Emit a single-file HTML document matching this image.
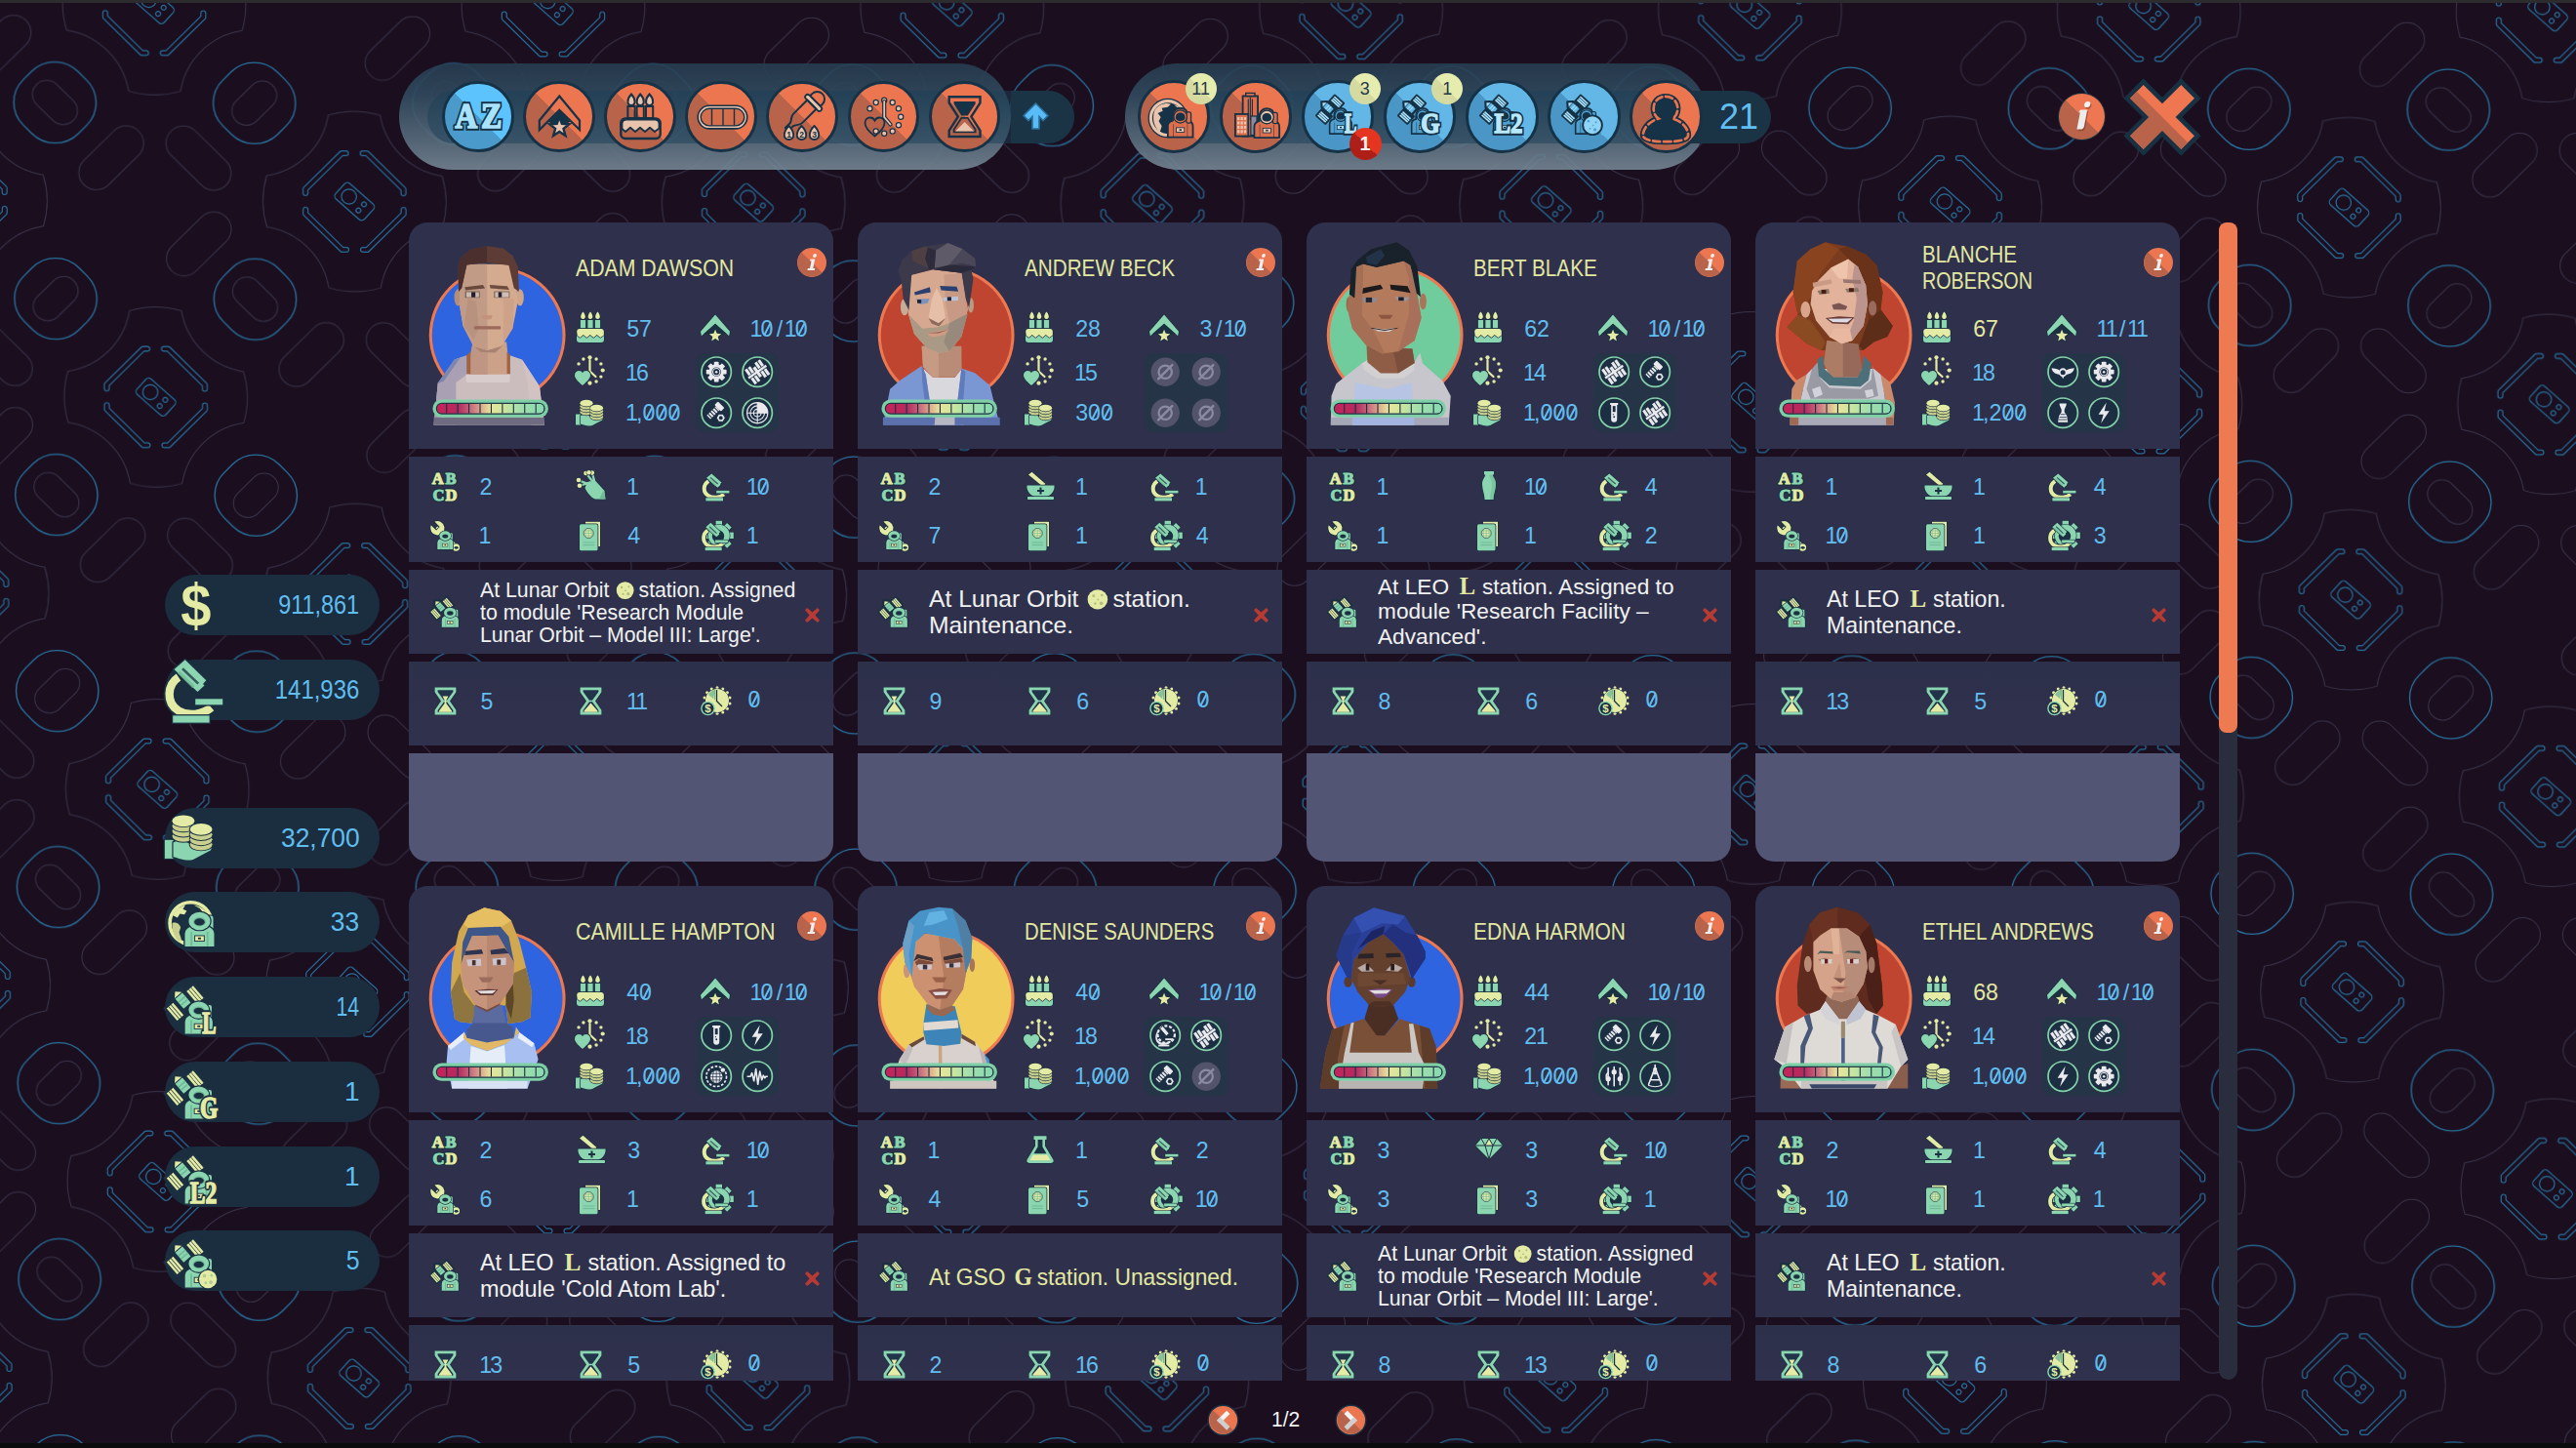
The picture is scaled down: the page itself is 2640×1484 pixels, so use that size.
<!DOCTYPE html><html><head><meta charset="utf-8"><title>Crew</title><style>
*{margin:0;padding:0;box-sizing:border-box}
html,body{width:2640px;height:1484px;overflow:hidden;background:#1a0e1f}
body{position:relative;font-family:"Liberation Sans", sans-serif;}
.abs{position:absolute}
.t{position:absolute;white-space:nowrap;line-height:1;transform-origin:0 50%}
.num{color:#60bdf0;font-size:23.2px}
.name{color:#e3e8a0;font-size:23.2px;}
.z{position:relative}.z::after{content:'';position:absolute;left:50%;top:50%;width:1.5px;height:.6em;background:currentColor;transform:translate(-50%,-46%) rotate(27deg)}.n{margin:0 -1.9px}.n:first-child{margin-left:-1.1px}.sl{margin:0 3.4px}
.sec{position:absolute;left:0;width:435px;background:#2f314c}
.card{position:absolute;width:435px;height:656px}
.st{position:absolute;color:#f1f1f1;white-space:nowrap;transform-origin:0 50%}
.pill{position:absolute;left:169px;width:219.5px;height:62px;border-radius:31px;background:#1a2e3f}
.pill .v{position:absolute;right:20px;top:50%;color:#60bdf0;font-size:28px;line-height:1;white-space:nowrap;transform-origin:100% 50%}
.cb{position:absolute;width:73.5px;height:73.5px;border-radius:50%;border:3.5px solid #163246}
.cb.o{background:linear-gradient(to top right,#b8634a 50%,#ec7650 50%)}
.cb.b{background:linear-gradient(to top right,#4a9bcb 50%,#5dc3fd 50%)}
.cb.b2{background:linear-gradient(to top right,#4a96c6 50%,#62b7e6 50%)}
.badge{position:absolute;width:32px;height:32px;border-radius:50%;background:#e2e6a0;color:#26384a;font-size:18px;line-height:32px;text-align:center}
</style></head><body><svg width="0" height="0" style="position:absolute"><defs><pattern id="bgp" patternUnits="userSpaceOnUse" width="402.0" height="402.0" x="0" y="0" patternTransform="matrix(1.017 0.00308 0.004 1 159.7 406.9)"><g transform="translate(201.0,201.0)"><path d="M-26.18,-88.41 A92.2,92.2 0 0 1 26.18,-88.41 A75.3,75.3 0 0 0 88.41,-26.18 A92.2,92.2 0 0 1 88.41,26.18 A75.3,75.3 0 0 0 26.18,88.41 A92.2,92.2 0 0 1 -26.18,88.41 A75.3,75.3 0 0 0 -88.41,26.18 A92.2,92.2 0 0 1 -88.41,-26.18 A75.3,75.3 0 0 0 -26.18,-88.41 Z" fill="none" stroke="#39334a" stroke-width="1"/><g transform="translate(-31,-31) rotate(-45) scale(1,1)" fill="none" stroke-linecap="round" stroke-linejoin="round"><path d="M-29,3 L-26,0 L26,0 L29,3" stroke="#27709c" stroke-width="6.0"/><path d="M-29,3 L-26,0 L26,0 L29,3" stroke="#1a0e1f" stroke-width="3.7"/></g><g transform="translate(31,-31) rotate(45) scale(1,1)" fill="none" stroke-linecap="round" stroke-linejoin="round"><path d="M-29,3 L-26,0 L26,0 L29,3" stroke="#27709c" stroke-width="6.0"/><path d="M-29,3 L-26,0 L26,0 L29,3" stroke="#1a0e1f" stroke-width="3.7"/></g><g transform="translate(-31,31) rotate(45) scale(1,-1)" fill="none" stroke-linecap="round" stroke-linejoin="round"><path d="M-29,3 L-26,0 L26,0 L29,3" stroke="#27709c" stroke-width="6.0"/><path d="M-29,3 L-26,0 L26,0 L29,3" stroke="#1a0e1f" stroke-width="3.7"/></g><g transform="translate(31,31) rotate(-45) scale(1,-1)" fill="none" stroke-linecap="round" stroke-linejoin="round"><path d="M-29,3 L-26,0 L26,0 L29,3" stroke="#27709c" stroke-width="6.0"/><path d="M-29,3 L-26,0 L26,0 L29,3" stroke="#1a0e1f" stroke-width="3.7"/></g><g transform="rotate(42)" fill="none" stroke="#27709c" stroke-width="1.15"><rect x="-19.5" y="-10.6" width="39" height="21.2" rx="4"/><circle cx="-7.5" cy="0" r="7.6"/><circle cx="9" cy="-4.2" r="2.4"/><circle cx="9" cy="4.2" r="2.4"/></g></g><g transform="translate(0,0)"><path d="M-26.18,-88.41 A92.2,92.2 0 0 1 26.18,-88.41 A75.3,75.3 0 0 0 88.41,-26.18 A92.2,92.2 0 0 1 88.41,26.18 A75.3,75.3 0 0 0 26.18,88.41 A92.2,92.2 0 0 1 -26.18,88.41 A75.3,75.3 0 0 0 -88.41,26.18 A92.2,92.2 0 0 1 -88.41,-26.18 A75.3,75.3 0 0 0 -26.18,-88.41 Z" fill="none" stroke="#39334a" stroke-width="1"/><g transform="translate(-31,-31) rotate(-45) scale(1,1)" fill="none" stroke-linecap="round" stroke-linejoin="round"><path d="M-29,3 L-26,0 L26,0 L29,3" stroke="#27709c" stroke-width="6.0"/><path d="M-29,3 L-26,0 L26,0 L29,3" stroke="#1a0e1f" stroke-width="3.7"/></g><g transform="translate(31,-31) rotate(45) scale(1,1)" fill="none" stroke-linecap="round" stroke-linejoin="round"><path d="M-29,3 L-26,0 L26,0 L29,3" stroke="#27709c" stroke-width="6.0"/><path d="M-29,3 L-26,0 L26,0 L29,3" stroke="#1a0e1f" stroke-width="3.7"/></g><g transform="translate(-31,31) rotate(45) scale(1,-1)" fill="none" stroke-linecap="round" stroke-linejoin="round"><path d="M-29,3 L-26,0 L26,0 L29,3" stroke="#27709c" stroke-width="6.0"/><path d="M-29,3 L-26,0 L26,0 L29,3" stroke="#1a0e1f" stroke-width="3.7"/></g><g transform="translate(31,31) rotate(-45) scale(1,-1)" fill="none" stroke-linecap="round" stroke-linejoin="round"><path d="M-29,3 L-26,0 L26,0 L29,3" stroke="#27709c" stroke-width="6.0"/><path d="M-29,3 L-26,0 L26,0 L29,3" stroke="#1a0e1f" stroke-width="3.7"/></g><g transform="rotate(42)" fill="none" stroke="#27709c" stroke-width="1.15"><rect x="-19.5" y="-10.6" width="39" height="21.2" rx="4"/><circle cx="-7.5" cy="0" r="7.6"/><circle cx="9" cy="-4.2" r="2.4"/><circle cx="9" cy="4.2" r="2.4"/></g></g><g transform="translate(402.0,0)"><path d="M-26.18,-88.41 A92.2,92.2 0 0 1 26.18,-88.41 A75.3,75.3 0 0 0 88.41,-26.18 A92.2,92.2 0 0 1 88.41,26.18 A75.3,75.3 0 0 0 26.18,88.41 A92.2,92.2 0 0 1 -26.18,88.41 A75.3,75.3 0 0 0 -88.41,26.18 A92.2,92.2 0 0 1 -88.41,-26.18 A75.3,75.3 0 0 0 -26.18,-88.41 Z" fill="none" stroke="#39334a" stroke-width="1"/><g transform="translate(-31,-31) rotate(-45) scale(1,1)" fill="none" stroke-linecap="round" stroke-linejoin="round"><path d="M-29,3 L-26,0 L26,0 L29,3" stroke="#27709c" stroke-width="6.0"/><path d="M-29,3 L-26,0 L26,0 L29,3" stroke="#1a0e1f" stroke-width="3.7"/></g><g transform="translate(31,-31) rotate(45) scale(1,1)" fill="none" stroke-linecap="round" stroke-linejoin="round"><path d="M-29,3 L-26,0 L26,0 L29,3" stroke="#27709c" stroke-width="6.0"/><path d="M-29,3 L-26,0 L26,0 L29,3" stroke="#1a0e1f" stroke-width="3.7"/></g><g transform="translate(-31,31) rotate(45) scale(1,-1)" fill="none" stroke-linecap="round" stroke-linejoin="round"><path d="M-29,3 L-26,0 L26,0 L29,3" stroke="#27709c" stroke-width="6.0"/><path d="M-29,3 L-26,0 L26,0 L29,3" stroke="#1a0e1f" stroke-width="3.7"/></g><g transform="translate(31,31) rotate(-45) scale(1,-1)" fill="none" stroke-linecap="round" stroke-linejoin="round"><path d="M-29,3 L-26,0 L26,0 L29,3" stroke="#27709c" stroke-width="6.0"/><path d="M-29,3 L-26,0 L26,0 L29,3" stroke="#1a0e1f" stroke-width="3.7"/></g><g transform="rotate(42)" fill="none" stroke="#27709c" stroke-width="1.15"><rect x="-19.5" y="-10.6" width="39" height="21.2" rx="4"/><circle cx="-7.5" cy="0" r="7.6"/><circle cx="9" cy="-4.2" r="2.4"/><circle cx="9" cy="4.2" r="2.4"/></g></g><g transform="translate(0,402.0)"><path d="M-26.18,-88.41 A92.2,92.2 0 0 1 26.18,-88.41 A75.3,75.3 0 0 0 88.41,-26.18 A92.2,92.2 0 0 1 88.41,26.18 A75.3,75.3 0 0 0 26.18,88.41 A92.2,92.2 0 0 1 -26.18,88.41 A75.3,75.3 0 0 0 -88.41,26.18 A92.2,92.2 0 0 1 -88.41,-26.18 A75.3,75.3 0 0 0 -26.18,-88.41 Z" fill="none" stroke="#39334a" stroke-width="1"/><g transform="translate(-31,-31) rotate(-45) scale(1,1)" fill="none" stroke-linecap="round" stroke-linejoin="round"><path d="M-29,3 L-26,0 L26,0 L29,3" stroke="#27709c" stroke-width="6.0"/><path d="M-29,3 L-26,0 L26,0 L29,3" stroke="#1a0e1f" stroke-width="3.7"/></g><g transform="translate(31,-31) rotate(45) scale(1,1)" fill="none" stroke-linecap="round" stroke-linejoin="round"><path d="M-29,3 L-26,0 L26,0 L29,3" stroke="#27709c" stroke-width="6.0"/><path d="M-29,3 L-26,0 L26,0 L29,3" stroke="#1a0e1f" stroke-width="3.7"/></g><g transform="translate(-31,31) rotate(45) scale(1,-1)" fill="none" stroke-linecap="round" stroke-linejoin="round"><path d="M-29,3 L-26,0 L26,0 L29,3" stroke="#27709c" stroke-width="6.0"/><path d="M-29,3 L-26,0 L26,0 L29,3" stroke="#1a0e1f" stroke-width="3.7"/></g><g transform="translate(31,31) rotate(-45) scale(1,-1)" fill="none" stroke-linecap="round" stroke-linejoin="round"><path d="M-29,3 L-26,0 L26,0 L29,3" stroke="#27709c" stroke-width="6.0"/><path d="M-29,3 L-26,0 L26,0 L29,3" stroke="#1a0e1f" stroke-width="3.7"/></g><g transform="rotate(42)" fill="none" stroke="#27709c" stroke-width="1.15"><rect x="-19.5" y="-10.6" width="39" height="21.2" rx="4"/><circle cx="-7.5" cy="0" r="7.6"/><circle cx="9" cy="-4.2" r="2.4"/><circle cx="9" cy="4.2" r="2.4"/></g></g><g transform="translate(402.0,402.0)"><path d="M-26.18,-88.41 A92.2,92.2 0 0 1 26.18,-88.41 A75.3,75.3 0 0 0 88.41,-26.18 A92.2,92.2 0 0 1 88.41,26.18 A75.3,75.3 0 0 0 26.18,88.41 A92.2,92.2 0 0 1 -26.18,88.41 A75.3,75.3 0 0 0 -88.41,26.18 A92.2,92.2 0 0 1 -88.41,-26.18 A75.3,75.3 0 0 0 -26.18,-88.41 Z" fill="none" stroke="#39334a" stroke-width="1"/><g transform="translate(-31,-31) rotate(-45) scale(1,1)" fill="none" stroke-linecap="round" stroke-linejoin="round"><path d="M-29,3 L-26,0 L26,0 L29,3" stroke="#27709c" stroke-width="6.0"/><path d="M-29,3 L-26,0 L26,0 L29,3" stroke="#1a0e1f" stroke-width="3.7"/></g><g transform="translate(31,-31) rotate(45) scale(1,1)" fill="none" stroke-linecap="round" stroke-linejoin="round"><path d="M-29,3 L-26,0 L26,0 L29,3" stroke="#27709c" stroke-width="6.0"/><path d="M-29,3 L-26,0 L26,0 L29,3" stroke="#1a0e1f" stroke-width="3.7"/></g><g transform="translate(-31,31) rotate(45) scale(1,-1)" fill="none" stroke-linecap="round" stroke-linejoin="round"><path d="M-29,3 L-26,0 L26,0 L29,3" stroke="#27709c" stroke-width="6.0"/><path d="M-29,3 L-26,0 L26,0 L29,3" stroke="#1a0e1f" stroke-width="3.7"/></g><g transform="translate(31,31) rotate(-45) scale(1,-1)" fill="none" stroke-linecap="round" stroke-linejoin="round"><path d="M-29,3 L-26,0 L26,0 L29,3" stroke="#27709c" stroke-width="6.0"/><path d="M-29,3 L-26,0 L26,0 L29,3" stroke="#1a0e1f" stroke-width="3.7"/></g><g transform="rotate(42)" fill="none" stroke="#27709c" stroke-width="1.15"><rect x="-19.5" y="-10.6" width="39" height="21.2" rx="4"/><circle cx="-7.5" cy="0" r="7.6"/><circle cx="9" cy="-4.2" r="2.4"/><circle cx="9" cy="4.2" r="2.4"/></g></g><g transform="translate(100.5,100.5)"><rect x="-39" y="-39" width="78" height="78" rx="33" transform="rotate(45)" fill="none" stroke="#27709c" stroke-width="1.35"/><rect x="-26" y="-14.5" width="52" height="29" rx="14.5" transform="rotate(-45)" fill="none" stroke="#39334a" stroke-width="1"/></g><g transform="translate(301.5,100.5)"><rect x="-39" y="-39" width="78" height="78" rx="33" transform="rotate(45)" fill="none" stroke="#27709c" stroke-width="1.35"/><rect x="-26" y="-14.5" width="52" height="29" rx="14.5" transform="rotate(45)" fill="none" stroke="#39334a" stroke-width="1"/></g><g transform="translate(100.5,301.5)"><rect x="-39" y="-39" width="78" height="78" rx="33" transform="rotate(45)" fill="none" stroke="#27709c" stroke-width="1.35"/><rect x="-26" y="-14.5" width="52" height="29" rx="14.5" transform="rotate(45)" fill="none" stroke="#39334a" stroke-width="1"/></g><g transform="translate(301.5,301.5)"><rect x="-39" y="-39" width="78" height="78" rx="33" transform="rotate(45)" fill="none" stroke="#27709c" stroke-width="1.35"/><rect x="-26" y="-14.5" width="52" height="29" rx="14.5" transform="rotate(-45)" fill="none" stroke="#39334a" stroke-width="1"/></g><rect x="-39" y="-17.5" width="78" height="35" rx="17.5" transform="translate(157.0,-44) rotate(-45)" fill="none" stroke="#39334a" stroke-width="1"/><rect x="-39" y="-17.5" width="78" height="35" rx="17.5" transform="translate(245.0,-44) rotate(45)" fill="none" stroke="#39334a" stroke-width="1"/><rect x="-39" y="-17.5" width="78" height="35" rx="17.5" transform="translate(245.0,44) rotate(-45)" fill="none" stroke="#39334a" stroke-width="1"/><rect x="-39" y="-17.5" width="78" height="35" rx="17.5" transform="translate(-44,157.0) rotate(-45)" fill="none" stroke="#39334a" stroke-width="1"/><rect x="-39" y="-17.5" width="78" height="35" rx="17.5" transform="translate(44,157.0) rotate(45)" fill="none" stroke="#39334a" stroke-width="1"/><rect x="-39" y="-17.5" width="78" height="35" rx="17.5" transform="translate(44,245.0) rotate(-45)" fill="none" stroke="#39334a" stroke-width="1"/><rect x="-39" y="-17.5" width="78" height="35" rx="17.5" transform="translate(157.0,358.0) rotate(-45)" fill="none" stroke="#39334a" stroke-width="1"/><rect x="-39" y="-17.5" width="78" height="35" rx="17.5" transform="translate(245.0,358.0) rotate(45)" fill="none" stroke="#39334a" stroke-width="1"/><rect x="-39" y="-17.5" width="78" height="35" rx="17.5" transform="translate(245.0,446.0) rotate(-45)" fill="none" stroke="#39334a" stroke-width="1"/><rect x="-39" y="-17.5" width="78" height="35" rx="17.5" transform="translate(358.0,157.0) rotate(-45)" fill="none" stroke="#39334a" stroke-width="1"/><rect x="-39" y="-17.5" width="78" height="35" rx="17.5" transform="translate(446.0,157.0) rotate(45)" fill="none" stroke="#39334a" stroke-width="1"/><rect x="-39" y="-17.5" width="78" height="35" rx="17.5" transform="translate(446.0,245.0) rotate(-45)" fill="none" stroke="#39334a" stroke-width="1"/></pattern><linearGradient id="mbg" x1="0" x2="1" y1="0" y2="0"><stop offset="0" stop-color="#c5225a"/><stop offset="0.1" stop-color="#c0255b"/><stop offset="0.2" stop-color="#b12c60"/><stop offset="0.3" stop-color="#c4607a"/><stop offset="0.4" stop-color="#dba28b"/><stop offset="0.5" stop-color="#e8e49c"/><stop offset="0.6" stop-color="#d4e69d"/><stop offset="0.7" stop-color="#b8e3a6"/><stop offset="0.8" stop-color="#a0deab"/><stop offset="1" stop-color="#88d9b1"/></linearGradient><clipPath id="mbc"><rect x="129" y="1258" width="794" height="72" rx="36"/></clipPath><symbol id="i-cake" viewBox="0 0 30 34" overflow="visible"><path d="M7.5,1.5 C10.7,5 10.5,9 7.5,9 C4.5,9 4.3,5 7.5,1.5 Z" fill="#e4eba4" stroke="#1b3142" stroke-width="1.6" stroke-linejoin="round" paint-order="stroke"/><rect x="4.9" y="10" width="5.2" height="9" fill="#8bd6b0" stroke="#1b3142" stroke-width="1.6" stroke-linejoin="round" paint-order="stroke"/><path d="M15,1.5 C18.2,5 18,9 15,9 C12,9 11.8,5 15,1.5 Z" fill="#e4eba4" stroke="#1b3142" stroke-width="1.6" stroke-linejoin="round" paint-order="stroke"/><rect x="12.4" y="10" width="5.2" height="9" fill="#8bd6b0" stroke="#1b3142" stroke-width="1.6" stroke-linejoin="round" paint-order="stroke"/><path d="M22.5,1.5 C25.7,5 25.5,9 22.5,9 C19.5,9 19.3,5 22.5,1.5 Z" fill="#e4eba4" stroke="#1b3142" stroke-width="1.6" stroke-linejoin="round" paint-order="stroke"/><rect x="19.9" y="10" width="5.2" height="9" fill="#8bd6b0" stroke="#1b3142" stroke-width="1.6" stroke-linejoin="round" paint-order="stroke"/><rect x="1" y="19" width="28" height="14" rx="3" fill="#8bd6b0" stroke="#1b3142" stroke-width="1.6" stroke-linejoin="round" paint-order="stroke"/><path d="M1.2,22 a3,3 0 0 1 3,-3 h21.6 a3,3 0 0 1 3,3 v3.5 l-3.5,2.5 l-3.5,-3 l-3.5,3 l-3.5,-3 l-3.5,3 l-3.5,-3 l-3.5,3 l-2.6,-2.2 Z" fill="#e4eba4" stroke="#1b3142" stroke-width="1.2" stroke-linejoin="round" paint-order="stroke"/></symbol><symbol id="i-rank" viewBox="0 0 30.5 30" overflow="visible"><path d="M15.3,1.4 L30.5,18.9 L29.6,23.3 L15.3,10.8 L0.9,23.3 L0,18.9 Z" fill="#8bd6b0" stroke="#1b3142" stroke-width="1.6" stroke-linejoin="round" paint-order="stroke"/><path d="M15.3,10.8 L27,21 L21.5,22 L15.3,17 L9,22 L3.5,21 Z" fill="#1b3142"/><polygon points="15.30,16.70 17.00,20.95 21.58,21.26 18.06,24.20 19.18,28.64 15.30,26.20 11.42,28.64 12.54,24.20 9.02,21.26 13.60,20.95" fill="#e4eba4" stroke="#1b3142" stroke-width="1.8" stroke-linejoin="round" paint-order="stroke"/></symbol><symbol id="i-clockheart" viewBox="0 0 31 31" overflow="visible"><circle cx="15.50" cy="1.30" r="2.1" fill="#e4eba4"/><circle cx="22.10" cy="3.07" r="1.7" fill="#e4eba4"/><circle cx="26.93" cy="7.90" r="1.7" fill="#e4eba4"/><circle cx="28.70" cy="14.50" r="2.1" fill="#e4eba4"/><circle cx="26.93" cy="21.10" r="1.7" fill="#e4eba4"/><circle cx="22.10" cy="25.93" r="1.7" fill="#e4eba4"/><circle cx="15.50" cy="27.70" r="2.1" fill="#e4eba4"/><circle cx="8.90" cy="25.93" r="1.7" fill="#e4eba4"/><circle cx="4.07" cy="7.90" r="1.7" fill="#e4eba4"/><circle cx="8.90" cy="3.07" r="1.7" fill="#e4eba4"/><path d="M15.5,4 L15.5,15.5 L21.5,21" fill="none" stroke="#e4eba4" stroke-width="2.2" stroke-linecap="round" stroke-linejoin="round"/><path d="M8,30 C2,25 0,22 0,19.5 C0,16.5 2.2,15 4.4,15 C6,15 7.3,15.9 8,17.3 C8.7,15.9 10,15 11.6,15 C13.8,15 16,16.5 16,19.5 C16,22 14,25 8,30 Z" fill="#8bd6b0" stroke="#1b3142" stroke-width="1.4" stroke-linejoin="round" paint-order="stroke"/></symbol><symbol id="i-coins" viewBox="0 0 31 28" overflow="visible"><path d="M1,15.5 h5 v11 h-5 Z" fill="#8bd6b0" stroke="#1b3142" stroke-width="1.4" stroke-linejoin="round" paint-order="stroke"/><path d="M6,17 C10,15 13,16 16,18 L22,18 C24,18 24,21 22,21 L17,21 L26,19 C28.5,18.5 29.5,21 27.5,22 L18,27 C14,28.5 9,26 6,25.5 Z" fill="#8bd6b0" stroke="#1b3142" stroke-width="1.4" stroke-linejoin="round" paint-order="stroke"/><ellipse cx="12" cy="13.2" rx="6.6" ry="3.4" fill="#c9d08e" stroke="#1b3142" stroke-width="1.1" stroke-linejoin="round" paint-order="stroke"/><ellipse cx="12" cy="10.2" rx="6.6" ry="3.4" fill="#c9d08e" stroke="#1b3142" stroke-width="1.1" stroke-linejoin="round" paint-order="stroke"/><ellipse cx="12" cy="7.2" rx="6.6" ry="3.4" fill="#c9d08e" stroke="#1b3142" stroke-width="1.1" stroke-linejoin="round" paint-order="stroke"/><ellipse cx="12" cy="4.2" rx="6.6" ry="3.4" fill="#e4eba4" stroke="#1b3142" stroke-width="1.1" stroke-linejoin="round" paint-order="stroke"/><ellipse cx="22.5" cy="18.2" rx="6.6" ry="3.4" fill="#c9d08e" stroke="#1b3142" stroke-width="1.1" stroke-linejoin="round" paint-order="stroke"/><ellipse cx="22.5" cy="15.2" rx="6.6" ry="3.4" fill="#c9d08e" stroke="#1b3142" stroke-width="1.1" stroke-linejoin="round" paint-order="stroke"/><ellipse cx="22.5" cy="12.2" rx="6.6" ry="3.4" fill="#c9d08e" stroke="#1b3142" stroke-width="1.1" stroke-linejoin="round" paint-order="stroke"/><ellipse cx="22.5" cy="9.2" rx="6.6" ry="3.4" fill="#e4eba4" stroke="#1b3142" stroke-width="1.1" stroke-linejoin="round" paint-order="stroke"/></symbol><symbol id="i-abcd" viewBox="0 0 28 31" overflow="visible"><g font-family="Liberation Serif" font-weight="bold" font-size="16.5"><text x="0.8" y="13.3" fill="#1b3142" stroke="#1b3142" stroke-width="3.6" stroke-linejoin="round">A</text><text x="14.6" y="13.3" fill="#1b3142" stroke="#1b3142" stroke-width="3.6" stroke-linejoin="round">B</text><text x="1.6" y="29.6" fill="#1b3142" stroke="#1b3142" stroke-width="3.6" stroke-linejoin="round">C</text><text x="14.4" y="29.6" fill="#1b3142" stroke="#1b3142" stroke-width="3.6" stroke-linejoin="round">D</text><text x="0.8" y="13.3" fill="#e4eba4" stroke="#e4eba4" stroke-width="1.1" stroke-linejoin="round">A</text><text x="14.6" y="13.3" fill="#8bd6b0" stroke="#8bd6b0" stroke-width="1.1" stroke-linejoin="round">B</text><text x="1.6" y="29.6" fill="#8bd6b0" stroke="#8bd6b0" stroke-width="1.1" stroke-linejoin="round">C</text><text x="14.4" y="29.6" fill="#e4eba4" stroke="#e4eba4" stroke-width="1.1" stroke-linejoin="round">D</text></g></symbol><symbol id="i-micro" viewBox="0 0 58.5 69" preserveAspectRatio="none" overflow="visible"><path d="M13,21 C1.5,28.5 -0.5,47 13,55.5 C23,61.5 38,59.5 46.5,52" stroke="#1b3142" stroke-width="12" fill="none" stroke-linecap="butt"/><path d="M13,21 C1.5,28.5 -0.5,47 13,55.5 C23,61.5 38,59.5 46.5,52" stroke="#e4eba4" stroke-width="8.4" fill="none" stroke-linecap="butt"/><rect x="30.2" y="43.3" width="28" height="6" fill="#8bd6b0" stroke="#1b3142" stroke-width="2.6" paint-order="stroke"/><rect x="7.2" y="60.4" width="37.4" height="7.2" fill="#8bd6b0" stroke="#1b3142" stroke-width="2.6" paint-order="stroke"/><path d="M8.5,13.1 L19.7,3.3 L41.3,24.3 L38,28 L39.5,29.5 L32.5,36 L30.8,34.5 Z" fill="#8bd6b0" stroke="#1b3142" stroke-width="3" stroke-linejoin="round" paint-order="stroke"/><path d="M17,12.2 L33.2,27.6" stroke="#1b3142" stroke-width="2.6" opacity=".75"/><path d="M13,15.8 L28.5,31" stroke="#6fb996" stroke-width="3.4" opacity=".7"/></symbol><symbol id="i-gearmicro" viewBox="0 0 30 31" overflow="visible"><rect x="-3.2" y="-15" width="6.4" height="7" transform="translate(17.8,14.8) rotate(0)" fill="#8bd6b0" stroke="#1b3142" stroke-width="1.3" stroke-linejoin="round" paint-order="stroke"/><rect x="-3.2" y="-15" width="6.4" height="7" transform="translate(17.8,14.8) rotate(45)" fill="#8bd6b0" stroke="#1b3142" stroke-width="1.3" stroke-linejoin="round" paint-order="stroke"/><rect x="-3.2" y="-15" width="6.4" height="7" transform="translate(17.8,14.8) rotate(90)" fill="#8bd6b0" stroke="#1b3142" stroke-width="1.3" stroke-linejoin="round" paint-order="stroke"/><rect x="-3.2" y="-15" width="6.4" height="7" transform="translate(17.8,14.8) rotate(135)" fill="#8bd6b0" stroke="#1b3142" stroke-width="1.3" stroke-linejoin="round" paint-order="stroke"/><rect x="-3.2" y="-15" width="6.4" height="7" transform="translate(17.8,14.8) rotate(180)" fill="#8bd6b0" stroke="#1b3142" stroke-width="1.3" stroke-linejoin="round" paint-order="stroke"/><rect x="-3.2" y="-15" width="6.4" height="7" transform="translate(17.8,14.8) rotate(225)" fill="#8bd6b0" stroke="#1b3142" stroke-width="1.3" stroke-linejoin="round" paint-order="stroke"/><rect x="-3.2" y="-15" width="6.4" height="7" transform="translate(17.8,14.8) rotate(270)" fill="#8bd6b0" stroke="#1b3142" stroke-width="1.3" stroke-linejoin="round" paint-order="stroke"/><rect x="-3.2" y="-15" width="6.4" height="7" transform="translate(17.8,14.8) rotate(315)" fill="#8bd6b0" stroke="#1b3142" stroke-width="1.3" stroke-linejoin="round" paint-order="stroke"/><circle cx="17.8" cy="14.8" r="11" fill="#8bd6b0" stroke="#1b3142" stroke-width="1.3" stroke-linejoin="round" paint-order="stroke"/><circle cx="17" cy="15.5" r="6.2" fill="#1b3142"/><g transform="translate(0.4,0.4) scale(0.455,0.44)"><path d="M13,21 C1.5,28.5 -0.5,47 13,55.5 C23,61.5 38,59.5 46.5,52" stroke="#1b3142" stroke-width="12" fill="none" stroke-linecap="butt"/><path d="M13,21 C1.5,28.5 -0.5,47 13,55.5 C23,61.5 38,59.5 46.5,52" stroke="#e4eba4" stroke-width="8.4" fill="none" stroke-linecap="butt"/><rect x="30.2" y="43.3" width="28" height="6" fill="#8bd6b0" stroke="#1b3142" stroke-width="2.6" paint-order="stroke"/><rect x="7.2" y="60.4" width="37.4" height="7.2" fill="#8bd6b0" stroke="#1b3142" stroke-width="2.6" paint-order="stroke"/><path d="M8.5,13.1 L19.7,3.3 L41.3,24.3 L38,28 L39.5,29.5 L32.5,36 L30.8,34.5 Z" fill="#8bd6b0" stroke="#1b3142" stroke-width="3" stroke-linejoin="round" paint-order="stroke"/><path d="M17,12.2 L33.2,27.6" stroke="#1b3142" stroke-width="2.6" opacity=".75"/><path d="M13,15.8 L28.5,31" stroke="#6fb996" stroke-width="3.4" opacity=".7"/></g></symbol><symbol id="i-wrenchastro" viewBox="0 0 31 31" overflow="visible"><path d="M8,8 L26.3,27" stroke="#1b3142" stroke-width="6.6" stroke-linecap="round" fill="none"/><path d="M8,8 L26.3,27" stroke="#e4eba4" stroke-width="4.8" stroke-linecap="round" fill="none"/><circle cx="26.3" cy="27" r="3.8" fill="#e4eba4" stroke="#1b3142" stroke-width="1.4" stroke-linejoin="round" paint-order="stroke"/><ellipse cx="26.6" cy="27.3" rx="2" ry="1.4" fill="#1b3142"/><path d="M4.39,0.62 A7.2,7.2 0 1 1 0.72,4.29 L6.03,9.6 L9.7,5.93 Z" fill="#e4eba4" stroke="#1b3142" stroke-width="1.5" stroke-linejoin="round" paint-order="stroke"/><g transform="translate(6.8,9.8) scale(1.0)"><rect x="12.4" y="2.4" width="3.6" height="8" rx="1.2" fill="#8bd6b0" stroke="#1b3142" stroke-width="1.2" stroke-linejoin="round" paint-order="stroke"/><path d="M0.5,19.2 L0.5,12.6 C0.5,9.8 2.4,8.6 4.6,8.2 L12.4,8.2 C14.6,8.6 16.5,9.8 16.5,12.6 L16.5,19.2 Z" fill="#8bd6b0" stroke="#1b3142" stroke-width="1.4" stroke-linejoin="round" paint-order="stroke"/><ellipse cx="8.5" cy="5.3" rx="5.9" ry="4.9" fill="#8bd6b0" stroke="#1b3142" stroke-width="1.3" stroke-linejoin="round" paint-order="stroke"/><ellipse cx="8.5" cy="5.7" rx="3.5" ry="2.5" fill="#6fb996"/><ellipse cx="8.5" cy="5.8" rx="2.9" ry="1.9" fill="#1b3142"/><rect x="5.9" y="13.3" width="5.2" height="3" fill="#e4eba4" stroke="#1b3142" stroke-width=".5"/><rect x="7.7" y="14.3" width="1.6" height="1" fill="#1b3142"/><path d="M4.1,11.2 L4.1,19 M12.9,11.2 L12.9,19" stroke="#6fb996" stroke-width=".9" fill="none"/></g></symbol><symbol id="i-passport" viewBox="0 0 24 31" overflow="visible"><path d="M7,0.8 L22,0.8 L22,26 L7,26 Z" fill="#e4eba4" stroke="#1b3142" stroke-width="1.6" stroke-linejoin="round" paint-order="stroke"/><rect x="1" y="3.2" width="18.5" height="27" rx="1.5" fill="#8bd6b0" stroke="#1b3142" stroke-width="1.6" stroke-linejoin="round" paint-order="stroke"/><circle cx="10.2" cy="12.5" r="5" fill="#e4eba4" stroke="#1b3142" stroke-width=".7"/><path d="M5.2,12.5 H15.2 M10.2,7.5 V17.5 M6,10 H14.4 M6,15 H14.4 M8,8 C6.8,11 6.8,14 8,17 M12.4,8 C13.6,11 13.6,14 12.4,17" stroke="#6fb996" stroke-width=".6" fill="none"/><path d="M4.5,22 H16 M4.5,24.6 H16" stroke="#6fb996" stroke-width="1"/></symbol><symbol id="i-hand" viewBox="0 0 32 31" overflow="visible"><path d="M12,12 L20,10.5 L29.5,21 L30.5,29.5 L20,29.5 C16,28.5 11,22 9.5,18 Z" fill="#8bd6b0" stroke="#1b3142" stroke-width="1.6" stroke-linejoin="round" paint-order="stroke"/><path d="M30.5,29.5 L28.5,21 L24,29.5 Z" fill="#6fb996"/><path d="M13,14 L3.5,10.5 M14.5,12.5 L5,15.5 M17,11 L11,3.5 M19,10.5 L17,3" stroke="#8bd6b0" stroke-width="2.3" stroke-linecap="round" fill="none"/><circle cx="3" cy="10" r="2.3" fill="#e4eba4" stroke="#1b3142" stroke-width="1.1" stroke-linejoin="round" paint-order="stroke"/><circle cx="4" cy="15.8" r="2.3" fill="#e4eba4" stroke="#1b3142" stroke-width="1.1" stroke-linejoin="round" paint-order="stroke"/><circle cx="10.5" cy="3" r="2.3" fill="#e4eba4" stroke="#1b3142" stroke-width="1.1" stroke-linejoin="round" paint-order="stroke"/><circle cx="16.8" cy="2.6" r="2.3" fill="#e4eba4" stroke="#1b3142" stroke-width="1.1" stroke-linejoin="round" paint-order="stroke"/><circle cx="13.5" cy="2.2" r="2.3" fill="#e4eba4" stroke="#1b3142" stroke-width="1.1" stroke-linejoin="round" paint-order="stroke"/></symbol><symbol id="i-mortar" viewBox="0 0 31 30" overflow="visible"><path d="M3,3.5 L6.5,0.8 L20.5,13 L17.5,15.5 Z" fill="#e4eba4" stroke="#1b3142" stroke-width="1.6" stroke-linejoin="round" paint-order="stroke"/><path d="M1.5,14.5 L29.5,14.5 L29.5,17 C28.5,23 24,25.5 21,25.5 L10,25.5 C7,25.5 2.5,23 1.5,17 Z" fill="#8bd6b0" stroke="#1b3142" stroke-width="1.6" stroke-linejoin="round" paint-order="stroke"/><rect x="2" y="26" width="27" height="3" rx=".8" fill="#8bd6b0" stroke="#1b3142" stroke-width="1.2" stroke-linejoin="round" paint-order="stroke"/><path d="M15.5,16.5 V23.5 M12,20 H19" stroke="#1b3142" stroke-width="2"/></symbol><symbol id="i-vase" viewBox="0 0 16 31" overflow="visible"><path d="M3,1 H13 V4.5 H11.8 C11.8,7 15,9 15,14 C15,20 12.5,24 12.5,30 H3.5 C3.5,24 1,20 1,14 C1,9 4.2,7 4.2,4.5 H3 Z" fill="#8bd6b0" stroke="#1b3142" stroke-width="1.6" stroke-linejoin="round" paint-order="stroke"/><path d="M8,5 C8.5,8 11,10 11,14 C11,20 9,24 9,30 H12.5 C12.5,24 15,20 15,14 C15,9 11.8,7 11.8,4.5 Z" fill="#6fb996" opacity=".6"/></symbol><symbol id="i-flask" viewBox="0 0 30 30" overflow="visible"><path d="M8.5,1.2 H21.5 V5 H20 V11.5 L28.4,25.6 C29.2,27.4 28.2,29 26,29 H4 C1.8,29 0.8,27.4 1.6,25.6 L10,11.5 V5 H8.5 Z" fill="#8bd6b0" stroke="#1b3142" stroke-width="1.6" stroke-linejoin="round" paint-order="stroke"/><path d="M12.6,5 H17.4 V12.3 L21.5,19.2 H8.5 L12.6,12.3 Z" fill="#1b3142"/><path d="M7.6,20.6 H22.4 L25,25 C25.4,25.8 25,26.2 24.2,26.2 H5.8 C5,26.2 4.6,25.8 5,25 Z" fill="#e4eba4"/></symbol><symbol id="i-diamond" viewBox="0 0 30 23" overflow="visible"><path d="M7,1 H23 L29,8 L15,22 L1,8 Z" fill="#8bd6b0" stroke="#1b3142" stroke-width="1.6" stroke-linejoin="round" paint-order="stroke"/><path d="M1,8 H29 M7,1 L11,8 L15,1 L19,8 L23,1 M11,8 L15,22 L19,8" stroke="#1b3142" stroke-width="1" fill="none"/><path d="M11,8 L15,1 L19,8 Z" fill="#e4eba4" stroke="#1b3142" stroke-width=".8"/></symbol><symbol id="i-stationastro" viewBox="0 0 31 31" overflow="visible"><g transform="translate(0,0) scale(1.0)"><g transform="translate(10.75,11.65) rotate(-40.6)"><path d="M-11.8,-5.8 H-4.6 V-7.6 L0,-11.6 L4.6,-7.6 V-5.8 H11.8 V5.8 H4.6 V3.4 H-4.6 V5.8 H-11.8 Z" fill="#1b3142" stroke="#1b3142" stroke-width="1.6" stroke-linejoin="round"/><rect x="-10.85" y="-5" width="1.5" height="10" fill="#e4eba4"/><rect x="-8.95" y="-5" width="1.5" height="10" fill="#e4eba4"/><rect x="-7.05" y="-5" width="1.5" height="10" fill="#e4eba4"/><rect x="5.55" y="-5" width="1.5" height="10" fill="#e4eba4"/><rect x="7.45" y="-5" width="1.5" height="10" fill="#e4eba4"/><rect x="9.35" y="-5" width="1.5" height="10" fill="#e4eba4"/><path d="M-2.9,-6.6 L0,-9.6 L2.9,-6.6 Z" fill="#e4eba4"/><rect x="-2.9" y="-6" width="5.8" height="8" fill="#8bd6b0"/><rect x="-2.9" y="-3.6" width="5.8" height="1" fill="#6fb996"/><rect x="-2.9" y="-1.2" width="5.8" height="1" fill="#6fb996"/></g></g><g transform="translate(10.2,10.2) scale(1.07)"><rect x="12.4" y="2.4" width="3.6" height="8" rx="1.2" fill="#8bd6b0" stroke="#1b3142" stroke-width="1.2" stroke-linejoin="round" paint-order="stroke"/><path d="M0.5,19.2 L0.5,12.6 C0.5,9.8 2.4,8.6 4.6,8.2 L12.4,8.2 C14.6,8.6 16.5,9.8 16.5,12.6 L16.5,19.2 Z" fill="#8bd6b0" stroke="#1b3142" stroke-width="1.4" stroke-linejoin="round" paint-order="stroke"/><ellipse cx="8.5" cy="5.3" rx="5.9" ry="4.9" fill="#8bd6b0" stroke="#1b3142" stroke-width="1.3" stroke-linejoin="round" paint-order="stroke"/><ellipse cx="8.5" cy="5.7" rx="3.5" ry="2.5" fill="#6fb996"/><ellipse cx="8.5" cy="5.8" rx="2.9" ry="1.9" fill="#1b3142"/><rect x="5.9" y="13.3" width="5.2" height="3" fill="#e4eba4" stroke="#1b3142" stroke-width=".5"/><rect x="7.7" y="14.3" width="1.6" height="1" fill="#1b3142"/><path d="M4.1,11.2 L4.1,19 M12.9,11.2 L12.9,19" stroke="#6fb996" stroke-width=".9" fill="none"/></g></symbol><symbol id="i-hga" viewBox="0 0 23 29" overflow="visible"><path d="M0.6,0.6 H22.4 V5.2 L16,14.5 L22.4,23.8 V28.4 H0.6 V23.8 L7,14.5 L0.6,5.2 Z" fill="#8bd6b0" stroke="#1b3142" stroke-width="1.3" stroke-linejoin="round" paint-order="stroke"/><path d="M3.6,3.2 H19.4 V4.9 L13,13.8 H10 L3.6,4.9 Z" fill="#22344a"/><path d="M10,15.2 H13 L19.4,24.1 V25.8 H3.6 V24.1 Z" fill="#22344a"/><path d="M8.6,9.4 H14.4 L12.4,13.6 V17 L18,24.4 V25.8 H5 V24.4 L10.6,17 V13.6 Z" fill="#e4eba4"/></symbol><symbol id="i-hgb" viewBox="0 0 23 29" overflow="visible"><path d="M0.6,0.6 H22.4 V5.2 L16,14.5 L22.4,23.8 V28.4 H0.6 V23.8 L7,14.5 L0.6,5.2 Z" fill="#8bd6b0" stroke="#1b3142" stroke-width="1.3" stroke-linejoin="round" paint-order="stroke"/><path d="M3.6,3.2 H19.4 V4.9 L13,13.8 H10 L3.6,4.9 Z" fill="#22344a"/><path d="M10,15.2 H13 L19.4,24.1 V25.8 H3.6 V24.1 Z" fill="#22344a"/><path d="M11.5,16.4 L18.4,24.4 V25.8 H4.6 V24.4 Z" fill="#e4eba4"/></symbol><symbol id="i-moneyclock" viewBox="0 0 31 31" overflow="visible"><circle cx="17.00" cy="1.70" r="1.5" fill="#e4eba4"/><circle cx="22.77" cy="3.02" r="1.5" fill="#e4eba4"/><circle cx="27.40" cy="6.71" r="1.5" fill="#e4eba4"/><circle cx="29.97" cy="12.04" r="1.5" fill="#e4eba4"/><circle cx="29.97" cy="17.96" r="1.5" fill="#e4eba4"/><circle cx="27.40" cy="23.29" r="1.5" fill="#e4eba4"/><circle cx="22.77" cy="26.98" r="1.5" fill="#e4eba4"/><circle cx="17.00" cy="28.30" r="1.5" fill="#e4eba4"/><circle cx="11.23" cy="26.98" r="1.5" fill="#e4eba4"/><circle cx="6.60" cy="23.29" r="1.5" fill="#e4eba4"/><circle cx="4.03" cy="17.96" r="1.5" fill="#e4eba4"/><circle cx="4.03" cy="12.04" r="1.5" fill="#e4eba4"/><circle cx="6.60" cy="6.71" r="1.5" fill="#e4eba4"/><circle cx="11.23" cy="3.02" r="1.5" fill="#e4eba4"/><circle cx="17" cy="15" r="12" fill="#e4eba4" stroke="#1b3142" stroke-width="1.0" stroke-linejoin="round" paint-order="stroke"/><path d="M15,3.5 A11.5,11.5 0 0 0 8,9 L13,13 Z" fill="#6fb996" opacity=".8"/><path d="M16.5,4 V15.5 L22,21" stroke="#1b3142" stroke-width="1.3" fill="none"/><path d="M14.5,4 V14" stroke="#6fb996" stroke-width="1.2" fill="none"/><circle cx="7.5" cy="23" r="6.6" fill="#1b3142" stroke="#8bd6b0" stroke-width="1.4"/><text x="7.5" y="27.3" font-family="Liberation Sans" font-weight="bold" font-size="11.5" text-anchor="middle" fill="#e4eba4">$</text></symbol><symbol id="i-redx" viewBox="0 0 15 15" overflow="visible"><path d="M2.2,0 L7.5,4.6 L12.8,0 L15,2.2 L10.4,7.5 L15,12.8 L12.8,15 L7.5,10.4 L2.2,15 L0,12.8 L4.6,7.5 L0,2.2 Z" fill="#b73a33"/></symbol><symbol id="i-info" viewBox="0 0 30 30" overflow="visible"><circle cx="15" cy="15" r="15" fill="#ec7650"/><path d="M4.4,4.4 A15,15 0 0 0 25.6,25.6 Z" fill="#b8634a"/><g transform="translate(15.5,15) skewX(-12)"><circle cx="1" cy="-7" r="1.9" fill="#efefef"/><path d="M-2.6,-3.4 H2 V6 H4 V8 H-3.4 V6 H-1.2 V-1.4 H-2.6 Z" fill="#efefef"/></g></symbol><symbol id="i-earthastro" viewBox="0 0 34 30" overflow="visible"><circle cx="18.1" cy="15.1" r="14.2" fill="#1b3142" stroke="#1b3142" stroke-width="3.6"/><circle cx="18.1" cy="15.1" r="13.6" fill="#1b3142" stroke="#e4eba4" stroke-width="2.3"/><path d="M6.5,10 C8,6.5 11,4.2 14.5,3.4 L13,6 L15.5,7 L14,9.5 L11,9 L9.5,11.5 Z" fill="#e4eba4"/><path d="M6,15 C8.5,14 11,15.5 11.5,18 L10.5,21 L12,25.5 L10.5,27 C7.5,24.5 5.8,20 6,15 Z" fill="#c9d08e"/><path d="M20,3.2 C24,3.8 27.5,6 29.5,9 L26,8 L24,5.5 Z" fill="#e4eba4"/><g transform="translate(13.7,7.4) scale(1.19)"><rect x="12.4" y="2.4" width="3.6" height="8" rx="1.2" fill="#8bd6b0" stroke="#1b3142" stroke-width="1.2" stroke-linejoin="round" paint-order="stroke"/><path d="M0.5,19.2 L0.5,12.6 C0.5,9.8 2.4,8.6 4.6,8.2 L12.4,8.2 C14.6,8.6 16.5,9.8 16.5,12.6 L16.5,19.2 Z" fill="#8bd6b0" stroke="#1b3142" stroke-width="1.4" stroke-linejoin="round" paint-order="stroke"/><ellipse cx="8.5" cy="5.3" rx="5.9" ry="4.9" fill="#8bd6b0" stroke="#1b3142" stroke-width="1.3" stroke-linejoin="round" paint-order="stroke"/><ellipse cx="8.5" cy="5.7" rx="3.5" ry="2.5" fill="#6fb996"/><ellipse cx="8.5" cy="5.8" rx="2.9" ry="1.9" fill="#1b3142"/><rect x="5.9" y="13.3" width="5.2" height="3" fill="#e4eba4" stroke="#1b3142" stroke-width=".5"/><rect x="7.7" y="14.3" width="1.6" height="1" fill="#1b3142"/><path d="M4.1,11.2 L4.1,19 M12.9,11.2 L12.9,19" stroke="#6fb996" stroke-width=".9" fill="none"/></g></symbol><symbol id="i-stL" viewBox="0 0 31 31" overflow="visible"><g transform="translate(0,0) scale(1.0)"><g transform="translate(10.75,11.65) rotate(-40.6)"><path d="M-11.8,-5.8 H-4.6 V-7.6 L0,-11.6 L4.6,-7.6 V-5.8 H11.8 V5.8 H4.6 V3.4 H-4.6 V5.8 H-11.8 Z" fill="#1b3142" stroke="#1b3142" stroke-width="1.6" stroke-linejoin="round"/><rect x="-10.85" y="-5" width="1.5" height="10" fill="#e4eba4"/><rect x="-8.95" y="-5" width="1.5" height="10" fill="#e4eba4"/><rect x="-7.05" y="-5" width="1.5" height="10" fill="#e4eba4"/><rect x="5.55" y="-5" width="1.5" height="10" fill="#e4eba4"/><rect x="7.45" y="-5" width="1.5" height="10" fill="#e4eba4"/><rect x="9.35" y="-5" width="1.5" height="10" fill="#e4eba4"/><path d="M-2.9,-6.6 L0,-9.6 L2.9,-6.6 Z" fill="#e4eba4"/><rect x="-2.9" y="-6" width="5.8" height="8" fill="#8bd6b0"/><rect x="-2.9" y="-3.6" width="5.8" height="1" fill="#6fb996"/><rect x="-2.9" y="-1.2" width="5.8" height="1" fill="#6fb996"/></g></g><g transform="translate(10.2,10.2) scale(1.07)"><rect x="12.4" y="2.4" width="3.6" height="8" rx="1.2" fill="#8bd6b0" stroke="#1b3142" stroke-width="1.2" stroke-linejoin="round" paint-order="stroke"/><path d="M0.5,19.2 L0.5,12.6 C0.5,9.8 2.4,8.6 4.6,8.2 L12.4,8.2 C14.6,8.6 16.5,9.8 16.5,12.6 L16.5,19.2 Z" fill="#8bd6b0" stroke="#1b3142" stroke-width="1.4" stroke-linejoin="round" paint-order="stroke"/><ellipse cx="8.5" cy="5.3" rx="5.9" ry="4.9" fill="#8bd6b0" stroke="#1b3142" stroke-width="1.3" stroke-linejoin="round" paint-order="stroke"/><ellipse cx="8.5" cy="5.7" rx="3.5" ry="2.5" fill="#6fb996"/><ellipse cx="8.5" cy="5.8" rx="2.9" ry="1.9" fill="#1b3142"/><rect x="5.9" y="13.3" width="5.2" height="3" fill="#e4eba4" stroke="#1b3142" stroke-width=".5"/><rect x="7.7" y="14.3" width="1.6" height="1" fill="#1b3142"/><path d="M4.1,11.2 L4.1,19 M12.9,11.2 L12.9,19" stroke="#6fb996" stroke-width=".9" fill="none"/></g><g fill="#1b3142" stroke="#1b3142" stroke-width="3.2" stroke-linejoin="round"><text x="21.4" y="30.6" textLength="8.7" lengthAdjust="spacingAndGlyphs" font-family="Liberation Serif" font-weight="bold" font-size="19">L</text></g><g fill="#e4eba4" stroke="#e4eba4" stroke-width="0.9"><text x="21.4" y="30.6" textLength="8.7" lengthAdjust="spacingAndGlyphs" font-family="Liberation Serif" font-weight="bold" font-size="19">L</text></g></symbol><symbol id="i-stG" viewBox="0 0 31 31" overflow="visible"><g transform="translate(0,0) scale(1.0)"><g transform="translate(10.75,11.65) rotate(-40.6)"><path d="M-11.8,-5.8 H-4.6 V-7.6 L0,-11.6 L4.6,-7.6 V-5.8 H11.8 V5.8 H4.6 V3.4 H-4.6 V5.8 H-11.8 Z" fill="#1b3142" stroke="#1b3142" stroke-width="1.6" stroke-linejoin="round"/><rect x="-10.85" y="-5" width="1.5" height="10" fill="#e4eba4"/><rect x="-8.95" y="-5" width="1.5" height="10" fill="#e4eba4"/><rect x="-7.05" y="-5" width="1.5" height="10" fill="#e4eba4"/><rect x="5.55" y="-5" width="1.5" height="10" fill="#e4eba4"/><rect x="7.45" y="-5" width="1.5" height="10" fill="#e4eba4"/><rect x="9.35" y="-5" width="1.5" height="10" fill="#e4eba4"/><path d="M-2.9,-6.6 L0,-9.6 L2.9,-6.6 Z" fill="#e4eba4"/><rect x="-2.9" y="-6" width="5.8" height="8" fill="#8bd6b0"/><rect x="-2.9" y="-3.6" width="5.8" height="1" fill="#6fb996"/><rect x="-2.9" y="-1.2" width="5.8" height="1" fill="#6fb996"/></g></g><g transform="translate(10.2,10.2) scale(1.07)"><rect x="12.4" y="2.4" width="3.6" height="8" rx="1.2" fill="#8bd6b0" stroke="#1b3142" stroke-width="1.2" stroke-linejoin="round" paint-order="stroke"/><path d="M0.5,19.2 L0.5,12.6 C0.5,9.8 2.4,8.6 4.6,8.2 L12.4,8.2 C14.6,8.6 16.5,9.8 16.5,12.6 L16.5,19.2 Z" fill="#8bd6b0" stroke="#1b3142" stroke-width="1.4" stroke-linejoin="round" paint-order="stroke"/><ellipse cx="8.5" cy="5.3" rx="5.9" ry="4.9" fill="#8bd6b0" stroke="#1b3142" stroke-width="1.3" stroke-linejoin="round" paint-order="stroke"/><ellipse cx="8.5" cy="5.7" rx="3.5" ry="2.5" fill="#6fb996"/><ellipse cx="8.5" cy="5.8" rx="2.9" ry="1.9" fill="#1b3142"/><rect x="5.9" y="13.3" width="5.2" height="3" fill="#e4eba4" stroke="#1b3142" stroke-width=".5"/><rect x="7.7" y="14.3" width="1.6" height="1" fill="#1b3142"/><path d="M4.1,11.2 L4.1,19 M12.9,11.2 L12.9,19" stroke="#6fb996" stroke-width=".9" fill="none"/></g><g fill="#1b3142" stroke="#1b3142" stroke-width="3.2" stroke-linejoin="round"><text x="20.0" y="30.6" textLength="11.2" lengthAdjust="spacingAndGlyphs" font-family="Liberation Serif" font-weight="bold" font-size="19">G</text></g><g fill="#e4eba4" stroke="#e4eba4" stroke-width="0.9"><text x="20.0" y="30.6" textLength="11.2" lengthAdjust="spacingAndGlyphs" font-family="Liberation Serif" font-weight="bold" font-size="19">G</text></g></symbol><symbol id="i-stL2" viewBox="0 0 31 31" overflow="visible"><g transform="translate(0,0) scale(1.0)"><g transform="translate(10.75,11.65) rotate(-40.6)"><path d="M-11.8,-5.8 H-4.6 V-7.6 L0,-11.6 L4.6,-7.6 V-5.8 H11.8 V5.8 H4.6 V3.4 H-4.6 V5.8 H-11.8 Z" fill="#1b3142" stroke="#1b3142" stroke-width="1.6" stroke-linejoin="round"/><rect x="-10.85" y="-5" width="1.5" height="10" fill="#e4eba4"/><rect x="-8.95" y="-5" width="1.5" height="10" fill="#e4eba4"/><rect x="-7.05" y="-5" width="1.5" height="10" fill="#e4eba4"/><rect x="5.55" y="-5" width="1.5" height="10" fill="#e4eba4"/><rect x="7.45" y="-5" width="1.5" height="10" fill="#e4eba4"/><rect x="9.35" y="-5" width="1.5" height="10" fill="#e4eba4"/><path d="M-2.9,-6.6 L0,-9.6 L2.9,-6.6 Z" fill="#e4eba4"/><rect x="-2.9" y="-6" width="5.8" height="8" fill="#8bd6b0"/><rect x="-2.9" y="-3.6" width="5.8" height="1" fill="#6fb996"/><rect x="-2.9" y="-1.2" width="5.8" height="1" fill="#6fb996"/></g></g><g transform="translate(10.2,10.2) scale(1.07)"><rect x="12.4" y="2.4" width="3.6" height="8" rx="1.2" fill="#8bd6b0" stroke="#1b3142" stroke-width="1.2" stroke-linejoin="round" paint-order="stroke"/><path d="M0.5,19.2 L0.5,12.6 C0.5,9.8 2.4,8.6 4.6,8.2 L12.4,8.2 C14.6,8.6 16.5,9.8 16.5,12.6 L16.5,19.2 Z" fill="#8bd6b0" stroke="#1b3142" stroke-width="1.4" stroke-linejoin="round" paint-order="stroke"/><ellipse cx="8.5" cy="5.3" rx="5.9" ry="4.9" fill="#8bd6b0" stroke="#1b3142" stroke-width="1.3" stroke-linejoin="round" paint-order="stroke"/><ellipse cx="8.5" cy="5.7" rx="3.5" ry="2.5" fill="#6fb996"/><ellipse cx="8.5" cy="5.8" rx="2.9" ry="1.9" fill="#1b3142"/><rect x="5.9" y="13.3" width="5.2" height="3" fill="#e4eba4" stroke="#1b3142" stroke-width=".5"/><rect x="7.7" y="14.3" width="1.6" height="1" fill="#1b3142"/><path d="M4.1,11.2 L4.1,19 M12.9,11.2 L12.9,19" stroke="#6fb996" stroke-width=".9" fill="none"/></g><g fill="#1b3142" stroke="#1b3142" stroke-width="3.2" stroke-linejoin="round"><text x="13.9" y="30.6" textLength="16.7" lengthAdjust="spacingAndGlyphs" font-family="Liberation Serif" font-weight="bold" font-size="19">L2</text></g><g fill="#e4eba4" stroke="#e4eba4" stroke-width="0.9"><text x="13.9" y="30.6" textLength="16.7" lengthAdjust="spacingAndGlyphs" font-family="Liberation Serif" font-weight="bold" font-size="19">L2</text></g></symbol><symbol id="i-stM" viewBox="0 0 31 31" overflow="visible"><g transform="translate(0,0) scale(1.0)"><g transform="translate(10.75,11.65) rotate(-40.6)"><path d="M-11.8,-5.8 H-4.6 V-7.6 L0,-11.6 L4.6,-7.6 V-5.8 H11.8 V5.8 H4.6 V3.4 H-4.6 V5.8 H-11.8 Z" fill="#1b3142" stroke="#1b3142" stroke-width="1.6" stroke-linejoin="round"/><rect x="-10.85" y="-5" width="1.5" height="10" fill="#e4eba4"/><rect x="-8.95" y="-5" width="1.5" height="10" fill="#e4eba4"/><rect x="-7.05" y="-5" width="1.5" height="10" fill="#e4eba4"/><rect x="5.55" y="-5" width="1.5" height="10" fill="#e4eba4"/><rect x="7.45" y="-5" width="1.5" height="10" fill="#e4eba4"/><rect x="9.35" y="-5" width="1.5" height="10" fill="#e4eba4"/><path d="M-2.9,-6.6 L0,-9.6 L2.9,-6.6 Z" fill="#e4eba4"/><rect x="-2.9" y="-6" width="5.8" height="8" fill="#8bd6b0"/><rect x="-2.9" y="-3.6" width="5.8" height="1" fill="#6fb996"/><rect x="-2.9" y="-1.2" width="5.8" height="1" fill="#6fb996"/></g></g><g transform="translate(10.2,10.2) scale(1.07)"><rect x="12.4" y="2.4" width="3.6" height="8" rx="1.2" fill="#8bd6b0" stroke="#1b3142" stroke-width="1.2" stroke-linejoin="round" paint-order="stroke"/><path d="M0.5,19.2 L0.5,12.6 C0.5,9.8 2.4,8.6 4.6,8.2 L12.4,8.2 C14.6,8.6 16.5,9.8 16.5,12.6 L16.5,19.2 Z" fill="#8bd6b0" stroke="#1b3142" stroke-width="1.4" stroke-linejoin="round" paint-order="stroke"/><ellipse cx="8.5" cy="5.3" rx="5.9" ry="4.9" fill="#8bd6b0" stroke="#1b3142" stroke-width="1.3" stroke-linejoin="round" paint-order="stroke"/><ellipse cx="8.5" cy="5.7" rx="3.5" ry="2.5" fill="#6fb996"/><ellipse cx="8.5" cy="5.8" rx="2.9" ry="1.9" fill="#1b3142"/><rect x="5.9" y="13.3" width="5.2" height="3" fill="#e4eba4" stroke="#1b3142" stroke-width=".5"/><rect x="7.7" y="14.3" width="1.6" height="1" fill="#1b3142"/><path d="M4.1,11.2 L4.1,19 M12.9,11.2 L12.9,19" stroke="#6fb996" stroke-width=".9" fill="none"/></g><circle cx="25" cy="25.5" r="5.6" fill="#e4eba4" stroke="#1b3142" stroke-width="1.3" stroke-linejoin="round" paint-order="stroke"/><circle cx="22.8" cy="23.5" r="0.8" fill="#c9d08e" stroke="#6fb996" stroke-width=".3"/><circle cx="26.8" cy="27.5" r="0.9" fill="#c9d08e" stroke="#6fb996" stroke-width=".3"/><circle cx="23.6" cy="27.8" r="0.6" fill="#c9d08e" stroke="#6fb996" stroke-width=".3"/><circle cx="27.2" cy="23.2" r="0.6" fill="#c9d08e" stroke="#6fb996" stroke-width=".3"/></symbol><symbol id="i-moon" viewBox="0 0 17 17" overflow="visible"><circle cx="8.5" cy="8.5" r="8.3" fill="#e4eba4"/><circle cx="5.2" cy="5.6" r="1.2" fill="#b7bd7e"/><circle cx="11.5" cy="11.8" r="1.5" fill="#b7bd7e"/><circle cx="6.5" cy="12" r="1" fill="#b7bd7e"/><circle cx="12" cy="5" r="1" fill="#b7bd7e"/><circle cx="8.8" cy="8.6" r="0.8" fill="#b7bd7e"/></symbol><symbol id="t-gear" viewBox="0 0 32 32" overflow="visible"><circle cx="16" cy="16" r="15" fill="#1b2e42" stroke="#86d0ab" stroke-width="1.7"/><g transform="translate(16,16) scale(.9) translate(-16,-16)"><rect x="-2.6" y="-11.4" width="5.2" height="5" rx=".8" transform="translate(16,16) rotate(0)" fill="#e9e9ee"/><rect x="-2.6" y="-11.4" width="5.2" height="5" rx=".8" transform="translate(16,16) rotate(45)" fill="#e9e9ee"/><rect x="-2.6" y="-11.4" width="5.2" height="5" rx=".8" transform="translate(16,16) rotate(90)" fill="#e9e9ee"/><rect x="-2.6" y="-11.4" width="5.2" height="5" rx=".8" transform="translate(16,16) rotate(135)" fill="#e9e9ee"/><rect x="-2.6" y="-11.4" width="5.2" height="5" rx=".8" transform="translate(16,16) rotate(180)" fill="#e9e9ee"/><rect x="-2.6" y="-11.4" width="5.2" height="5" rx=".8" transform="translate(16,16) rotate(225)" fill="#e9e9ee"/><rect x="-2.6" y="-11.4" width="5.2" height="5" rx=".8" transform="translate(16,16) rotate(270)" fill="#e9e9ee"/><rect x="-2.6" y="-11.4" width="5.2" height="5" rx=".8" transform="translate(16,16) rotate(315)" fill="#e9e9ee"/><circle cx="16" cy="16" r="8.6" fill="#e9e9ee"/><circle cx="16" cy="16" r="5.2" fill="#1b2e42"/><circle cx="16" cy="16" r="4" fill="none" stroke="#e9e9ee" stroke-width="1.2"/><circle cx="16" cy="16" r="1.4" fill="#e9e9ee"/></g></symbol><symbol id="t-sat" viewBox="0 0 32 32" overflow="visible"><circle cx="16" cy="16" r="15" fill="#1b2e42" stroke="#86d0ab" stroke-width="1.7"/><g transform="translate(16,16) rotate(-35)" fill="#e9e9ee"><rect x="-9.5" y="-9" width="3" height="7.2"/><rect x="-9.5" y="1.8" width="3" height="7.2"/><rect x="-5.5" y="-9" width="3" height="7.2"/><rect x="-5.5" y="1.8" width="3" height="7.2"/><rect x="2.5" y="-9" width="3" height="7.2"/><rect x="2.5" y="1.8" width="3" height="7.2"/><rect x="6.5" y="-9" width="3" height="7.2"/><rect x="6.5" y="1.8" width="3" height="7.2"/><rect x="-11" y="-1.2" width="22" height="2.4"/><rect x="-1.6" y="-6" width="3.2" height="12"/></g></symbol><symbol id="t-bolt" viewBox="0 0 32 32" overflow="visible"><circle cx="16" cy="16" r="15" fill="#1b2e42" stroke="#86d0ab" stroke-width="1.7"/><g transform="translate(14.5,14) rotate(-45)" fill="#e9e9ee"><rect x="-9" y="-2.6" width="13" height="5.2"/><rect x="4" y="-4.6" width="5" height="9.2" rx="1"/><rect x="-7.5" y="-2.6" width="1" height="5.2" fill="#1b2e42"/><rect x="-4.5" y="-2.6" width="1" height="5.2" fill="#1b2e42"/><rect x="-1.5" y="-2.6" width="1" height="5.2" fill="#1b2e42"/><rect x="1.5" y="-2.6" width="1" height="5.2" fill="#1b2e42"/></g><polygon points="25.10,21.00 22.80,24.98 18.20,24.98 15.90,21.00 18.20,17.02 22.80,17.02" fill="#e9e9ee" stroke="#1b2e42" stroke-width="1"/><circle cx="20.5" cy="21" r="1.9" fill="#1b2e42"/></symbol><symbol id="t-radar" viewBox="0 0 32 32" overflow="visible"><circle cx="16" cy="16" r="15" fill="#1b2e42" stroke="#86d0ab" stroke-width="1.7"/><g fill="none" stroke="#e9e9ee" stroke-width="1.1"><circle cx="16" cy="16" r="10.5"/><circle cx="16" cy="16" r="7.2"/><circle cx="16" cy="16" r="3.8"/><path d="M16,5.5 V26.5 M5.5,16 H26.5"/></g><path d="M16,16 L16,5.5 A10.5,10.5 0 0 1 26.5,16 Z" fill="#e9e9ee"/></symbol><symbol id="t-tube" viewBox="0 0 32 32" overflow="visible"><circle cx="16" cy="16" r="15" fill="#1b2e42" stroke="#86d0ab" stroke-width="1.7"/><path d="M12,6 H20 V8 H19 V22.5 A3,3 0 0 1 13,22.5 V8 H12 Z" fill="#e9e9ee"/><path d="M14.6,9 H17.4 V15 H14.6 Z" fill="#1b2e42"/><circle cx="16" cy="20" r=".9" fill="#1b2e42"/><circle cx="15.2" cy="17.5" r=".6" fill="#1b2e42"/></symbol><symbol id="t-bolt2" viewBox="0 0 32 32" overflow="visible"><circle cx="16" cy="16" r="15" fill="#1b2e42" stroke="#86d0ab" stroke-width="1.7"/><path d="M18.5,5.5 L10.5,17.5 H15.5 L13,26.5 L21.5,14 H16.5 Z" fill="#e9e9ee"/></symbol><symbol id="t-globe" viewBox="0 0 32 32" overflow="visible"><circle cx="16" cy="16" r="15" fill="#1b2e42" stroke="#86d0ab" stroke-width="1.7"/><circle cx="16" cy="16" r="10.2" fill="none" stroke="#e9e9ee" stroke-width="1.6" stroke-dasharray="2.6 1.6"/><circle cx="16" cy="16.4" r="6.2" fill="#e9e9ee"/><path d="M9.8,16.4 H22.2 M16,10.2 V22.6 M11,13.2 H21 M11,19.6 H21 M13.4,10.8 C12,14 12,19 13.4,22 M18.6,10.8 C20,14 20,19 18.6,22" stroke="#1b2e42" stroke-width=".7" fill="none"/><circle cx="22.5" cy="9.5" r="2.2" fill="#e9e9ee"/></symbol><symbol id="t-wave" viewBox="0 0 32 32" overflow="visible"><circle cx="16" cy="16" r="15" fill="#1b2e42" stroke="#86d0ab" stroke-width="1.7"/><path d="M5.5,16 H9 L10.5,12.5 L12.5,20.5 L14.5,8.5 L16.5,24 L18.5,11 L20.5,19.5 L22,15 L23.5,17.5 L24.5,16 H26.5" fill="none" stroke="#e9e9ee" stroke-width="1.6" stroke-linejoin="round"/></symbol><symbol id="t-micro" viewBox="0 0 32 32" overflow="visible"><circle cx="16" cy="16" r="15" fill="#1b2e42" stroke="#86d0ab" stroke-width="1.7"/><circle cx="17" cy="15" r="8.6" fill="none" stroke="#e9e9ee" stroke-width="2.2" stroke-dasharray="3 1.8"/><path d="M10.5,9 L13.5,6.5 L20,14 L17,16.5 Z" fill="#e9e9ee" stroke="#1b2e42" stroke-width=".8"/><path d="M10,12 C6.5,15 7,21 11.5,23 C14.5,24.2 18,23.4 20,21.5 L21.8,22.2 C19,26 12.5,26.8 9,24.2 C5,21 5.4,14 9,11 Z" fill="#e9e9ee"/><rect x="16" y="19" width="8" height="1.8" fill="#e9e9ee"/><rect x="9" y="25.3" width="11" height="1.8" fill="#e9e9ee"/></symbol><symbol id="t-wings" viewBox="0 0 32 32" overflow="visible"><circle cx="16" cy="16" r="15" fill="#1b2e42" stroke="#86d0ab" stroke-width="1.7"/><circle cx="16" cy="16.5" r="3.4" fill="none" stroke="#e9e9ee" stroke-width="1.8"/><path d="M12.4,14 C9,12.5 6.5,12.8 4.5,12.2 C5,15.5 7.5,18.2 12.6,18.8 Z M19.6,14 C23,12.5 25.5,12.8 27.5,12.2 C27,15.5 24.5,18.2 19.4,18.8 Z" fill="#e9e9ee"/><path d="M14.5,20 L16,23 L17.5,20 Z" fill="#e9e9ee"/></symbol><symbol id="t-tower" viewBox="0 0 32 32" overflow="visible"><circle cx="16" cy="16" r="15" fill="#1b2e42" stroke="#86d0ab" stroke-width="1.7"/><path d="M12.5,6.5 H19.5 V8 L17.5,12.5 V15 L20,19 L21,25.5 H11 L12,19 L14.5,15 V12.5 L12.5,8 Z" fill="#e9e9ee"/><path d="M12.4,20.3 H19.6 M11.8,22.8 H20.2 M13.6,17.5 H18.4" stroke="#1b2e42" stroke-width=".8"/></symbol><symbol id="t-sliders" viewBox="0 0 32 32" overflow="visible"><circle cx="16" cy="16" r="15" fill="#1b2e42" stroke="#86d0ab" stroke-width="1.7"/><g stroke="#e9e9ee" stroke-width="1.6" stroke-linecap="round" fill="#e9e9ee"><path d="M10,7.5 V24.5 M16,6.5 V25.5 M22,7.5 V24.5"/><path d="M10,12 C7.5,14 7.5,18 10,20 M22,12 C24.5,14 24.5,18 22,20" fill="none"/><circle cx="10" cy="18.5" r="1.8"/><circle cx="16" cy="11.5" r="1.8"/><circle cx="22" cy="18.5" r="1.8"/></g></symbol><symbol id="t-compass" viewBox="0 0 32 32" overflow="visible"><circle cx="16" cy="16" r="15" fill="#1b2e42" stroke="#86d0ab" stroke-width="1.7"/><path d="M16,7 L9.5,24 M16,7 L22.5,24 M11.5,19.5 H20.5 M16,4.5 V8" fill="none" stroke="#e9e9ee" stroke-width="1.6" stroke-linecap="round"/><circle cx="16" cy="8.6" r="2" fill="#e9e9ee"/><path d="M14,14 L16,9.5 L18,14 Z" fill="#e9e9ee"/><path d="M9,25 C13,26.5 19,26.5 23,25" stroke="#e9e9ee" stroke-width="1" fill="none"/></symbol><symbol id="t-none" viewBox="0 0 32 32" overflow="visible"><circle cx="16" cy="16" r="14.5" fill="#53546c"/><circle cx="16" cy="16" r="6.6" fill="none" stroke="#8a8ba2" stroke-width="2.2"/><path d="M9,23 L23,9" stroke="#8a8ba2" stroke-width="2.4" stroke-linecap="round"/></symbol></defs></svg><svg class="abs" style="left:0;top:0" width="2640" height="1484"><rect width="2640" height="1484" fill="url(#bgp)"/></svg><div class="abs" style="left:0;top:0;width:2640px;height:3px;background:#2c2c2e"></div><div class="abs" style="left:0;top:1479px;width:2640px;height:5px;background:#0b0b0d"></div><div class="abs" style="left:409px;top:65px;width:627px;height:109px;border-radius:54.5px;background:linear-gradient(to bottom,rgba(39,61,80,.9),rgba(49,74,94,.9) 30%,rgba(88,109,125,.9) 72%,rgba(117,133,147,.9))"></div><div class="abs" style="left:438px;top:92.5px;width:663px;height:54px;border-radius:27px;background:rgba(28,64,88,.5)"></div><div class="abs" style="left:1036px;top:92.5px;width:65px;height:54px;border-radius:0 27px 27px 0;background:#1a3345"></div><div class="cb b" style="left:453.05px;top:82.55px"></div><div class="cb o" style="left:536.15px;top:82.55px"></div><div class="cb o" style="left:619.25px;top:82.55px"></div><div class="cb o" style="left:702.35px;top:82.55px"></div><div class="cb o" style="left:785.45px;top:82.55px"></div><div class="cb o" style="left:868.55px;top:82.55px"></div><div class="cb o" style="left:951.65px;top:82.55px"></div><div class="abs" style="left:1152.5px;top:65px;width:597px;height:109px;border-radius:54.5px;background:linear-gradient(to bottom,rgba(39,61,80,.9),rgba(49,74,94,.9) 30%,rgba(88,109,125,.9) 72%,rgba(117,133,147,.9))"></div><div class="abs" style="left:1182px;top:92.5px;width:560px;height:54px;border-radius:27px;background:rgba(28,64,88,.5)"></div><div class="abs" style="left:1700px;top:92.5px;width:115px;height:54px;border-radius:0 27px 27px 0;background:#1a3345"></div><div class="cb o" style="left:1165.75px;top:82.15px;width:74.5px;height:74.5px"></div><div class="cb o" style="left:1249.82px;top:82.15px;width:74.5px;height:74.5px"></div><div class="cb b2" style="left:1333.89px;top:82.15px;width:74.5px;height:74.5px"></div><div class="cb b2" style="left:1417.96px;top:82.15px;width:74.5px;height:74.5px"></div><div class="cb b2" style="left:1502.03px;top:82.15px;width:74.5px;height:74.5px"></div><div class="cb b2" style="left:1586.10px;top:82.15px;width:74.5px;height:74.5px"></div><div class="cb o" style="left:1670.17px;top:82.15px;width:74.5px;height:74.5px"></div><svg class="abs" style="left:453.80px;top:83.20px;overflow:visible" width="72" height="72" viewBox="0 0 72 72"><g font-family="Liberation Serif" font-weight="bold" font-size="35.5" stroke-linejoin="miter"><g fill="#163246" stroke="#163246" stroke-width="5.4"><text x="12.6" y="48.2" textLength="22.6" lengthAdjust="spacingAndGlyphs">A</text><text x="39" y="48.2" textLength="21.4" lengthAdjust="spacingAndGlyphs">Z</text></g><g fill="#a9e2fb" stroke="#a9e2fb" stroke-width="1.7"><text x="12.6" y="48.2" textLength="22.6" lengthAdjust="spacingAndGlyphs">A</text><text x="39" y="48.2" textLength="21.4" lengthAdjust="spacingAndGlyphs">Z</text></g></g></svg><svg class="abs" style="left:536.90px;top:83.20px;overflow:visible" width="72" height="72" viewBox="0 0 72 72"><path d="M36.3,15.5 L57,40.5 L57,50 L36.3,29.8 L15.8,50 L15.8,40.5 Z" fill="none" stroke="#163246" stroke-width="2.2" stroke-linejoin="miter"/><path d="M36.3,30 L47.5,41.5 L42,45 L30.6,45 L25.1,41.5 Z" fill="#163246"/><polygon points="36.30,37.00 38.89,43.94 46.29,44.26 40.48,48.86 42.47,55.99 36.30,51.90 30.13,55.99 32.12,48.86 26.31,44.26 33.71,43.94" fill="#e9c3ab" stroke="#163246" stroke-width="2.4" stroke-linejoin="miter"/></svg><svg class="abs" style="left:620.00px;top:83.20px;overflow:visible" width="72" height="72" viewBox="0 0 72 72"><path d="M27,13.5 C32,19 31.5,25 27,25 C22.5,25 22,19 27,13.5 Z" fill="#e9c3ab" stroke="#163246" stroke-width="2"/><rect x="23.4" y="26" width="7.2" height="12" fill="none" stroke="#163246" stroke-width="2"/><path d="M36.2,13.5 C41.2,19 40.7,25 36.2,25 C31.700000000000003,25 31.200000000000003,19 36.2,13.5 Z" fill="#e9c3ab" stroke="#163246" stroke-width="2"/><rect x="32.6" y="26" width="7.2" height="12" fill="none" stroke="#163246" stroke-width="2"/><path d="M45.6,13.5 C50.6,19 50.1,25 45.6,25 C41.1,25 40.6,19 45.6,13.5 Z" fill="#e9c3ab" stroke="#163246" stroke-width="2"/><rect x="42.0" y="26" width="7.2" height="12" fill="none" stroke="#163246" stroke-width="2"/><rect x="16.3" y="38.5" width="40.4" height="20.5" rx="4.5" fill="none" stroke="#163246" stroke-width="2.4"/><path d="M17.5,43 a4,4 0 0 1 4,-3.3 h30 a4,4 0 0 1 4,3.3 v5.5 l-4.5,3.5 l-5,-4.2 l-5,4.2 l-5,-4.2 l-5,4.2 l-5,-4.2 l-5,4.2 l-3.5,-3 Z" fill="#e9c3ab" stroke="#163246" stroke-width="1.8" stroke-linejoin="round"/></svg><svg class="abs" style="left:703.10px;top:83.20px;overflow:visible" width="72" height="72" viewBox="0 0 72 72"><rect x="12.2" y="25.3" width="50.6" height="23.6" rx="11.8" fill="#e9c3ab" stroke="#163246" stroke-width="1.6"/><rect x="15.2" y="28.3" width="44.6" height="17.6" rx="8.8" fill="#d56e4c" stroke="#163246" stroke-width="1.4"/><path d="M26.5,28.5 V45.7" stroke="#163246" stroke-width="1.4"/><path d="M38,28.5 V45.7" stroke="#163246" stroke-width="1.4"/><path d="M49.5,28.5 V45.7" stroke="#163246" stroke-width="1.4"/></svg><svg class="abs" style="left:786.20px;top:83.20px;overflow:visible" width="72" height="72" viewBox="0 0 72 72"><g transform="translate(36,34) rotate(45)"><path d="M-7.5,-22 a7.5,7.5 0 0 1 15,0 v3 h-15 Z" fill="none" stroke="#163246" stroke-width="2"/><rect x="-11" y="-19" width="22" height="5" rx="2.5" fill="#e9c3ab" stroke="#163246" stroke-width="1.8"/><path d="M-6.5,-14 H6.5 V6 C6.5,10 3,12 2.2,15 V22 H-2.2 V15 C-3,12 -6.5,10 -6.5,6 Z" fill="none" stroke="#163246" stroke-width="2" stroke-linejoin="round"/></g><path d="M22.5,46 C28.5,52 29.0,60 22.5,60 C16.0,60 16.5,52 22.5,46 Z" fill="#e9c3ab" stroke="#163246" stroke-width="1.8"/><text x="22.5" y="58" font-family="Liberation Sans" font-weight="bold" font-size="8.5" text-anchor="middle" fill="#163246">1</text><path d="M35.5,46 C41.5,52 42.0,60 35.5,60 C29.0,60 29.5,52 35.5,46 Z" fill="#e9c3ab" stroke="#163246" stroke-width="1.8"/><text x="35.5" y="58" font-family="Liberation Sans" font-weight="bold" font-size="8.5" text-anchor="middle" fill="#163246">2</text><path d="M48.5,46 C54.5,52 55.0,60 48.5,60 C42.0,60 42.5,52 48.5,46 Z" fill="#e9c3ab" stroke="#163246" stroke-width="1.8"/><text x="48.5" y="58" font-family="Liberation Sans" font-weight="bold" font-size="8.5" text-anchor="middle" fill="#163246">3</text></svg><svg class="abs" style="left:869.30px;top:83.20px;overflow:visible" width="72" height="72" viewBox="0 0 72 72"><circle cx="37.20" cy="19.70" r="2.6" fill="#e9c3ab" stroke="#163246" stroke-width="1.2"/><circle cx="45.70" cy="21.98" r="2.6" fill="#e9c3ab" stroke="#163246" stroke-width="1.2"/><circle cx="51.92" cy="28.20" r="2.6" fill="#e9c3ab" stroke="#163246" stroke-width="1.2"/><circle cx="54.20" cy="36.70" r="2.6" fill="#e9c3ab" stroke="#163246" stroke-width="1.2"/><circle cx="51.92" cy="45.20" r="2.6" fill="#e9c3ab" stroke="#163246" stroke-width="1.2"/><circle cx="45.70" cy="51.42" r="2.6" fill="#e9c3ab" stroke="#163246" stroke-width="1.2"/><circle cx="37.20" cy="53.70" r="2.6" fill="#e9c3ab" stroke="#163246" stroke-width="1.2"/><circle cx="28.70" cy="51.42" r="2.6" fill="#e9c3ab" stroke="#163246" stroke-width="1.2"/><circle cx="22.48" cy="28.20" r="2.6" fill="#e9c3ab" stroke="#163246" stroke-width="1.2"/><circle cx="28.70" cy="21.98" r="2.6" fill="#e9c3ab" stroke="#163246" stroke-width="1.2"/><path d="M37.2,21 V37 L43.5,44.5" fill="none" stroke="#163246" stroke-width="4.2" stroke-linecap="round" stroke-linejoin="round"/><path d="M37.2,21 V37 L43.5,44.5" fill="none" stroke="#e9c3ab" stroke-width="1.8" stroke-linecap="round" stroke-linejoin="round"/><path d="M27.5,56.5 C19,50 17.5,46 17.5,43 C17.5,39.5 20,37.5 22.7,37.5 C24.7,37.5 26.5,38.6 27.5,40.5 C28.5,38.6 30.3,37.5 32.3,37.5 C35,37.5 37.5,39.5 37.5,43 C37.5,46 36,50 27.5,56.5 Z" fill="none" stroke="#163246" stroke-width="1.8"/></svg><svg class="abs" style="left:952.40px;top:83.20px;overflow:visible" width="72" height="72" viewBox="0 0 72 72"><path d="M20.7,16.3 H52.5 V22.4 L43.4,36.6 L52.5,50.8 V57 H20.7 V50.8 L29.8,36.6 L20.7,22.4 Z" fill="none" stroke="#163246" stroke-width="2.4" stroke-linejoin="miter"/><path d="M25.6,21 H47.6 V23.4 L39.8,35.4 H33.4 L25.6,23.4 Z" fill="#163246"/><path d="M33.4,37.8 H39.8 L47.6,49.8 V52.3 H25.6 V49.8 Z" fill="none" stroke="#163246" stroke-width="1.8" stroke-linejoin="miter"/><path d="M36.6,42 L46,51.4 H27.2 Z" fill="#e9c3ab"/></svg><svg class="abs" style="left:1048.40px;top:104.60px;overflow:visible" width="27" height="28" viewBox="0 0 27 28"><path d="M13.5,1 L26,13.5 L21,18.5 L17,14.5 V27 H10 V14.5 L6,18.5 L1,13.5 Z" fill="#5abcf6" stroke="#2a6f9c" stroke-width="1.6" stroke-linejoin="miter"/></svg><svg class="abs" style="left:1166.00px;top:82.40px;overflow:visible" width="74" height="74" viewBox="0 0 72 72"><circle cx="30" cy="38" r="17.5" fill="#163246" stroke="#163246" stroke-width="4.5"/><circle cx="30" cy="38" r="17" fill="none" stroke="#e9c3ab" stroke-width="3"/><path d="M17,30 C21,24 28,22.5 33,24 L30,27 L24,28 L25,31 L20,33 L23,37 L21,41 L24,46 L22,52 C16,47 14,38 17,30 Z" fill="#e9c3ab"/><path d="M36,24.5 C41,26 45,30 46,34 L42,32 L40,28 Z" fill="#e9c3ab"/><g transform="translate(29,27) scale(1.0)"><path d="M1,30 L1,19 C1,15.5 3.5,14 6,13.5 L6,10 C6,3.5 9.5,1 13.5,1 C17.5,1 21,3.5 21,10 L21,13.5 C23.5,14 26,15.5 26,19 L26,30 Z" fill="#de6f4c" stroke="#163246" stroke-width="1.8" stroke-linejoin="round"/><rect x="19.5" y="5" width="4.6" height="11" rx="1.6" fill="#de6f4c" stroke="#163246" stroke-width="1.2"/><ellipse cx="13.5" cy="9.5" rx="6.6" ry="6.4" fill="#de6f4c" stroke="#163246" stroke-width="1.2"/><path d="M8.8,10.5 C8.8,7 10.8,5.6 13.5,5.6 C16.2,5.6 18.2,7 18.2,10.5 C18.2,12.8 16.2,13.8 13.5,13.8 C10.8,13.8 8.8,12.8 8.8,10.5 Z" fill="#163246"/><rect x="9.5" y="20.5" width="8" height="4.6" fill="#e9c3ab" stroke="#163246" stroke-width=".8"/><rect x="12.4" y="22" width="2.4" height="1.5" fill="#163246"/><path d="M6.5,17 V30 M20.5,17 V30" stroke="#163246" stroke-width=".9" opacity=".55" fill="none"/></g></svg><svg class="abs" style="left:1250.07px;top:82.40px;overflow:visible" width="74" height="74" viewBox="0 0 72 72"><rect x="23" y="16" width="15" height="40" fill="#de6f4c" stroke="#163246" stroke-width="1.8"/><path d="M26,13 H35 V16 H26 Z" fill="#de6f4c" stroke="#163246" stroke-width="1.4"/><path d="M28.5,19 V40 M30.5,17 V40 M32.5,19 V40" stroke="#163246" stroke-width="1.1"/><rect x="15.5" y="34" width="13" height="22" fill="#de6f4c" stroke="#163246" stroke-width="1.8"/><rect x="17.6" y="37.0" width="2.3" height="3" fill="#e9c3ab"/><rect x="20.900000000000002" y="37.0" width="2.3" height="3" fill="#e9c3ab"/><rect x="24.200000000000003" y="37.0" width="2.3" height="3" fill="#e9c3ab"/><rect x="17.6" y="41.3" width="2.3" height="3" fill="#e9c3ab"/><rect x="20.900000000000002" y="41.3" width="2.3" height="3" fill="#e9c3ab"/><rect x="24.200000000000003" y="41.3" width="2.3" height="3" fill="#e9c3ab"/><rect x="17.6" y="45.6" width="2.3" height="3" fill="#e9c3ab"/><rect x="20.900000000000002" y="45.6" width="2.3" height="3" fill="#e9c3ab"/><rect x="24.200000000000003" y="45.6" width="2.3" height="3" fill="#e9c3ab"/><rect x="17.6" y="49.9" width="2.3" height="3" fill="#e9c3ab"/><rect x="20.900000000000002" y="49.9" width="2.3" height="3" fill="#e9c3ab"/><rect x="24.200000000000003" y="49.9" width="2.3" height="3" fill="#e9c3ab"/><rect x="31" y="36" width="6" height="19" fill="#8e8a9a" stroke="#163246" stroke-width="1.2"/><g transform="translate(33.5,27.5) scale(1.0)"><path d="M1,30 L1,19 C1,15.5 3.5,14 6,13.5 L6,10 C6,3.5 9.5,1 13.5,1 C17.5,1 21,3.5 21,10 L21,13.5 C23.5,14 26,15.5 26,19 L26,30 Z" fill="#de6f4c" stroke="#163246" stroke-width="1.8" stroke-linejoin="round"/><rect x="19.5" y="5" width="4.6" height="11" rx="1.6" fill="#de6f4c" stroke="#163246" stroke-width="1.2"/><ellipse cx="13.5" cy="9.5" rx="6.6" ry="6.4" fill="#de6f4c" stroke="#163246" stroke-width="1.2"/><path d="M8.8,10.5 C8.8,7 10.8,5.6 13.5,5.6 C16.2,5.6 18.2,7 18.2,10.5 C18.2,12.8 16.2,13.8 13.5,13.8 C10.8,13.8 8.8,12.8 8.8,10.5 Z" fill="#163246"/><rect x="9.5" y="20.5" width="8" height="4.6" fill="#e9c3ab" stroke="#163246" stroke-width=".8"/><rect x="12.4" y="22" width="2.4" height="1.5" fill="#163246"/><path d="M6.5,17 V30 M20.5,17 V30" stroke="#163246" stroke-width=".9" opacity=".55" fill="none"/></g><ellipse cx="47" cy="37" rx="6.8" ry="6.6" fill="#e9c3ab" stroke="#163246" stroke-width="1.2"/><path d="M42.3,38 C42.3,34.5 44.3,33.1 47,33.1 C49.7,33.1 51.7,34.5 51.7,38 C51.7,40.3 49.7,41.3 47,41.3 C44.3,41.3 42.3,40.3 42.3,38 Z" fill="#163246"/></svg><svg class="abs" style="left:1334.14px;top:82.40px;overflow:visible" width="74" height="74" viewBox="0 0 72 72"><g transform="translate(28.25,29.35) rotate(-48)"><path d="M-13.6,-6 H-4 V-7.4 L0,-11.4 L4,-7.4 V-6 H13.6 V6 H4 V3.4 H-4 V6 H-13.6 Z" fill="#163246" stroke="#163246" stroke-width="2.2" stroke-linejoin="round"/><rect x="-13.00" y="-5.3" width="1.6" height="10.6" fill="#a9e2fb"/><rect x="-10.90" y="-5.3" width="1.6" height="10.6" fill="#a9e2fb"/><rect x="-8.80" y="-5.3" width="1.6" height="10.6" fill="#a9e2fb"/><rect x="7.20" y="-5.3" width="1.6" height="10.6" fill="#a9e2fb"/><rect x="9.30" y="-5.3" width="1.6" height="10.6" fill="#a9e2fb"/><rect x="11.40" y="-5.3" width="1.6" height="10.6" fill="#a9e2fb"/><path d="M-2.9,-7 L0,-10 L2.9,-7 Z" fill="#a9e2fb"/><rect x="-2.9" y="-6.4" width="5.8" height="8.6" fill="#62b7e6"/><rect x="-2.9" y="-4" width="5.8" height="1" fill="#a9e2fb"/><rect x="-2.9" y="-1.4" width="5.8" height="1" fill="#a9e2fb"/></g><g transform="translate(27,27.2) scale(0.88)"><path d="M1,30 L1,19 C1,15.5 3.5,14 6,13.5 L6,10 C6,3.5 9.5,1 13.5,1 C17.5,1 21,3.5 21,10 L21,13.5 C23.5,14 26,15.5 26,19 L26,30 Z" fill="#4f9fd0" stroke="#163246" stroke-width="1.8" stroke-linejoin="round"/><rect x="19.5" y="5" width="4.6" height="11" rx="1.6" fill="#4f9fd0" stroke="#163246" stroke-width="1.2"/><ellipse cx="13.5" cy="9.5" rx="6.6" ry="6.4" fill="#4f9fd0" stroke="#163246" stroke-width="1.2"/><path d="M8.8,10.5 C8.8,7 10.8,5.6 13.5,5.6 C16.2,5.6 18.2,7 18.2,10.5 C18.2,12.8 16.2,13.8 13.5,13.8 C10.8,13.8 8.8,12.8 8.8,10.5 Z" fill="#163246"/><rect x="9.5" y="20.5" width="8" height="4.6" fill="#a9e2fb" stroke="#163246" stroke-width=".8"/><rect x="12.4" y="22" width="2.4" height="1.5" fill="#163246"/><path d="M6.5,17 V30 M20.5,17 V30" stroke="#163246" stroke-width=".9" opacity=".55" fill="none"/></g><g fill="#163246" stroke="#163246" stroke-width="5.2" stroke-linejoin="miter"><text x="42.9" y="53" textLength="12.100000000000001" lengthAdjust="spacingAndGlyphs" font-family="Liberation Serif" font-weight="bold" font-size="28.5">L</text></g><g fill="#b9e8fc" stroke="#b9e8fc" stroke-width="1.5" stroke-linejoin="miter"><text x="42.9" y="53" textLength="12.100000000000001" lengthAdjust="spacingAndGlyphs" font-family="Liberation Serif" font-weight="bold" font-size="28.5">L</text></g></svg><svg class="abs" style="left:1418.21px;top:82.40px;overflow:visible" width="74" height="74" viewBox="0 0 72 72"><g transform="translate(28.25,29.35) rotate(-48)"><path d="M-13.6,-6 H-4 V-7.4 L0,-11.4 L4,-7.4 V-6 H13.6 V6 H4 V3.4 H-4 V6 H-13.6 Z" fill="#163246" stroke="#163246" stroke-width="2.2" stroke-linejoin="round"/><rect x="-13.00" y="-5.3" width="1.6" height="10.6" fill="#a9e2fb"/><rect x="-10.90" y="-5.3" width="1.6" height="10.6" fill="#a9e2fb"/><rect x="-8.80" y="-5.3" width="1.6" height="10.6" fill="#a9e2fb"/><rect x="7.20" y="-5.3" width="1.6" height="10.6" fill="#a9e2fb"/><rect x="9.30" y="-5.3" width="1.6" height="10.6" fill="#a9e2fb"/><rect x="11.40" y="-5.3" width="1.6" height="10.6" fill="#a9e2fb"/><path d="M-2.9,-7 L0,-10 L2.9,-7 Z" fill="#a9e2fb"/><rect x="-2.9" y="-6.4" width="5.8" height="8.6" fill="#62b7e6"/><rect x="-2.9" y="-4" width="5.8" height="1" fill="#a9e2fb"/><rect x="-2.9" y="-1.4" width="5.8" height="1" fill="#a9e2fb"/></g><g transform="translate(27,27.2) scale(0.88)"><path d="M1,30 L1,19 C1,15.5 3.5,14 6,13.5 L6,10 C6,3.5 9.5,1 13.5,1 C17.5,1 21,3.5 21,10 L21,13.5 C23.5,14 26,15.5 26,19 L26,30 Z" fill="#4f9fd0" stroke="#163246" stroke-width="1.8" stroke-linejoin="round"/><rect x="19.5" y="5" width="4.6" height="11" rx="1.6" fill="#4f9fd0" stroke="#163246" stroke-width="1.2"/><ellipse cx="13.5" cy="9.5" rx="6.6" ry="6.4" fill="#4f9fd0" stroke="#163246" stroke-width="1.2"/><path d="M8.8,10.5 C8.8,7 10.8,5.6 13.5,5.6 C16.2,5.6 18.2,7 18.2,10.5 C18.2,12.8 16.2,13.8 13.5,13.8 C10.8,13.8 8.8,12.8 8.8,10.5 Z" fill="#163246"/><rect x="9.5" y="20.5" width="8" height="4.6" fill="#a9e2fb" stroke="#163246" stroke-width=".8"/><rect x="12.4" y="22" width="2.4" height="1.5" fill="#163246"/><path d="M6.5,17 V30 M20.5,17 V30" stroke="#163246" stroke-width=".9" opacity=".55" fill="none"/></g><g fill="#163246" stroke="#163246" stroke-width="5.2" stroke-linejoin="miter"><text x="37.1" y="53" textLength="18.8" lengthAdjust="spacingAndGlyphs" font-family="Liberation Serif" font-weight="bold" font-size="28.5">G</text></g><g fill="#b9e8fc" stroke="#b9e8fc" stroke-width="1.5" stroke-linejoin="miter"><text x="37.1" y="53" textLength="18.8" lengthAdjust="spacingAndGlyphs" font-family="Liberation Serif" font-weight="bold" font-size="28.5">G</text></g></svg><svg class="abs" style="left:1502.28px;top:82.40px;overflow:visible" width="74" height="74" viewBox="0 0 72 72"><g transform="translate(28.25,29.35) rotate(-48)"><path d="M-13.6,-6 H-4 V-7.4 L0,-11.4 L4,-7.4 V-6 H13.6 V6 H4 V3.4 H-4 V6 H-13.6 Z" fill="#163246" stroke="#163246" stroke-width="2.2" stroke-linejoin="round"/><rect x="-13.00" y="-5.3" width="1.6" height="10.6" fill="#a9e2fb"/><rect x="-10.90" y="-5.3" width="1.6" height="10.6" fill="#a9e2fb"/><rect x="-8.80" y="-5.3" width="1.6" height="10.6" fill="#a9e2fb"/><rect x="7.20" y="-5.3" width="1.6" height="10.6" fill="#a9e2fb"/><rect x="9.30" y="-5.3" width="1.6" height="10.6" fill="#a9e2fb"/><rect x="11.40" y="-5.3" width="1.6" height="10.6" fill="#a9e2fb"/><path d="M-2.9,-7 L0,-10 L2.9,-7 Z" fill="#a9e2fb"/><rect x="-2.9" y="-6.4" width="5.8" height="8.6" fill="#62b7e6"/><rect x="-2.9" y="-4" width="5.8" height="1" fill="#a9e2fb"/><rect x="-2.9" y="-1.4" width="5.8" height="1" fill="#a9e2fb"/></g><g transform="translate(27,27.2) scale(0.88)"><path d="M1,30 L1,19 C1,15.5 3.5,14 6,13.5 L6,10 C6,3.5 9.5,1 13.5,1 C17.5,1 21,3.5 21,10 L21,13.5 C23.5,14 26,15.5 26,19 L26,30 Z" fill="#4f9fd0" stroke="#163246" stroke-width="1.8" stroke-linejoin="round"/><rect x="19.5" y="5" width="4.6" height="11" rx="1.6" fill="#4f9fd0" stroke="#163246" stroke-width="1.2"/><ellipse cx="13.5" cy="9.5" rx="6.6" ry="6.4" fill="#4f9fd0" stroke="#163246" stroke-width="1.2"/><path d="M8.8,10.5 C8.8,7 10.8,5.6 13.5,5.6 C16.2,5.6 18.2,7 18.2,10.5 C18.2,12.8 16.2,13.8 13.5,13.8 C10.8,13.8 8.8,12.8 8.8,10.5 Z" fill="#163246"/><rect x="9.5" y="20.5" width="8" height="4.6" fill="#a9e2fb" stroke="#163246" stroke-width=".8"/><rect x="12.4" y="22" width="2.4" height="1.5" fill="#163246"/><path d="M6.5,17 V30 M20.5,17 V30" stroke="#163246" stroke-width=".9" opacity=".55" fill="none"/></g><g fill="#163246" stroke="#163246" stroke-width="5.2" stroke-linejoin="miter"><text x="28.6" y="53" textLength="28.2" lengthAdjust="spacingAndGlyphs" font-family="Liberation Serif" font-weight="bold" font-size="28.5">L2</text></g><g fill="#b9e8fc" stroke="#b9e8fc" stroke-width="1.5" stroke-linejoin="miter"><text x="28.6" y="53" textLength="28.2" lengthAdjust="spacingAndGlyphs" font-family="Liberation Serif" font-weight="bold" font-size="28.5">L2</text></g></svg><svg class="abs" style="left:1586.35px;top:82.40px;overflow:visible" width="74" height="74" viewBox="0 0 72 72"><g transform="translate(28.25,29.35) rotate(-48)"><path d="M-13.6,-6 H-4 V-7.4 L0,-11.4 L4,-7.4 V-6 H13.6 V6 H4 V3.4 H-4 V6 H-13.6 Z" fill="#163246" stroke="#163246" stroke-width="2.2" stroke-linejoin="round"/><rect x="-13.00" y="-5.3" width="1.6" height="10.6" fill="#a9e2fb"/><rect x="-10.90" y="-5.3" width="1.6" height="10.6" fill="#a9e2fb"/><rect x="-8.80" y="-5.3" width="1.6" height="10.6" fill="#a9e2fb"/><rect x="7.20" y="-5.3" width="1.6" height="10.6" fill="#a9e2fb"/><rect x="9.30" y="-5.3" width="1.6" height="10.6" fill="#a9e2fb"/><rect x="11.40" y="-5.3" width="1.6" height="10.6" fill="#a9e2fb"/><path d="M-2.9,-7 L0,-10 L2.9,-7 Z" fill="#a9e2fb"/><rect x="-2.9" y="-6.4" width="5.8" height="8.6" fill="#62b7e6"/><rect x="-2.9" y="-4" width="5.8" height="1" fill="#a9e2fb"/><rect x="-2.9" y="-1.4" width="5.8" height="1" fill="#a9e2fb"/></g><g transform="translate(27,27.2) scale(0.88)"><path d="M1,30 L1,19 C1,15.5 3.5,14 6,13.5 L6,10 C6,3.5 9.5,1 13.5,1 C17.5,1 21,3.5 21,10 L21,13.5 C23.5,14 26,15.5 26,19 L26,30 Z" fill="#4f9fd0" stroke="#163246" stroke-width="1.8" stroke-linejoin="round"/><rect x="19.5" y="5" width="4.6" height="11" rx="1.6" fill="#4f9fd0" stroke="#163246" stroke-width="1.2"/><ellipse cx="13.5" cy="9.5" rx="6.6" ry="6.4" fill="#4f9fd0" stroke="#163246" stroke-width="1.2"/><path d="M8.8,10.5 C8.8,7 10.8,5.6 13.5,5.6 C16.2,5.6 18.2,7 18.2,10.5 C18.2,12.8 16.2,13.8 13.5,13.8 C10.8,13.8 8.8,12.8 8.8,10.5 Z" fill="#163246"/><rect x="9.5" y="20.5" width="8" height="4.6" fill="#a9e2fb" stroke="#163246" stroke-width=".8"/><rect x="12.4" y="22" width="2.4" height="1.5" fill="#163246"/><path d="M6.5,17 V30 M20.5,17 V30" stroke="#163246" stroke-width=".9" opacity=".55" fill="none"/></g><circle cx="44.8" cy="45" r="9.6" fill="#8fd3f5" stroke="#163246" stroke-width="1.8"/><circle cx="40.8" cy="41" r="1.2" fill="#4f9fd0"/><circle cx="47.3" cy="49.5" r="1.5" fill="#4f9fd0"/><circle cx="42.3" cy="48.5" r="0.9" fill="#4f9fd0"/><circle cx="48.3" cy="42" r="1" fill="#4f9fd0"/><circle cx="45.3" cy="45.3" r="0.8" fill="#4f9fd0"/></svg><svg class="abs" style="left:1670.42px;top:82.40px;overflow:visible" width="74" height="74" viewBox="0 0 72 72"><path d="M36,16.5 C43.5,16.5 48,22 48,28.5 C48,33 46,36.5 43,38.5 C52,41 58.5,48 58.5,55 C58.5,59.5 50,61.5 36,61.5 C22,61.5 13.5,59.5 13.5,55 C13.5,48 20,41 29,38.5 C26,36.5 24,33 24,28.5 C24,22 28.5,16.5 36,16.5 Z" fill="#163246" stroke="#163246" stroke-width="6" stroke-linejoin="round"/><path d="M36,16.5 C43.5,16.5 48,22 48,28.5 C48,33 46,36.5 43,38.5 C52,41 58.5,48 58.5,55 C58.5,59.5 50,61.5 36,61.5 C22,61.5 13.5,59.5 13.5,55 C13.5,48 20,41 29,38.5 C26,36.5 24,33 24,28.5 C24,22 28.5,16.5 36,16.5 Z" fill="none" stroke="#e87450" stroke-width="2.6" stroke-dasharray="7 3.6" stroke-linecap="round"/></svg><div class="badge" style="left:1214.7px;top:75.2px;background:linear-gradient(to top right,#d5dba0 50%,#e6ecae 50%)">11</div><div class="badge" style="left:1382.7px;top:75.2px;background:linear-gradient(to top right,#d5dba0 50%,#e6ecae 50%)">3</div><div class="badge" style="left:1467.3px;top:75.2px;background:linear-gradient(to top right,#d5dba0 50%,#e6ecae 50%)">1</div><div class="abs" style="left:1382.6px;top:130.5px;width:33px;height:33px;border-radius:50%;background:linear-gradient(to top right,#ad1f17 50%,#e53521 50%);color:#f4f0f0;font-size:20px;font-weight:bold;line-height:33px;text-align:center">1</div><div class="t" style="left:1762px;top:120.3px;margin-top:-0.5em;font-size:36px;color:#60bdf0">21</div><div class="abs" style="left:2109px;top:94.8px;width:49px;height:49px;border-radius:50%;border:1.3px solid #16303f;background:linear-gradient(to top right,#b8634a 50%,#ee7650 50%)"></div><svg class="abs" style="left:2109.5px;top:95.3px" width="48" height="48" viewBox="0 0 48 48"><g transform="translate(24.5,24) skewX(-11)"><g transform="translate(1.4,1.6)" fill="#7a3a2a" opacity=".55"><circle cx="2.4" cy="-12" r="3.1"/><path d="M-3.6,-6.6 L3.4,-6.6 L3.4,10.4 C3.4,12.4 2.4,13.6 0.2,13.6 L-3.4,13.6 L-3.4,-3.6 L-4.8,-4.6 Z"/></g><circle cx="2.4" cy="-12" r="3.1" fill="#f2f2f2"/><path d="M-3.6,-6.6 L3.4,-6.6 L3.4,10.4 C3.4,12.4 2.4,13.6 0.2,13.6 L-3.4,13.6 L-3.4,-3.6 L-4.8,-4.6 Z" fill="#ececec"/></g></svg><svg class="abs" style="left:2176px;top:79.5px" width="80" height="80" viewBox="-40 -40 80 80"><defs><clipPath id="xcl"><path d="M-60,-60 L60,60 L-60,60 Z"/></clipPath></defs><g transform="rotate(45)"><path id="xsh" d="M-37,-9.65 H-9.65 V-37 H9.65 V-9.65 H37 V9.65 H9.65 V37 H-9.65 V9.65 H-37 Z" fill="#ee7650" stroke="#173042" stroke-width="9.4" stroke-linejoin="miter" paint-order="stroke"/></g><g clip-path="url(#xcl)"><g transform="rotate(45)"><path d="M-37,-9.65 H-9.65 V-37 H9.65 V-9.65 H37 V9.65 H9.65 V37 H-9.65 V9.65 H-37 Z" fill="#b8634a"/></g></g></svg><div class="pill" style="top:589.0px"><div class="v" style="margin-top:-0.5em;transform:scaleX(0.8372);">911,861</div></div><div class="pill" style="top:675.7px"><div class="v" style="margin-top:-0.5em;transform:scaleX(0.8536);">141,936</div></div><div class="pill" style="top:827.7px"><div class="v" style="margin-top:-0.5em;transform:scaleX(0.9411);">32,700</div></div><div class="pill" style="top:914.4px"><div class="v" style="margin-top:-0.5em;transform:scaleX(0.9404);">33</div></div><div class="pill" style="top:1001.1px"><div class="v" style="margin-top:-0.5em;transform:scaleX(0.7607);">14</div></div><div class="pill" style="top:1087.8px"><div class="v" style="margin-top:-0.5em;">1</div></div><div class="pill" style="top:1174.5px"><div class="v" style="margin-top:-0.5em;">1</div></div><div class="pill" style="top:1261.2px"><div class="v" style="margin-top:-0.5em;transform:scaleX(0.8859);">5</div></div><div class="abs" style="left:183px;top:588px;width:36px;height:64px;color:#e4eba4;font-weight:bold;font-size:61px;line-height:64px;text-align:center;text-shadow:0 0 0 #000"><span style="display:inline-block;transform:scaleX(.92)">$</span></div><svg class="abs" style="left:169.75px;top:672.50px;overflow:visible" width="58.5" height="69"><use href="#i-micro" width="58.5" height="69"/></svg><svg class="abs" style="left:167.00px;top:834.25px;overflow:visible" width="54" height="48.5"><use href="#i-coins" width="54" height="48.5"/></svg><svg class="abs" style="left:166.95px;top:922.00px;overflow:visible" width="53.5" height="48"><use href="#i-earthastro" width="53.5" height="48"/></svg><svg class="abs" style="left:171.50px;top:1009.10px;overflow:visible" width="51" height="51"><use href="#i-stL" width="51" height="51"/></svg><svg class="abs" style="left:171.50px;top:1095.80px;overflow:visible" width="51" height="51"><use href="#i-stG" width="51" height="51"/></svg><svg class="abs" style="left:171.50px;top:1182.50px;overflow:visible" width="51" height="51"><use href="#i-stL2" width="51" height="51"/></svg><svg class="abs" style="left:171.50px;top:1269.20px;overflow:visible" width="51" height="51"><use href="#i-stM" width="51" height="51"/></svg><div class="abs" style="left:0;top:0;width:2640px;height:1414.5px;overflow:hidden"><div class="card" style="left:419px;top:228px"><div class="sec" style="top:0;height:232px;border-radius:19px 19px 0 0"></div><div class="sec" style="top:240px;height:107.5px"></div><div class="sec" style="top:356px;height:85.5px"></div><div class="sec" style="top:449.5px;height:86px;background:linear-gradient(#2c3049,#30314d 60%)"></div><div class="sec" style="top:543.5px;height:111.5px;background:#535575;border-radius:0 0 19px 19px"></div><svg class="abs" style="left:11px;top:12px" width="160" height="200" viewBox="0 0 1158 1448"><clipPath id="pc0"><rect x="0" y="0" width="1158" height="1418"/></clipPath><g clip-path="url(#pc0)"><circle cx="576.5" cy="750" r="506" fill="#ee784f"/><circle cx="576.5" cy="750" r="484" fill="#2f64e0"/><polygon points="105,1418 135,1110 260,930 350,900 350,1040 670,1040 670,900 760,930 890,1130 925,1418" fill="#cbbcbe" /><polygon points="105,1418 135,1110 260,930 350,900 350,1040 270,1100 270,1418" fill="#a9a0b3" /><polygon points="130,1110 260,930 300,920 180,1090" fill="#7f86ad" /><polygon points="760,930 890,1130 925,1418 830,1418 800,1100" fill="#d2c3c2" /><rect x="345" y="1035" width="325" height="65" rx="10" fill="#d9cccd"/><polygon points="105,1360 925,1360 925,1418 105,1418" fill="#6f6b80" /><polygon points="395,800 645,800 670,1040 350,1040" fill="#cba189" /><polygon points="395,800 505,800 505,1040 350,1040" fill="#bf9583" /><polygon points="400,825 620,825 560,880 450,875" fill="#a88373" /><polygon points="350,900 378,870 378,1035 350,1035" fill="#a2643f" /><polygon points="648,870 672,900 672,1035 648,1035" fill="#a2643f" /><ellipse cx="285" cy="470" rx="28" ry="62" fill="#b48d7b"/><ellipse cx="745" cy="470" rx="28" ry="62" fill="#d0a68a"/><polygon points="330,222 670,222 722,400 725,520 690,700 610,830 505,862 400,830 322,680 295,520 300,400" fill="#d5ab90" /><polygon points="330,222 500,222 505,862 400,830 322,680 295,520 300,400" fill="#c29b87" /><polygon points="360,480 420,500 440,700 400,780 330,680" fill="#b8917f" /><polygon points="620,480 700,480 690,700 620,800" fill="#cda288" /><polygon points="285,235 300,180 380,112 500,88 620,105 690,160 730,240 737,425 700,400 662,232 500,210 350,228 312,400 290,425" fill="#5d3c36" /><polygon points="285,235 300,180 380,112 500,88 500,210 350,228 312,400 290,425" fill="#4b2f2f" /><polygon points="335,392 470,376 486,402 340,416" fill="#6a493d" /><polygon points="520,376 650,386 666,412 525,402" fill="#6e4c3f" /><rect x="338" y="424" width="108" height="48" rx="0" fill="#6d5548"/><rect x="346" y="430" width="94" height="38" rx="0" fill="#cbbcb2"/><rect x="384" y="430" width="30" height="38" rx="0" fill="#271e2c"/><rect x="552" y="424" width="116" height="48" rx="0" fill="#7a5e4d"/><rect x="560" y="430" width="102" height="38" rx="0" fill="#cdbfb5"/><rect x="584" y="430" width="26" height="38" rx="0" fill="#271e2c"/><polygon points="458,602 542,602 530,632 470,632" fill="#c4917a" /><rect x="404" y="682" width="198" height="24" rx="6" fill="#9a6a5d"/><rect x="97" y="1228" width="858" height="132" rx="66" fill="#7fcfa6"/><rect x="121" y="1250" width="810" height="88" rx="44" fill="#1b3142"/><g clip-path="url(#mbc)"><rect x="129" y="1258" width="794" height="72" fill="url(#mbg)"/><rect x="196.3" y="1258" width="8" height="72" fill="#1b3142"/><rect x="279.1" y="1258" width="8" height="72" fill="#1b3142"/><rect x="361.9" y="1258" width="8" height="72" fill="#1b3142"/><rect x="444.7" y="1258" width="8" height="72" fill="#1b3142"/><rect x="527.5" y="1258" width="8" height="72" fill="#1b3142"/><rect x="610.3" y="1258" width="8" height="72" fill="#1b3142"/><rect x="693.1" y="1258" width="8" height="72" fill="#1b3142"/><rect x="775.9" y="1258" width="8" height="72" fill="#1b3142"/><rect x="858.7" y="1258" width="8" height="72" fill="#1b3142"/></g></g></svg><div class="t name" style="left:171.00px;top:47.50px;margin-top:-0.5em;transform:scaleX(0.9157);">ADAM DAWSON</div><svg class="abs" style="left:398.00px;top:25.80px;overflow:visible" width="30" height="30"><use href="#i-info" width="30" height="30"/></svg><svg class="abs" style="left:170.60px;top:90.30px;overflow:visible" width="30" height="34"><use href="#i-cake" width="30" height="34"/></svg><div class="t num" style="left:223.20px;top:109.80px;margin-top:-0.5em;">57</div><svg class="abs" style="left:299.30px;top:92.60px;overflow:visible" width="30" height="30"><use href="#i-rank" width="30" height="30"/></svg><div class="t num" style="left:350.60px;top:109.80px;margin-top:-0.5em;"><span class="n">1</span><span class="z">0</span><span class="sl">/</span><span class="n">1</span><span class="z">0</span></div><svg class="abs" style="left:170.10px;top:137.00px;overflow:visible" width="31" height="31"><use href="#i-clockheart" width="31" height="31"/></svg><div class="t num" style="left:223.20px;top:154.80px;margin-top:-0.5em;"><span class="n">1</span>6</div><svg class="abs" style="left:170.10px;top:181.30px;overflow:visible" width="31" height="28"><use href="#i-coins" width="31" height="28"/></svg><div class="t num" style="left:223.20px;top:195.60px;margin-top:-0.5em;"><span class="n">1</span>,<span class="z">0</span><span class="z">0</span><span class="z">0</span></div><div class="abs" style="left:293.7px;top:133.5px;width:85px;height:81.7px;border-radius:9px;background:#253446"></div><svg class="abs" style="left:298.70px;top:137.00px;overflow:visible" width="32.4" height="32.4"><use href="#t-gear" width="32.4" height="32.4"/></svg><svg class="abs" style="left:340.70px;top:137.00px;overflow:visible" width="32.4" height="32.4"><use href="#t-sat" width="32.4" height="32.4"/></svg><svg class="abs" style="left:298.70px;top:178.70px;overflow:visible" width="32.4" height="32.4"><use href="#t-bolt" width="32.4" height="32.4"/></svg><svg class="abs" style="left:340.70px;top:178.70px;overflow:visible" width="32.4" height="32.4"><use href="#t-radar" width="32.4" height="32.4"/></svg><svg class="abs" style="left:23.00px;top:254.80px;overflow:visible" width="28" height="31"><use href="#i-abcd" width="28" height="31"/></svg><div class="t num" style="left:72.60px;top:271.20px;margin-top:-0.5em;">2</div><svg class="abs" style="left:171.00px;top:254.00px;overflow:visible" width="32" height="31"><use href="#i-hand" width="32" height="31"/></svg><div class="t num" style="left:224.20px;top:271.20px;margin-top:-0.5em;"><span class="n">1</span></div><svg class="abs" style="left:300.50px;top:255.80px;overflow:visible" width="27.6" height="30"><use href="#i-micro" width="27.6" height="30"/></svg><div class="t num" style="left:346.80px;top:271.20px;margin-top:-0.5em;"><span class="n">1</span><span class="z">0</span></div><svg class="abs" style="left:22.00px;top:305.80px;overflow:visible" width="31" height="31"><use href="#i-wrenchastro" width="31" height="31"/></svg><div class="t num" style="left:72.60px;top:321.80px;margin-top:-0.5em;"><span class="n">1</span></div><svg class="abs" style="left:174.20px;top:306.00px;overflow:visible" width="24" height="31"><use href="#i-passport" width="24" height="31"/></svg><div class="t num" style="left:224.20px;top:321.80px;margin-top:-0.5em;">4</div><svg class="abs" style="left:299.50px;top:305.80px;overflow:visible" width="30" height="31"><use href="#i-gearmicro" width="30" height="31"/></svg><div class="t num" style="left:346.80px;top:321.80px;margin-top:-0.5em;"><span class="n">1</span></div><svg class="abs" style="left:22.50px;top:383.50px;overflow:visible" width="31" height="31"><use href="#i-stationastro" width="31" height="31"/></svg><div class="st" style="transform:scaleX(1.0036);left:73px;top:365.55px;font-size:21.2px;line-height:1;color:#f1f1f1">At Lunar Orbit <svg style="width:.86em;height:.86em;vertical-align:-0.11em;margin:0 .2em 0 .08em" viewBox="0 0 17 17"><use href="#i-moon" width="17" height="17"/></svg>station. Assigned</div><div class="st" style="transform:scaleX(1.0036);left:73px;top:388.85px;font-size:21.2px;line-height:1;color:#f1f1f1">to module 'Research Module</div><div class="st" style="transform:scaleX(1.0036);left:73px;top:412.15px;font-size:21.2px;line-height:1;color:#f1f1f1">Lunar Orbit – Model III: Large'.</div><svg class="abs" style="left:406.10px;top:394.50px;overflow:visible" width="15" height="15"><use href="#i-redx" width="15" height="15"/></svg><svg class="abs" style="left:25.50px;top:475.50px;overflow:visible" width="23" height="29"><use href="#i-hga" width="23" height="29"/></svg><div class="t num" style="left:73.40px;top:492.00px;margin-top:-0.5em;">5</div><svg class="abs" style="left:174.50px;top:475.50px;overflow:visible" width="23" height="29"><use href="#i-hgb" width="23" height="29"/></svg><div class="t num" style="left:224.20px;top:492.00px;margin-top:-0.5em;"><span class="n">1</span><span class="n">1</span></div><svg class="abs" style="left:298.70px;top:474.50px;overflow:visible" width="31" height="31"><use href="#i-moneyclock" width="31" height="31"/></svg><div class="t num" style="left:347.60px;top:489.50px;margin-top:-0.5em;"><span class="z">0</span></div></div><div class="card" style="left:879px;top:228px"><div class="sec" style="top:0;height:232px;border-radius:19px 19px 0 0"></div><div class="sec" style="top:240px;height:107.5px"></div><div class="sec" style="top:356px;height:85.5px"></div><div class="sec" style="top:449.5px;height:86px;background:linear-gradient(#2c3049,#30314d 60%)"></div><div class="sec" style="top:543.5px;height:111.5px;background:#535575;border-radius:0 0 19px 19px"></div><svg class="abs" style="left:11px;top:12px" width="160" height="200" viewBox="0 0 1158 1448"><clipPath id="pc1"><rect x="0" y="0" width="1158" height="1418"/></clipPath><g clip-path="url(#pc1)"><circle cx="576.5" cy="750" r="506" fill="#ee784f"/><circle cx="576.5" cy="750" r="484" fill="#bf4530"/><polygon points="410,1000 480,1065 640,1065 695,995 705,1418 470,1418" fill="#d9d9dd" /><polygon points="108,1418 160,1150 240,1080 395,978 425,1040 482,1418" fill="#7b97d3" /><polygon points="640,1418 690,995 790,1030 900,1120 975,1418" fill="#7b97d3" /><polygon points="395,978 425,1040 482,1418 440,1418 400,1100" fill="#607bbb" /><polygon points="690,995 720,1020 690,1418 640,1418" fill="#607bbb" /><polygon points="108,1360 975,1360 975,1418 108,1418" fill="#5b70ad" /><polygon points="495,1360 640,1360 640,1418 490,1418" fill="#b8b8c4" /><polygon points="395,830 690,830 692,1000 640,1062 480,1062 405,985" fill="#b98c78" /><polygon points="395,830 520,830 520,1062 480,1062 405,985" fill="#c79a83" /><ellipse cx="268" cy="540" rx="30" ry="62" fill="#c6ad98"/><ellipse cx="760" cy="528" rx="22" ry="55" fill="#b89a85"/><polygon points="320,300 480,262 690,288 722,480 737,560 690,760 600,870 520,882 430,842 340,740 295,590 300,450" fill="#d6a88f" /><polygon points="560,300 690,288 722,480 737,560 690,700 600,660 570,500" fill="#c89a85" /><polygon points="300,600 400,700 520,690 600,660 735,590 690,760 600,870 520,882 430,842 340,740" fill="#a99985" /><polygon points="600,660 735,590 690,760 600,870 560,800" fill="#97897c" /><polygon points="505,398 548,480 572,622 520,660 445,622 470,480" fill="#e5bfa7" /><polygon points="445,622 520,660 572,622 525,685 470,665" fill="#8d6a5b" /><polygon points="220,270 250,190 320,125 420,90 590,65 700,110 790,180 797,240 762,265 778,330 747,545 722,480 692,288 480,262 320,302 300,565 258,480 245,350" fill="#3b394a" /><polygon points="320,125 420,90 500,120 440,250 330,200" fill="#4e4042" /><polygon points="500,120 590,65 700,110 600,230 490,250" fill="#5e5a68" /><polygon points="600,230 700,110 790,180 797,240 700,215" fill="#4a4858" /><polygon points="440,100 500,120 490,250 450,265 420,180" fill="#2e2c3c" /><polygon points="480,262 692,288 760,265 797,240 600,228" fill="#2b2a3a" /><polygon points="340,430 455,393 462,430 346,452" fill="#2a4070" /><polygon points="530,384 655,390 667,426 540,416" fill="#2a4070" /><polygon points="352,482 452,478 440,512 380,522" fill="#7f93ba" /><rect x="362" y="486" width="30" height="26" rx="0" fill="#1e2233"/><polygon points="552,470 665,462 665,492 560,496" fill="#b9c3d8" /><rect x="585" y="466" width="30" height="28" rx="0" fill="#1e2233"/><polygon points="432,735 520,716 602,705 565,748 470,765" fill="#cf9b83" /><polygon points="432,735 520,725 602,705 520,735" fill="#8a5f55" /><rect x="97" y="1228" width="858" height="132" rx="66" fill="#7fcfa6"/><rect x="121" y="1250" width="810" height="88" rx="44" fill="#1b3142"/><g clip-path="url(#mbc)"><rect x="129" y="1258" width="794" height="72" fill="url(#mbg)"/><rect x="196.3" y="1258" width="8" height="72" fill="#1b3142"/><rect x="279.1" y="1258" width="8" height="72" fill="#1b3142"/><rect x="361.9" y="1258" width="8" height="72" fill="#1b3142"/><rect x="444.7" y="1258" width="8" height="72" fill="#1b3142"/><rect x="527.5" y="1258" width="8" height="72" fill="#1b3142"/><rect x="610.3" y="1258" width="8" height="72" fill="#1b3142"/><rect x="693.1" y="1258" width="8" height="72" fill="#1b3142"/><rect x="775.9" y="1258" width="8" height="72" fill="#1b3142"/><rect x="858.7" y="1258" width="8" height="72" fill="#1b3142"/></g></g></svg><div class="t name" style="left:171.00px;top:47.50px;margin-top:-0.5em;transform:scaleX(0.8920);">ANDREW BECK</div><svg class="abs" style="left:398.00px;top:25.80px;overflow:visible" width="30" height="30"><use href="#i-info" width="30" height="30"/></svg><svg class="abs" style="left:170.60px;top:90.30px;overflow:visible" width="30" height="34"><use href="#i-cake" width="30" height="34"/></svg><div class="t num" style="left:223.20px;top:109.80px;margin-top:-0.5em;">28</div><svg class="abs" style="left:299.30px;top:92.60px;overflow:visible" width="30" height="30"><use href="#i-rank" width="30" height="30"/></svg><div class="t num" style="left:350.60px;top:109.80px;margin-top:-0.5em;">3<span class="sl">/</span><span class="n">1</span><span class="z">0</span></div><svg class="abs" style="left:170.10px;top:137.00px;overflow:visible" width="31" height="31"><use href="#i-clockheart" width="31" height="31"/></svg><div class="t num" style="left:223.20px;top:154.80px;margin-top:-0.5em;"><span class="n">1</span>5</div><svg class="abs" style="left:170.10px;top:181.30px;overflow:visible" width="31" height="28"><use href="#i-coins" width="31" height="28"/></svg><div class="t num" style="left:223.20px;top:195.60px;margin-top:-0.5em;">3<span class="z">0</span><span class="z">0</span></div><div class="abs" style="left:293.7px;top:133.5px;width:85px;height:81.7px;border-radius:9px;background:#253446"></div><svg class="abs" style="left:298.70px;top:137.00px;overflow:visible" width="32.4" height="32.4"><use href="#t-none" width="32.4" height="32.4"/></svg><svg class="abs" style="left:340.70px;top:137.00px;overflow:visible" width="32.4" height="32.4"><use href="#t-none" width="32.4" height="32.4"/></svg><svg class="abs" style="left:298.70px;top:178.70px;overflow:visible" width="32.4" height="32.4"><use href="#t-none" width="32.4" height="32.4"/></svg><svg class="abs" style="left:340.70px;top:178.70px;overflow:visible" width="32.4" height="32.4"><use href="#t-none" width="32.4" height="32.4"/></svg><svg class="abs" style="left:23.00px;top:254.80px;overflow:visible" width="28" height="31"><use href="#i-abcd" width="28" height="31"/></svg><div class="t num" style="left:72.60px;top:271.20px;margin-top:-0.5em;">2</div><svg class="abs" style="left:171.50px;top:254.50px;overflow:visible" width="31" height="30"><use href="#i-mortar" width="31" height="30"/></svg><div class="t num" style="left:224.20px;top:271.20px;margin-top:-0.5em;"><span class="n">1</span></div><svg class="abs" style="left:300.50px;top:255.80px;overflow:visible" width="27.6" height="30"><use href="#i-micro" width="27.6" height="30"/></svg><div class="t num" style="left:346.80px;top:271.20px;margin-top:-0.5em;"><span class="n">1</span></div><svg class="abs" style="left:22.00px;top:305.80px;overflow:visible" width="31" height="31"><use href="#i-wrenchastro" width="31" height="31"/></svg><div class="t num" style="left:72.60px;top:321.80px;margin-top:-0.5em;">7</div><svg class="abs" style="left:174.20px;top:306.00px;overflow:visible" width="24" height="31"><use href="#i-passport" width="24" height="31"/></svg><div class="t num" style="left:224.20px;top:321.80px;margin-top:-0.5em;"><span class="n">1</span></div><svg class="abs" style="left:299.50px;top:305.80px;overflow:visible" width="30" height="31"><use href="#i-gearmicro" width="30" height="31"/></svg><div class="t num" style="left:346.80px;top:321.80px;margin-top:-0.5em;">4</div><svg class="abs" style="left:22.50px;top:383.50px;overflow:visible" width="31" height="31"><use href="#i-stationastro" width="31" height="31"/></svg><div class="st" style="transform:scaleX(1.0272);left:73px;top:374.13px;font-size:24px;line-height:1;color:#f1f1f1">At Lunar Orbit <svg style="width:.86em;height:.86em;vertical-align:-0.11em;margin:0 .2em 0 .08em" viewBox="0 0 17 17"><use href="#i-moon" width="17" height="17"/></svg>station.</div><div class="st" style="transform:scaleX(1.0272);left:73px;top:401.03px;font-size:24px;line-height:1;color:#f1f1f1">Maintenance.</div><svg class="abs" style="left:406.10px;top:394.50px;overflow:visible" width="15" height="15"><use href="#i-redx" width="15" height="15"/></svg><svg class="abs" style="left:25.50px;top:475.50px;overflow:visible" width="23" height="29"><use href="#i-hga" width="23" height="29"/></svg><div class="t num" style="left:73.40px;top:492.00px;margin-top:-0.5em;">9</div><svg class="abs" style="left:174.50px;top:475.50px;overflow:visible" width="23" height="29"><use href="#i-hgb" width="23" height="29"/></svg><div class="t num" style="left:224.20px;top:492.00px;margin-top:-0.5em;">6</div><svg class="abs" style="left:298.70px;top:474.50px;overflow:visible" width="31" height="31"><use href="#i-moneyclock" width="31" height="31"/></svg><div class="t num" style="left:347.60px;top:489.50px;margin-top:-0.5em;"><span class="z">0</span></div></div><div class="card" style="left:1339px;top:228px"><div class="sec" style="top:0;height:232px;border-radius:19px 19px 0 0"></div><div class="sec" style="top:240px;height:107.5px"></div><div class="sec" style="top:356px;height:85.5px"></div><div class="sec" style="top:449.5px;height:86px;background:linear-gradient(#2c3049,#30314d 60%)"></div><div class="sec" style="top:543.5px;height:111.5px;background:#535575;border-radius:0 0 19px 19px"></div><svg class="abs" style="left:11px;top:12px" width="160" height="200" viewBox="0 0 1158 1448"><clipPath id="pc2"><rect x="0" y="0" width="1158" height="1418"/></clipPath><g clip-path="url(#pc2)"><circle cx="576.5" cy="750" r="506" fill="#ee784f"/><circle cx="576.5" cy="750" r="484" fill="#70cc9c"/><polygon points="100,1418 105,1200 140,1110 330,960 378,930 470,1030 600,1030 720,950 762,880 782,960 930,1090 990,1200 975,1418" fill="#c6c6cc" /><polygon points="280,1100 420,1130 520,1150 700,1100 720,1418 260,1418" fill="#b7c4e4" /><polygon points="330,960 378,930 470,1030 600,1030 720,950 720,1010 640,1070 440,1070 350,1010" fill="#d2d0d0" /><polygon points="100,1360 975,1360 975,1418 100,1418" fill="#a6a8b8" /><polygon points="260,1360 720,1360 720,1418 260,1418" fill="#a3b4e0" /><polygon points="365,820 705,850 722,955 600,1032 470,1032 372,950" fill="#8f5d46" /><polygon points="560,850 705,850 722,955 600,1032" fill="#7c4f3d" /><ellipse cx="785" cy="500" rx="25" ry="60" fill="#a8745a"/><ellipse cx="232" cy="520" rx="18" ry="55" fill="#9b6a52"/><polygon points="290,240 340,220 440,245 640,200 690,230 740,440 772,620 722,790 600,870 480,887 360,822 260,700 225,560 240,440" fill="#b37a5b" /><polygon points="290,240 340,220 340,330 330,600 420,720 500,885 480,887 360,822 260,700 225,560 240,440" fill="#a56f56" /><polygon points="640,200 690,230 740,440 772,620 722,790 600,870 680,600 680,330" fill="#a8705a" /><polygon points="238,445 250,260 300,190 400,110 590,60 680,120 742,240 767,465 737,440 692,230 640,200 440,247 340,220 290,242 277,475" fill="#19212b" /><polygon points="360,170 470,110 500,160 440,230 370,215" fill="#223247" /><polygon points="340,400 470,374 487,406 335,442" fill="#1c1a1c" /><polygon points="540,374 670,386 692,436 546,410" fill="#1c1a1c" /><polygon points="335,470 447,470 430,506 345,506" fill="#8e8b93" /><rect x="360" y="470" width="46" height="36" rx="0" fill="#26252f"/><polygon points="575,465 687,468 660,498 600,496" fill="#9a979e" /><rect x="602" y="467" width="40" height="27" rx="0" fill="#1f1e26"/><polygon points="452,600 562,600 540,628 475,628" fill="#8c5640" /><polygon points="400,694 500,706 596,694 530,724 450,720" fill="#d5d5d8" /><polygon points="400,694 500,710 596,694 596,700 500,716 400,700" fill="#3a2928" /><rect x="97" y="1228" width="858" height="132" rx="66" fill="#7fcfa6"/><rect x="121" y="1250" width="810" height="88" rx="44" fill="#1b3142"/><g clip-path="url(#mbc)"><rect x="129" y="1258" width="794" height="72" fill="url(#mbg)"/><rect x="196.3" y="1258" width="8" height="72" fill="#1b3142"/><rect x="279.1" y="1258" width="8" height="72" fill="#1b3142"/><rect x="361.9" y="1258" width="8" height="72" fill="#1b3142"/><rect x="444.7" y="1258" width="8" height="72" fill="#1b3142"/><rect x="527.5" y="1258" width="8" height="72" fill="#1b3142"/><rect x="610.3" y="1258" width="8" height="72" fill="#1b3142"/><rect x="693.1" y="1258" width="8" height="72" fill="#1b3142"/><rect x="775.9" y="1258" width="8" height="72" fill="#1b3142"/><rect x="858.7" y="1258" width="8" height="72" fill="#1b3142"/></g></g></svg><div class="t name" style="left:171.00px;top:47.50px;margin-top:-0.5em;transform:scaleX(0.8909);">BERT BLAKE</div><svg class="abs" style="left:398.00px;top:25.80px;overflow:visible" width="30" height="30"><use href="#i-info" width="30" height="30"/></svg><svg class="abs" style="left:170.60px;top:90.30px;overflow:visible" width="30" height="34"><use href="#i-cake" width="30" height="34"/></svg><div class="t num" style="left:223.20px;top:109.80px;margin-top:-0.5em;">62</div><svg class="abs" style="left:299.30px;top:92.60px;overflow:visible" width="30" height="30"><use href="#i-rank" width="30" height="30"/></svg><div class="t num" style="left:350.60px;top:109.80px;margin-top:-0.5em;"><span class="n">1</span><span class="z">0</span><span class="sl">/</span><span class="n">1</span><span class="z">0</span></div><svg class="abs" style="left:170.10px;top:137.00px;overflow:visible" width="31" height="31"><use href="#i-clockheart" width="31" height="31"/></svg><div class="t num" style="left:223.20px;top:154.80px;margin-top:-0.5em;"><span class="n">1</span>4</div><svg class="abs" style="left:170.10px;top:181.30px;overflow:visible" width="31" height="28"><use href="#i-coins" width="31" height="28"/></svg><div class="t num" style="left:223.20px;top:195.60px;margin-top:-0.5em;"><span class="n">1</span>,<span class="z">0</span><span class="z">0</span><span class="z">0</span></div><div class="abs" style="left:293.7px;top:133.5px;width:85px;height:81.7px;border-radius:9px;background:#253446"></div><svg class="abs" style="left:298.70px;top:137.00px;overflow:visible" width="32.4" height="32.4"><use href="#t-sat" width="32.4" height="32.4"/></svg><svg class="abs" style="left:340.70px;top:137.00px;overflow:visible" width="32.4" height="32.4"><use href="#t-bolt" width="32.4" height="32.4"/></svg><svg class="abs" style="left:298.70px;top:178.70px;overflow:visible" width="32.4" height="32.4"><use href="#t-tube" width="32.4" height="32.4"/></svg><svg class="abs" style="left:340.70px;top:178.70px;overflow:visible" width="32.4" height="32.4"><use href="#t-sat" width="32.4" height="32.4"/></svg><svg class="abs" style="left:23.00px;top:254.80px;overflow:visible" width="28" height="31"><use href="#i-abcd" width="28" height="31"/></svg><div class="t num" style="left:72.60px;top:271.20px;margin-top:-0.5em;"><span class="n">1</span></div><svg class="abs" style="left:179.00px;top:254.00px;overflow:visible" width="16" height="31"><use href="#i-vase" width="16" height="31"/></svg><div class="t num" style="left:224.20px;top:271.20px;margin-top:-0.5em;"><span class="n">1</span><span class="z">0</span></div><svg class="abs" style="left:300.50px;top:255.80px;overflow:visible" width="27.6" height="30"><use href="#i-micro" width="27.6" height="30"/></svg><div class="t num" style="left:346.80px;top:271.20px;margin-top:-0.5em;">4</div><svg class="abs" style="left:22.00px;top:305.80px;overflow:visible" width="31" height="31"><use href="#i-wrenchastro" width="31" height="31"/></svg><div class="t num" style="left:72.60px;top:321.80px;margin-top:-0.5em;"><span class="n">1</span></div><svg class="abs" style="left:174.20px;top:306.00px;overflow:visible" width="24" height="31"><use href="#i-passport" width="24" height="31"/></svg><div class="t num" style="left:224.20px;top:321.80px;margin-top:-0.5em;"><span class="n">1</span></div><svg class="abs" style="left:299.50px;top:305.80px;overflow:visible" width="30" height="31"><use href="#i-gearmicro" width="30" height="31"/></svg><div class="t num" style="left:346.80px;top:321.80px;margin-top:-0.5em;">2</div><svg class="abs" style="left:22.50px;top:383.50px;overflow:visible" width="31" height="31"><use href="#i-stationastro" width="31" height="31"/></svg><div class="st" style="transform:scaleX(0.9901);left:73px;top:361.72px;font-size:22.9px;line-height:1;color:#f1f1f1">At LEO <b style="font-family:'Liberation Serif',serif;color:#e3e8a0;font-size:1.08em;line-height:0;margin:0 .28em 0 .18em">L</b>station. Assigned to</div><div class="st" style="transform:scaleX(0.9901);left:73px;top:387.42px;font-size:22.9px;line-height:1;color:#f1f1f1">module 'Research Facility –</div><div class="st" style="transform:scaleX(0.9901);left:73px;top:413.12px;font-size:22.9px;line-height:1;color:#f1f1f1">Advanced'.</div><svg class="abs" style="left:406.10px;top:394.50px;overflow:visible" width="15" height="15"><use href="#i-redx" width="15" height="15"/></svg><svg class="abs" style="left:25.50px;top:475.50px;overflow:visible" width="23" height="29"><use href="#i-hga" width="23" height="29"/></svg><div class="t num" style="left:73.40px;top:492.00px;margin-top:-0.5em;">8</div><svg class="abs" style="left:174.50px;top:475.50px;overflow:visible" width="23" height="29"><use href="#i-hgb" width="23" height="29"/></svg><div class="t num" style="left:224.20px;top:492.00px;margin-top:-0.5em;">6</div><svg class="abs" style="left:298.70px;top:474.50px;overflow:visible" width="31" height="31"><use href="#i-moneyclock" width="31" height="31"/></svg><div class="t num" style="left:347.60px;top:489.50px;margin-top:-0.5em;"><span class="z">0</span></div></div><div class="card" style="left:1799px;top:228px"><div class="sec" style="top:0;height:232px;border-radius:19px 19px 0 0"></div><div class="sec" style="top:240px;height:107.5px"></div><div class="sec" style="top:356px;height:85.5px"></div><div class="sec" style="top:449.5px;height:86px;background:linear-gradient(#2c3049,#30314d 60%)"></div><div class="sec" style="top:543.5px;height:111.5px;background:#535575;border-radius:0 0 19px 19px"></div><svg class="abs" style="left:11px;top:12px" width="160" height="200" viewBox="0 0 1158 1448"><clipPath id="pc3"><rect x="0" y="0" width="1158" height="1418"/></clipPath><g clip-path="url(#pc3)"><circle cx="576.5" cy="750" r="506" fill="#ee784f"/><circle cx="576.5" cy="750" r="484" fill="#bf4530"/><polygon points="200,430 230,200 330,110 440,60 600,90 740,150 820,230 865,430 850,560 940,680 900,760 800,800 720,862 410,862 300,810 155,690 235,600" fill="#7a3b1e" /><polygon points="155,690 235,600 330,640 440,800 410,862 300,810" fill="#8a4a22" /><polygon points="850,560 940,680 900,760 800,800 720,862 690,830 760,640" fill="#5c2d18" /><polygon points="330,110 440,60 540,110 400,300 330,470 235,600 200,430 230,200" fill="#8a431f" /><polygon points="540,110 600,90 740,150 820,230 865,430 850,560 760,640 740,380 680,240 610,185" fill="#6b321a" /><polygon points="178,1418 190,1150 230,1080 300,1040 262,1200 240,1418" fill="#c98a6c" /><polygon points="880,1200 850,1040 920,1100 955,1250 945,1418 890,1418" fill="#c98a6c" /><polygon points="235,1418 262,1200 300,1040 340,1000 800,1000 850,1040 880,1200 892,1418" fill="#c9c9d1" /><polygon points="178,1360 945,1360 945,1418 178,1418" fill="#a9a9b8" /><polygon points="178,1360 240,1360 240,1418 178,1418" fill="#a06a52" /><polygon points="890,1360 945,1360 945,1418 890,1418" fill="#a06a52" /><polygon points="450,790 685,815 712,1000 690,1062 480,1062 428,960" fill="#96695a" /><polygon points="450,790 570,805 570,1062 480,1062 428,960" fill="#ad7c64" /><polygon points="340,1000 382,950 402,1070 470,1140 700,1150 780,1080 790,975 832,1200 760,1222 330,1222 300,1150" fill="#9a9aa4" /><polygon points="380,930 422,900 432,1000 500,1062 680,1062 712,1000 722,900 780,960 760,1082 700,1132 470,1122 390,1052" fill="#4b7079" /><polygon points="340,1150 400,1130 420,1190 360,1215" fill="#d2d2da" /><polygon points="730,1160 790,1150 800,1200 745,1215" fill="#d2d2da" /><ellipse cx="292" cy="560" rx="36" ry="60" fill="#d8a58c"/><ellipse cx="790" cy="550" rx="30" ry="55" fill="#9a6a5c"/><polygon points="390,340 480,250 610,185 680,240 740,380 752,520 722,680 640,790 560,812 470,762 370,640 330,520 340,420" fill="#e2b29b" /><polygon points="655,225 680,240 740,380 752,520 722,680 640,790 590,805 650,640 672,480 640,330" fill="#bb958d" /><polygon points="480,250 610,185 600,330 540,330" fill="#efc4ac" /><polygon points="470,762 560,812 640,790 620,700 500,700" fill="#e8b8a0" /><polygon points="380,420 465,405 470,440 395,448" fill="#8a7a6a" /><rect x="410" y="412" width="35" height="30" rx="0" fill="#4a1f12"/><polygon points="588,405 680,398 690,428 600,432" fill="#8a7a6a" /><rect x="615" y="400" width="35" height="28" rx="0" fill="#4a1f12"/><polygon points="345,360 480,335 490,365 350,395" fill="#c99a84" /><polygon points="570,335 700,340 705,370 575,360" fill="#9a7670" /><polygon points="488,525 540,510 602,535 590,562 500,560" fill="#7a5552" /><polygon points="440,622 540,610 655,618 610,668 490,662" fill="#6a3a38" /><polygon points="458,628 640,624 600,655 495,652" fill="#dcdce4" /><rect x="97" y="1228" width="858" height="132" rx="66" fill="#7fcfa6"/><rect x="121" y="1250" width="810" height="88" rx="44" fill="#1b3142"/><g clip-path="url(#mbc)"><rect x="129" y="1258" width="794" height="72" fill="url(#mbg)"/><rect x="196.3" y="1258" width="8" height="72" fill="#1b3142"/><rect x="279.1" y="1258" width="8" height="72" fill="#1b3142"/><rect x="361.9" y="1258" width="8" height="72" fill="#1b3142"/><rect x="444.7" y="1258" width="8" height="72" fill="#1b3142"/><rect x="527.5" y="1258" width="8" height="72" fill="#1b3142"/><rect x="610.3" y="1258" width="8" height="72" fill="#1b3142"/><rect x="693.1" y="1258" width="8" height="72" fill="#1b3142"/><rect x="775.9" y="1258" width="8" height="72" fill="#1b3142"/><rect x="858.7" y="1258" width="8" height="72" fill="#1b3142"/></g></g></svg><div class="t name" style="left:171.00px;top:33.80px;margin-top:-0.5em;transform:scaleX(0.8856);">BLANCHE</div><div class="t name" style="left:171.00px;top:60.40px;margin-top:-0.5em;transform:scaleX(0.8514);">ROBERSON</div><svg class="abs" style="left:398.00px;top:25.80px;overflow:visible" width="30" height="30"><use href="#i-info" width="30" height="30"/></svg><svg class="abs" style="left:170.60px;top:90.30px;overflow:visible" width="30" height="34"><use href="#i-cake" width="30" height="34"/></svg><div class="t num" style="left:223.20px;top:109.80px;margin-top:-0.5em;color:#e3e8a0;">67</div><svg class="abs" style="left:299.30px;top:92.60px;overflow:visible" width="30" height="30"><use href="#i-rank" width="30" height="30"/></svg><div class="t num" style="left:350.60px;top:109.80px;margin-top:-0.5em;"><span class="n">1</span><span class="n">1</span><span class="sl">/</span><span class="n">1</span><span class="n">1</span></div><svg class="abs" style="left:170.10px;top:137.00px;overflow:visible" width="31" height="31"><use href="#i-clockheart" width="31" height="31"/></svg><div class="t num" style="left:223.20px;top:154.80px;margin-top:-0.5em;"><span class="n">1</span>8</div><svg class="abs" style="left:170.10px;top:181.30px;overflow:visible" width="31" height="28"><use href="#i-coins" width="31" height="28"/></svg><div class="t num" style="left:223.20px;top:195.60px;margin-top:-0.5em;"><span class="n">1</span>,2<span class="z">0</span><span class="z">0</span></div><div class="abs" style="left:293.7px;top:133.5px;width:85px;height:81.7px;border-radius:9px;background:#253446"></div><svg class="abs" style="left:298.70px;top:137.00px;overflow:visible" width="32.4" height="32.4"><use href="#t-wings" width="32.4" height="32.4"/></svg><svg class="abs" style="left:340.70px;top:137.00px;overflow:visible" width="32.4" height="32.4"><use href="#t-gear" width="32.4" height="32.4"/></svg><svg class="abs" style="left:298.70px;top:178.70px;overflow:visible" width="32.4" height="32.4"><use href="#t-tower" width="32.4" height="32.4"/></svg><svg class="abs" style="left:340.70px;top:178.70px;overflow:visible" width="32.4" height="32.4"><use href="#t-bolt2" width="32.4" height="32.4"/></svg><svg class="abs" style="left:23.00px;top:254.80px;overflow:visible" width="28" height="31"><use href="#i-abcd" width="28" height="31"/></svg><div class="t num" style="left:72.60px;top:271.20px;margin-top:-0.5em;"><span class="n">1</span></div><svg class="abs" style="left:171.50px;top:254.50px;overflow:visible" width="31" height="30"><use href="#i-mortar" width="31" height="30"/></svg><div class="t num" style="left:224.20px;top:271.20px;margin-top:-0.5em;"><span class="n">1</span></div><svg class="abs" style="left:300.50px;top:255.80px;overflow:visible" width="27.6" height="30"><use href="#i-micro" width="27.6" height="30"/></svg><div class="t num" style="left:346.80px;top:271.20px;margin-top:-0.5em;">4</div><svg class="abs" style="left:22.00px;top:305.80px;overflow:visible" width="31" height="31"><use href="#i-wrenchastro" width="31" height="31"/></svg><div class="t num" style="left:72.60px;top:321.80px;margin-top:-0.5em;"><span class="n">1</span><span class="z">0</span></div><svg class="abs" style="left:174.20px;top:306.00px;overflow:visible" width="24" height="31"><use href="#i-passport" width="24" height="31"/></svg><div class="t num" style="left:224.20px;top:321.80px;margin-top:-0.5em;"><span class="n">1</span></div><svg class="abs" style="left:299.50px;top:305.80px;overflow:visible" width="30" height="31"><use href="#i-gearmicro" width="30" height="31"/></svg><div class="t num" style="left:346.80px;top:321.80px;margin-top:-0.5em;">3</div><svg class="abs" style="left:22.50px;top:383.50px;overflow:visible" width="31" height="31"><use href="#i-stationastro" width="31" height="31"/></svg><div class="st" style="transform:scaleX(0.9637);left:73px;top:374.13px;font-size:24px;line-height:1;color:#f1f1f1">At LEO <b style="font-family:'Liberation Serif',serif;color:#e3e8a0;font-size:1.08em;line-height:0;margin:0 .28em 0 .18em">L</b>station.</div><div class="st" style="transform:scaleX(0.9637);left:73px;top:401.03px;font-size:24px;line-height:1;color:#f1f1f1">Maintenance.</div><svg class="abs" style="left:406.10px;top:394.50px;overflow:visible" width="15" height="15"><use href="#i-redx" width="15" height="15"/></svg><svg class="abs" style="left:25.50px;top:475.50px;overflow:visible" width="23" height="29"><use href="#i-hga" width="23" height="29"/></svg><div class="t num" style="left:73.40px;top:492.00px;margin-top:-0.5em;"><span class="n">1</span>3</div><svg class="abs" style="left:174.50px;top:475.50px;overflow:visible" width="23" height="29"><use href="#i-hgb" width="23" height="29"/></svg><div class="t num" style="left:224.20px;top:492.00px;margin-top:-0.5em;">5</div><svg class="abs" style="left:298.70px;top:474.50px;overflow:visible" width="31" height="31"><use href="#i-moneyclock" width="31" height="31"/></svg><div class="t num" style="left:347.60px;top:489.50px;margin-top:-0.5em;"><span class="z">0</span></div></div><div class="card" style="left:419px;top:908px"><div class="sec" style="top:0;height:232px;border-radius:19px 19px 0 0"></div><div class="sec" style="top:240px;height:107.5px"></div><div class="sec" style="top:356px;height:85.5px"></div><div class="sec" style="top:449.5px;height:86px;background:linear-gradient(#2c3049,#30314d 60%)"></div><div class="sec" style="top:543.5px;height:111.5px;background:#535575;border-radius:0 0 19px 19px"></div><svg class="abs" style="left:11px;top:12px" width="160" height="200" viewBox="0 0 1158 1448"><clipPath id="pc4"><rect x="0" y="0" width="1158" height="1418"/></clipPath><g clip-path="url(#pc4)"><circle cx="576.5" cy="750" r="506" fill="#ee784f"/><circle cx="576.5" cy="750" r="484" fill="#2f64e0"/><polygon points="230,700 240,480 290,250 360,130 480,75 600,100 680,170 740,320 790,520 832,700 822,890 760,922 690,930 655,935 640,800 400,800 390,932 300,922 260,900" fill="#d1a850" /><polygon points="230,700 300,560 330,700 420,820 390,932 300,922 260,900" fill="#8f7640" /><polygon points="700,560 790,520 832,700 822,890 760,922 690,930 655,935 640,800" fill="#8a713e" /><polygon points="640,720 690,600 700,760 680,900 640,800" fill="#5e4628" /><polygon points="360,130 480,75 600,100 680,170 610,215 360,225 330,200" fill="#e6bf62" /><polygon points="240,1418 200,1220 210,1100 330,1000 380,1090 500,1135 640,1080 740,1000 850,1080 880,1200 800,1418" fill="#a7bff1" /><polygon points="380,1100 500,1140 630,1095 650,1418 360,1418" fill="#e4edf8" /><polygon points="210,1100 330,1000 345,1040 230,1130" fill="#e8eefa" /><polygon points="740,1000 850,1080 835,1110 730,1040" fill="#e8eefa" /><polygon points="240,1360 800,1360 800,1418 240,1418" fill="#d8e2f4" /><polygon points="405,805 612,795 642,930 692,960 702,1042 500,1072 350,1042 350,980 400,930" fill="#5b6b9f" /><polygon points="350,980 400,930 640,930 692,960 702,1042 500,1072 350,1042" fill="#46588e" /><polygon points="330,990 350,1040 500,1075 700,1040 716,960 742,1000 640,1082 500,1137 380,1092 325,1040" fill="#e2b864" /><polygon points="308,495 320,330 360,225 600,215 662,290 702,485 662,420 582,280 390,285 340,400" fill="#3f5688" /><polygon points="390,285 582,280 662,420 702,485 692,640 602,782 500,832 410,792 320,640 305,500 340,400" fill="#c6937b" /><polygon points="500,282 582,280 662,420 702,485 692,640 602,782 500,832" fill="#b98770" /><polygon points="410,792 500,832 602,782 590,800 500,848 420,808" fill="#7a4a3c" /><polygon points="338,396 460,384 472,416 334,428" fill="#2f3550" /><polygon points="525,390 632,374 662,412 530,422" fill="#2f3550" /><polygon points="348,460 455,452 458,505 360,508" fill="#cbc3cd" /><rect x="390" y="464" width="26" height="38" rx="0" fill="#4a3028"/><polygon points="540,452 642,446 640,500 545,502" fill="#cbc3cd" /><rect x="574" y="460" width="28" height="38" rx="0" fill="#4a3028"/><polygon points="438,590 548,590 522,628 465,628" fill="#9c6c5c" /><polygon points="408,690 500,678 582,680 545,724 448,724" fill="#5a3030" /><polygon points="425,692 570,686 540,712 455,712" fill="#e0dcdc" /><rect x="97" y="1228" width="858" height="132" rx="66" fill="#7fcfa6"/><rect x="121" y="1250" width="810" height="88" rx="44" fill="#1b3142"/><g clip-path="url(#mbc)"><rect x="129" y="1258" width="794" height="72" fill="url(#mbg)"/><rect x="196.3" y="1258" width="8" height="72" fill="#1b3142"/><rect x="279.1" y="1258" width="8" height="72" fill="#1b3142"/><rect x="361.9" y="1258" width="8" height="72" fill="#1b3142"/><rect x="444.7" y="1258" width="8" height="72" fill="#1b3142"/><rect x="527.5" y="1258" width="8" height="72" fill="#1b3142"/><rect x="610.3" y="1258" width="8" height="72" fill="#1b3142"/><rect x="693.1" y="1258" width="8" height="72" fill="#1b3142"/><rect x="775.9" y="1258" width="8" height="72" fill="#1b3142"/><rect x="858.7" y="1258" width="8" height="72" fill="#1b3142"/></g></g></svg><div class="t name" style="left:171.00px;top:47.50px;margin-top:-0.5em;transform:scaleX(0.9241);">CAMILLE HAMPTON</div><svg class="abs" style="left:398.00px;top:25.80px;overflow:visible" width="30" height="30"><use href="#i-info" width="30" height="30"/></svg><svg class="abs" style="left:170.60px;top:90.30px;overflow:visible" width="30" height="34"><use href="#i-cake" width="30" height="34"/></svg><div class="t num" style="left:223.20px;top:109.80px;margin-top:-0.5em;">4<span class="z">0</span></div><svg class="abs" style="left:299.30px;top:92.60px;overflow:visible" width="30" height="30"><use href="#i-rank" width="30" height="30"/></svg><div class="t num" style="left:350.60px;top:109.80px;margin-top:-0.5em;"><span class="n">1</span><span class="z">0</span><span class="sl">/</span><span class="n">1</span><span class="z">0</span></div><svg class="abs" style="left:170.10px;top:137.00px;overflow:visible" width="31" height="31"><use href="#i-clockheart" width="31" height="31"/></svg><div class="t num" style="left:223.20px;top:154.80px;margin-top:-0.5em;"><span class="n">1</span>8</div><svg class="abs" style="left:170.10px;top:181.30px;overflow:visible" width="31" height="28"><use href="#i-coins" width="31" height="28"/></svg><div class="t num" style="left:223.20px;top:195.60px;margin-top:-0.5em;"><span class="n">1</span>,<span class="z">0</span><span class="z">0</span><span class="z">0</span></div><div class="abs" style="left:293.7px;top:133.5px;width:85px;height:81.7px;border-radius:9px;background:#253446"></div><svg class="abs" style="left:298.70px;top:137.00px;overflow:visible" width="32.4" height="32.4"><use href="#t-tube" width="32.4" height="32.4"/></svg><svg class="abs" style="left:340.70px;top:137.00px;overflow:visible" width="32.4" height="32.4"><use href="#t-bolt2" width="32.4" height="32.4"/></svg><svg class="abs" style="left:298.70px;top:178.70px;overflow:visible" width="32.4" height="32.4"><use href="#t-globe" width="32.4" height="32.4"/></svg><svg class="abs" style="left:340.70px;top:178.70px;overflow:visible" width="32.4" height="32.4"><use href="#t-wave" width="32.4" height="32.4"/></svg><svg class="abs" style="left:23.00px;top:254.80px;overflow:visible" width="28" height="31"><use href="#i-abcd" width="28" height="31"/></svg><div class="t num" style="left:72.60px;top:271.20px;margin-top:-0.5em;">2</div><svg class="abs" style="left:171.50px;top:254.50px;overflow:visible" width="31" height="30"><use href="#i-mortar" width="31" height="30"/></svg><div class="t num" style="left:224.20px;top:271.20px;margin-top:-0.5em;">3</div><svg class="abs" style="left:300.50px;top:255.80px;overflow:visible" width="27.6" height="30"><use href="#i-micro" width="27.6" height="30"/></svg><div class="t num" style="left:346.80px;top:271.20px;margin-top:-0.5em;"><span class="n">1</span><span class="z">0</span></div><svg class="abs" style="left:22.00px;top:305.80px;overflow:visible" width="31" height="31"><use href="#i-wrenchastro" width="31" height="31"/></svg><div class="t num" style="left:72.60px;top:321.80px;margin-top:-0.5em;">6</div><svg class="abs" style="left:174.20px;top:306.00px;overflow:visible" width="24" height="31"><use href="#i-passport" width="24" height="31"/></svg><div class="t num" style="left:224.20px;top:321.80px;margin-top:-0.5em;"><span class="n">1</span></div><svg class="abs" style="left:299.50px;top:305.80px;overflow:visible" width="30" height="31"><use href="#i-gearmicro" width="30" height="31"/></svg><div class="t num" style="left:346.80px;top:321.80px;margin-top:-0.5em;"><span class="n">1</span></div><svg class="abs" style="left:22.50px;top:383.50px;overflow:visible" width="31" height="31"><use href="#i-stationastro" width="31" height="31"/></svg><div class="st" style="transform:scaleX(0.9749);left:73px;top:374.13px;font-size:24px;line-height:1;color:#f1f1f1">At LEO <b style="font-family:'Liberation Serif',serif;color:#e3e8a0;font-size:1.08em;line-height:0;margin:0 .28em 0 .18em">L</b>station. Assigned to</div><div class="st" style="transform:scaleX(0.9749);left:73px;top:401.03px;font-size:24px;line-height:1;color:#f1f1f1">module 'Cold Atom Lab'.</div><svg class="abs" style="left:406.10px;top:394.50px;overflow:visible" width="15" height="15"><use href="#i-redx" width="15" height="15"/></svg><svg class="abs" style="left:25.50px;top:475.50px;overflow:visible" width="23" height="29"><use href="#i-hga" width="23" height="29"/></svg><div class="t num" style="left:73.40px;top:492.00px;margin-top:-0.5em;"><span class="n">1</span>3</div><svg class="abs" style="left:174.50px;top:475.50px;overflow:visible" width="23" height="29"><use href="#i-hgb" width="23" height="29"/></svg><div class="t num" style="left:224.20px;top:492.00px;margin-top:-0.5em;">5</div><svg class="abs" style="left:298.70px;top:474.50px;overflow:visible" width="31" height="31"><use href="#i-moneyclock" width="31" height="31"/></svg><div class="t num" style="left:347.60px;top:489.50px;margin-top:-0.5em;"><span class="z">0</span></div></div><div class="card" style="left:879px;top:908px"><div class="sec" style="top:0;height:232px;border-radius:19px 19px 0 0"></div><div class="sec" style="top:240px;height:107.5px"></div><div class="sec" style="top:356px;height:85.5px"></div><div class="sec" style="top:449.5px;height:86px;background:linear-gradient(#2c3049,#30314d 60%)"></div><div class="sec" style="top:543.5px;height:111.5px;background:#535575;border-radius:0 0 19px 19px"></div><svg class="abs" style="left:11px;top:12px" width="160" height="200" viewBox="0 0 1158 1448"><clipPath id="pc5"><rect x="0" y="0" width="1158" height="1418"/></clipPath><g clip-path="url(#pc5)"><circle cx="576.5" cy="750" r="506" fill="#ee784f"/><circle cx="576.5" cy="750" r="484" fill="#f0cc5b"/><polygon points="160,1418 230,1200 300,1090 410,1030 440,1090 690,1080 690,1010 790,1070 860,1160 950,1418" fill="#d9d1cd" /><polygon points="300,1090 410,1030 416,1052 322,1112" fill="#6b4a3a" /><polygon points="690,1010 790,1070 796,1102 690,1042" fill="#6b4a3a" /><polygon points="520,1095 545,1095 548,1418 523,1418" fill="#c9a582" /><polygon points="230,1200 300,1090 330,1120 270,1250" fill="#c2bcbc" /><polygon points="820,1110 860,1160 890,1250 850,1240" fill="#b8b2b4" /><polygon points="160,1360 950,1360 950,1418 160,1418" fill="#cfc6bf" /><polygon points="860,1160 895,1200 905,1280 880,1230" fill="#4a95c9" /><polygon points="430,790 642,805 665,900 690,1000 682,1085 560,1100 430,1088 408,1000 410,920" fill="#3d85b8" /><polygon points="408,927 662,906 668,966 412,986" fill="#e2dad2" /><ellipse cx="285" cy="540" rx="25" ry="55" fill="#c99478"/><ellipse cx="770" cy="500" rx="20" ry="50" fill="#a87558"/><polygon points="350,330 420,265 500,280 640,310 700,380 732,520 702,680 622,800 530,832 440,792 340,660 300,540 320,430" fill="#cb9170" /><polygon points="520,285 640,310 700,380 732,520 702,680 622,800 530,832 560,600" fill="#b47d60" /><polygon points="440,792 530,832 622,800 640,830 560,880 480,868 436,825" fill="#9a6850" /><polygon points="255,340 300,170 380,100 520,70 620,80 720,170 770,300 762,450 722,560 702,380 640,310 500,280 420,265 350,330 322,585 270,480" fill="#4893c8" /><polygon points="450,110 560,95 590,160 480,200 410,210" fill="#62b2e2" /><polygon points="620,80 720,170 770,300 762,450 722,560 702,380 660,200" fill="#4f7fa4" /><polygon points="255,340 300,170 340,210 300,420 322,585 270,480" fill="#6a9fc8" /><polygon points="335,470 360,418 472,445 482,472 372,450" fill="#3a3035" /><polygon points="555,440 682,410 702,442 560,467" fill="#3a3035" /><polygon points="345,478 372,456 480,478 470,500 360,505" fill="#7a4a3a" /><polygon points="560,470 690,448 700,480 570,492" fill="#7a4a3a" /><polygon points="360,505 372,495 470,495 468,532 380,538" fill="#d0c5cd" /><rect x="404" y="497" width="32" height="35" rx="0" fill="#3a2f3a"/><polygon points="570,490 680,480 682,515 580,522" fill="#d0c5cd" /><rect x="600" y="487" width="32" height="31" rx="0" fill="#3a2f3a"/><polygon points="472,590 582,590 560,628 500,628" fill="#9a6048" /><polygon points="443,690 530,674 622,685 580,748 500,752" fill="#8a5048" /><polygon points="475,700 592,696 570,722 495,724" fill="#e2e0e0" /><rect x="97" y="1228" width="858" height="132" rx="66" fill="#7fcfa6"/><rect x="121" y="1250" width="810" height="88" rx="44" fill="#1b3142"/><g clip-path="url(#mbc)"><rect x="129" y="1258" width="794" height="72" fill="url(#mbg)"/><rect x="196.3" y="1258" width="8" height="72" fill="#1b3142"/><rect x="279.1" y="1258" width="8" height="72" fill="#1b3142"/><rect x="361.9" y="1258" width="8" height="72" fill="#1b3142"/><rect x="444.7" y="1258" width="8" height="72" fill="#1b3142"/><rect x="527.5" y="1258" width="8" height="72" fill="#1b3142"/><rect x="610.3" y="1258" width="8" height="72" fill="#1b3142"/><rect x="693.1" y="1258" width="8" height="72" fill="#1b3142"/><rect x="775.9" y="1258" width="8" height="72" fill="#1b3142"/><rect x="858.7" y="1258" width="8" height="72" fill="#1b3142"/></g></g></svg><div class="t name" style="left:171.00px;top:47.50px;margin-top:-0.5em;transform:scaleX(0.8767);">DENISE SAUNDERS</div><svg class="abs" style="left:398.00px;top:25.80px;overflow:visible" width="30" height="30"><use href="#i-info" width="30" height="30"/></svg><svg class="abs" style="left:170.60px;top:90.30px;overflow:visible" width="30" height="34"><use href="#i-cake" width="30" height="34"/></svg><div class="t num" style="left:223.20px;top:109.80px;margin-top:-0.5em;">4<span class="z">0</span></div><svg class="abs" style="left:299.30px;top:92.60px;overflow:visible" width="30" height="30"><use href="#i-rank" width="30" height="30"/></svg><div class="t num" style="left:350.60px;top:109.80px;margin-top:-0.5em;"><span class="n">1</span><span class="z">0</span><span class="sl">/</span><span class="n">1</span><span class="z">0</span></div><svg class="abs" style="left:170.10px;top:137.00px;overflow:visible" width="31" height="31"><use href="#i-clockheart" width="31" height="31"/></svg><div class="t num" style="left:223.20px;top:154.80px;margin-top:-0.5em;"><span class="n">1</span>8</div><svg class="abs" style="left:170.10px;top:181.30px;overflow:visible" width="31" height="28"><use href="#i-coins" width="31" height="28"/></svg><div class="t num" style="left:223.20px;top:195.60px;margin-top:-0.5em;"><span class="n">1</span>,<span class="z">0</span><span class="z">0</span><span class="z">0</span></div><div class="abs" style="left:293.7px;top:133.5px;width:85px;height:81.7px;border-radius:9px;background:#253446"></div><svg class="abs" style="left:298.70px;top:137.00px;overflow:visible" width="32.4" height="32.4"><use href="#t-micro" width="32.4" height="32.4"/></svg><svg class="abs" style="left:340.70px;top:137.00px;overflow:visible" width="32.4" height="32.4"><use href="#t-sat" width="32.4" height="32.4"/></svg><svg class="abs" style="left:298.70px;top:178.70px;overflow:visible" width="32.4" height="32.4"><use href="#t-bolt" width="32.4" height="32.4"/></svg><svg class="abs" style="left:340.70px;top:178.70px;overflow:visible" width="32.4" height="32.4"><use href="#t-none" width="32.4" height="32.4"/></svg><svg class="abs" style="left:23.00px;top:254.80px;overflow:visible" width="28" height="31"><use href="#i-abcd" width="28" height="31"/></svg><div class="t num" style="left:72.60px;top:271.20px;margin-top:-0.5em;"><span class="n">1</span></div><svg class="abs" style="left:172.00px;top:254.50px;overflow:visible" width="30" height="30"><use href="#i-flask" width="30" height="30"/></svg><div class="t num" style="left:224.20px;top:271.20px;margin-top:-0.5em;"><span class="n">1</span></div><svg class="abs" style="left:300.50px;top:255.80px;overflow:visible" width="27.6" height="30"><use href="#i-micro" width="27.6" height="30"/></svg><div class="t num" style="left:346.80px;top:271.20px;margin-top:-0.5em;">2</div><svg class="abs" style="left:22.00px;top:305.80px;overflow:visible" width="31" height="31"><use href="#i-wrenchastro" width="31" height="31"/></svg><div class="t num" style="left:72.60px;top:321.80px;margin-top:-0.5em;">4</div><svg class="abs" style="left:174.20px;top:306.00px;overflow:visible" width="24" height="31"><use href="#i-passport" width="24" height="31"/></svg><div class="t num" style="left:224.20px;top:321.80px;margin-top:-0.5em;">5</div><svg class="abs" style="left:299.50px;top:305.80px;overflow:visible" width="30" height="31"><use href="#i-gearmicro" width="30" height="31"/></svg><div class="t num" style="left:346.80px;top:321.80px;margin-top:-0.5em;"><span class="n">1</span><span class="z">0</span></div><svg class="abs" style="left:22.50px;top:383.50px;overflow:visible" width="31" height="31"><use href="#i-stationastro" width="31" height="31"/></svg><div class="st" style="transform:scaleX(0.9485);left:73px;top:389.18px;font-size:24px;line-height:1;color:#e3e8a0">At GSO <b style="font-family:'Liberation Serif',serif;color:#e3e8a0;font-size:1.04em;line-height:0;margin:0 .2em 0 .12em">G</b>station. Unassigned.</div><svg class="abs" style="left:25.50px;top:475.50px;overflow:visible" width="23" height="29"><use href="#i-hga" width="23" height="29"/></svg><div class="t num" style="left:73.40px;top:492.00px;margin-top:-0.5em;">2</div><svg class="abs" style="left:174.50px;top:475.50px;overflow:visible" width="23" height="29"><use href="#i-hgb" width="23" height="29"/></svg><div class="t num" style="left:224.20px;top:492.00px;margin-top:-0.5em;"><span class="n">1</span>6</div><svg class="abs" style="left:298.70px;top:474.50px;overflow:visible" width="31" height="31"><use href="#i-moneyclock" width="31" height="31"/></svg><div class="t num" style="left:347.60px;top:489.50px;margin-top:-0.5em;"><span class="z">0</span></div></div><div class="card" style="left:1339px;top:908px"><div class="sec" style="top:0;height:232px;border-radius:19px 19px 0 0"></div><div class="sec" style="top:240px;height:107.5px"></div><div class="sec" style="top:356px;height:85.5px"></div><div class="sec" style="top:449.5px;height:86px;background:linear-gradient(#2c3049,#30314d 60%)"></div><div class="sec" style="top:543.5px;height:111.5px;background:#535575;border-radius:0 0 19px 19px"></div><svg class="abs" style="left:11px;top:12px" width="160" height="200" viewBox="0 0 1158 1448"><clipPath id="pc6"><rect x="0" y="0" width="1158" height="1418"/></clipPath><g clip-path="url(#pc6)"><circle cx="576.5" cy="750" r="506" fill="#ee784f"/><circle cx="576.5" cy="750" r="484" fill="#2f64e0"/><polygon points="20,1418 60,1150 110,980 340,900 500,1020 612,900 832,970 880,1100 892,1418" fill="#7a5038" /><polygon points="20,1418 60,1150 110,980 200,950 150,1200 160,1418" fill="#5e3c2a" /><polygon points="760,950 832,970 880,1100 892,1418 800,1418" fill="#5e3c2a" /><polygon points="160,1418 200,1160 250,930 272,925 240,1150 700,1150 680,935 712,935 752,1150 802,1250 780,1418" fill="#cac7c5" /><polygon points="160,1360 780,1360 780,1418 160,1418" fill="#b8b4b2" /><polygon points="385,780 562,790 602,900 500,1022 440,1022 350,900" fill="#4a2e24" /><ellipse cx="228" cy="625" rx="30" ry="40" fill="#5a3a2c"/><ellipse cx="700" cy="625" rx="28" ry="40" fill="#5a3a2c"/><polygon points="270,460 380,330 490,270 560,330 640,420 692,590 652,700 562,800 440,812 380,792 300,700 250,600" fill="#633f2e" /><polygon points="300,560 640,560 660,640 300,660" fill="#6e4832" /><polygon points="380,792 440,812 562,800 540,770 420,770" fill="#4f3124" /><polygon points="140,430 190,280 270,150 420,75 650,135 740,280 802,400 802,450 702,602 642,420 560,330 490,270 380,330 270,460 250,602 220,590" fill="#2a3f98" /><polygon points="270,150 420,75 650,135 600,200 480,190 330,260" fill="#3450b0" /><polygon points="490,270 560,200 660,260 740,280 802,400 802,450 702,602 642,420 560,330" fill="#22307e" /><polygon points="140,430 190,280 330,260 260,400 250,602 220,590" fill="#263a8c" /><polygon points="380,330 490,270 500,210 400,250 300,380" fill="#1c2564" /><polygon points="308,418 415,412 418,448 300,452" fill="#2a2428" /><polygon points="508,412 612,410 622,440 512,446" fill="#2a2428" /><polygon points="298,522 362,486 422,546 330,548" fill="#b6a9a6" /><rect x="360" y="490" width="26" height="50" rx="0" fill="#2a1c1c"/><polygon points="508,542 562,486 632,520 600,548" fill="#b6a9a6" /><rect x="545" y="490" width="27" height="50" rx="0" fill="#2a1c1c"/><polygon points="410,612 522,612 468,648" fill="#4a2e24" /><polygon points="372,684 460,676 558,680 522,720 492,742 440,742 418,718" fill="#7a4a8a" /><polygon points="385,688 545,684 515,712 425,714" fill="#e0dcdc" /><rect x="97" y="1228" width="858" height="132" rx="66" fill="#7fcfa6"/><rect x="121" y="1250" width="810" height="88" rx="44" fill="#1b3142"/><g clip-path="url(#mbc)"><rect x="129" y="1258" width="794" height="72" fill="url(#mbg)"/><rect x="196.3" y="1258" width="8" height="72" fill="#1b3142"/><rect x="279.1" y="1258" width="8" height="72" fill="#1b3142"/><rect x="361.9" y="1258" width="8" height="72" fill="#1b3142"/><rect x="444.7" y="1258" width="8" height="72" fill="#1b3142"/><rect x="527.5" y="1258" width="8" height="72" fill="#1b3142"/><rect x="610.3" y="1258" width="8" height="72" fill="#1b3142"/><rect x="693.1" y="1258" width="8" height="72" fill="#1b3142"/><rect x="775.9" y="1258" width="8" height="72" fill="#1b3142"/><rect x="858.7" y="1258" width="8" height="72" fill="#1b3142"/></g></g></svg><div class="t name" style="left:171.00px;top:47.50px;margin-top:-0.5em;transform:scaleX(0.9036);">EDNA HARMON</div><svg class="abs" style="left:398.00px;top:25.80px;overflow:visible" width="30" height="30"><use href="#i-info" width="30" height="30"/></svg><svg class="abs" style="left:170.60px;top:90.30px;overflow:visible" width="30" height="34"><use href="#i-cake" width="30" height="34"/></svg><div class="t num" style="left:223.20px;top:109.80px;margin-top:-0.5em;">44</div><svg class="abs" style="left:299.30px;top:92.60px;overflow:visible" width="30" height="30"><use href="#i-rank" width="30" height="30"/></svg><div class="t num" style="left:350.60px;top:109.80px;margin-top:-0.5em;"><span class="n">1</span><span class="z">0</span><span class="sl">/</span><span class="n">1</span><span class="z">0</span></div><svg class="abs" style="left:170.10px;top:137.00px;overflow:visible" width="31" height="31"><use href="#i-clockheart" width="31" height="31"/></svg><div class="t num" style="left:223.20px;top:154.80px;margin-top:-0.5em;">2<span class="n">1</span></div><svg class="abs" style="left:170.10px;top:181.30px;overflow:visible" width="31" height="28"><use href="#i-coins" width="31" height="28"/></svg><div class="t num" style="left:223.20px;top:195.60px;margin-top:-0.5em;"><span class="n">1</span>,<span class="z">0</span><span class="z">0</span><span class="z">0</span></div><div class="abs" style="left:293.7px;top:133.5px;width:85px;height:81.7px;border-radius:9px;background:#253446"></div><svg class="abs" style="left:298.70px;top:137.00px;overflow:visible" width="32.4" height="32.4"><use href="#t-bolt" width="32.4" height="32.4"/></svg><svg class="abs" style="left:340.70px;top:137.00px;overflow:visible" width="32.4" height="32.4"><use href="#t-bolt2" width="32.4" height="32.4"/></svg><svg class="abs" style="left:298.70px;top:178.70px;overflow:visible" width="32.4" height="32.4"><use href="#t-sliders" width="32.4" height="32.4"/></svg><svg class="abs" style="left:340.70px;top:178.70px;overflow:visible" width="32.4" height="32.4"><use href="#t-compass" width="32.4" height="32.4"/></svg><svg class="abs" style="left:23.00px;top:254.80px;overflow:visible" width="28" height="31"><use href="#i-abcd" width="28" height="31"/></svg><div class="t num" style="left:72.60px;top:271.20px;margin-top:-0.5em;">3</div><svg class="abs" style="left:172.00px;top:258.00px;overflow:visible" width="30" height="23"><use href="#i-diamond" width="30" height="23"/></svg><div class="t num" style="left:224.20px;top:271.20px;margin-top:-0.5em;">3</div><svg class="abs" style="left:300.50px;top:255.80px;overflow:visible" width="27.6" height="30"><use href="#i-micro" width="27.6" height="30"/></svg><div class="t num" style="left:346.80px;top:271.20px;margin-top:-0.5em;"><span class="n">1</span><span class="z">0</span></div><svg class="abs" style="left:22.00px;top:305.80px;overflow:visible" width="31" height="31"><use href="#i-wrenchastro" width="31" height="31"/></svg><div class="t num" style="left:72.60px;top:321.80px;margin-top:-0.5em;">3</div><svg class="abs" style="left:174.20px;top:306.00px;overflow:visible" width="24" height="31"><use href="#i-passport" width="24" height="31"/></svg><div class="t num" style="left:224.20px;top:321.80px;margin-top:-0.5em;">3</div><svg class="abs" style="left:299.50px;top:305.80px;overflow:visible" width="30" height="31"><use href="#i-gearmicro" width="30" height="31"/></svg><div class="t num" style="left:346.80px;top:321.80px;margin-top:-0.5em;"><span class="n">1</span></div><svg class="abs" style="left:22.50px;top:383.50px;overflow:visible" width="31" height="31"><use href="#i-stationastro" width="31" height="31"/></svg><div class="st" style="transform:scaleX(1.0036);left:73px;top:365.55px;font-size:21.2px;line-height:1;color:#f1f1f1">At Lunar Orbit <svg style="width:.86em;height:.86em;vertical-align:-0.11em;margin:0 .2em 0 .08em" viewBox="0 0 17 17"><use href="#i-moon" width="17" height="17"/></svg>station. Assigned</div><div class="st" style="transform:scaleX(1.0036);left:73px;top:388.85px;font-size:21.2px;line-height:1;color:#f1f1f1">to module 'Research Module</div><div class="st" style="transform:scaleX(1.0036);left:73px;top:412.15px;font-size:21.2px;line-height:1;color:#f1f1f1">Lunar Orbit – Model III: Large'.</div><svg class="abs" style="left:406.10px;top:394.50px;overflow:visible" width="15" height="15"><use href="#i-redx" width="15" height="15"/></svg><svg class="abs" style="left:25.50px;top:475.50px;overflow:visible" width="23" height="29"><use href="#i-hga" width="23" height="29"/></svg><div class="t num" style="left:73.40px;top:492.00px;margin-top:-0.5em;">8</div><svg class="abs" style="left:174.50px;top:475.50px;overflow:visible" width="23" height="29"><use href="#i-hgb" width="23" height="29"/></svg><div class="t num" style="left:224.20px;top:492.00px;margin-top:-0.5em;"><span class="n">1</span>3</div><svg class="abs" style="left:298.70px;top:474.50px;overflow:visible" width="31" height="31"><use href="#i-moneyclock" width="31" height="31"/></svg><div class="t num" style="left:347.60px;top:489.50px;margin-top:-0.5em;"><span class="z">0</span></div></div><div class="card" style="left:1799px;top:908px"><div class="sec" style="top:0;height:232px;border-radius:19px 19px 0 0"></div><div class="sec" style="top:240px;height:107.5px"></div><div class="sec" style="top:356px;height:85.5px"></div><div class="sec" style="top:449.5px;height:86px;background:linear-gradient(#2c3049,#30314d 60%)"></div><div class="sec" style="top:543.5px;height:111.5px;background:#535575;border-radius:0 0 19px 19px"></div><svg class="abs" style="left:11px;top:12px" width="160" height="200" viewBox="0 0 1158 1448"><clipPath id="pc7"><rect x="0" y="0" width="1158" height="1418"/></clipPath><g clip-path="url(#pc7)"><circle cx="576.5" cy="750" r="506" fill="#ee784f"/><circle cx="576.5" cy="750" r="484" fill="#bf4530"/><polygon points="235,800 230,650 270,350 320,200 400,110 530,70 680,110 770,200 820,340 860,650 867,800 820,862 700,842 400,842 300,862" fill="#5e2b1e" /><polygon points="690,290 770,200 820,340 860,650 867,800 820,862 760,760" fill="#4a2018" /><polygon points="530,70 530,228 480,228 400,280 350,330 320,200 400,110" fill="#6a3222" /><polygon points="105,1418 110,1250 262,1300 272,1418" fill="#9a6a55" /><polygon points="890,1418 900,1280 1052,1230 1052,1418" fill="#8a5e4c" /><polygon points="450,730 680,730 702,800 600,902 540,902 430,800" fill="#8f6858" /><polygon points="60,1200 140,960 280,880 400,830 440,770 540,900 600,900 690,770 740,830 830,870 960,940 1052,1200 1000,1252 900,1418 260,1418 130,1252" fill="#dedad6" /><polygon points="60,1200 140,960 200,930 150,1230" fill="#c4c0c0" /><polygon points="960,940 1052,1200 1000,1252 930,1000" fill="#c9c5c4" /><polygon points="400,830 440,770 540,900 545,945 440,900" fill="#d4d4d8" /><polygon points="600,900 690,770 740,830 700,900 596,945" fill="#bfc3d2" /><polygon points="280,880 322,860 347,970 292,1100 282,1232 255,1232 255,1100 312,970" fill="#4a5878" /><polygon points="795,865 837,880 812,1000 867,1110 852,1232 825,1232 837,1110 782,1000" fill="#4a5878" /><rect x="556" y="918" width="30" height="122" rx="0" fill="#9a8a70"/><rect x="558" y="1040" width="26" height="344" rx="0" fill="#4a6088"/><polygon points="260,1360 900,1360 900,1418 260,1418" fill="#c8c4c2" /><polygon points="320,1385 820,1385 800,1418 340,1418" fill="#3a4668" /><ellipse cx="310" cy="492" rx="28" ry="60" fill="#b98a74"/><ellipse cx="782" cy="500" rx="25" ry="60" fill="#a67a68"/><polygon points="350,330 400,280 480,228 600,228 690,290 740,400 752,520 722,640 660,740 560,772 480,752 400,680 350,540" fill="#d4a389" /><polygon points="540,228 600,228 690,290 740,400 752,520 722,640 660,740 560,772 590,560" fill="#b78c79" /><polygon points="480,228 540,228 545,420 500,420" fill="#e0b298" /><polygon points="480,752 560,772 660,740 640,700 500,700" fill="#b48570" /><polygon points="378,422 400,394 492,400 497,416 402,410" fill="#4a5a55" /><polygon points="580,410 602,394 692,394 702,416 602,406" fill="#4a5a55" /><polygon points="385,460 440,445 495,470 440,495" fill="#a07a6a" /><polygon points="405,458 490,456 488,488 410,490" fill="#d8d0cc" /><rect x="434" y="456" width="24" height="32" rx="0" fill="#6a1c1c"/><polygon points="590,470 640,445 700,460 650,495" fill="#94705f" /><polygon points="600,456 688,456 686,488 604,490" fill="#d8d0cc" /><rect x="622" y="456" width="24" height="32" rx="0" fill="#6a1c1c"/><polygon points="500,596 545,480 560,596 592,600 552,632" fill="#c4917a" /><polygon points="500,596 592,600 552,634" fill="#7e5548" /><polygon points="478,660 545,652 612,660 592,692 500,692" fill="#c28672" /><polygon points="478,664 612,664 545,676" fill="#8a5848" /><rect x="97" y="1228" width="858" height="132" rx="66" fill="#7fcfa6"/><rect x="121" y="1250" width="810" height="88" rx="44" fill="#1b3142"/><g clip-path="url(#mbc)"><rect x="129" y="1258" width="794" height="72" fill="url(#mbg)"/><rect x="196.3" y="1258" width="8" height="72" fill="#1b3142"/><rect x="279.1" y="1258" width="8" height="72" fill="#1b3142"/><rect x="361.9" y="1258" width="8" height="72" fill="#1b3142"/><rect x="444.7" y="1258" width="8" height="72" fill="#1b3142"/><rect x="527.5" y="1258" width="8" height="72" fill="#1b3142"/><rect x="610.3" y="1258" width="8" height="72" fill="#1b3142"/><rect x="693.1" y="1258" width="8" height="72" fill="#1b3142"/><rect x="775.9" y="1258" width="8" height="72" fill="#1b3142"/><rect x="858.7" y="1258" width="8" height="72" fill="#1b3142"/></g></g></svg><div class="t name" style="left:171.00px;top:47.50px;margin-top:-0.5em;transform:scaleX(0.8893);">ETHEL ANDREWS</div><svg class="abs" style="left:398.00px;top:25.80px;overflow:visible" width="30" height="30"><use href="#i-info" width="30" height="30"/></svg><svg class="abs" style="left:170.60px;top:90.30px;overflow:visible" width="30" height="34"><use href="#i-cake" width="30" height="34"/></svg><div class="t num" style="left:223.20px;top:109.80px;margin-top:-0.5em;color:#e3e8a0;">68</div><svg class="abs" style="left:299.30px;top:92.60px;overflow:visible" width="30" height="30"><use href="#i-rank" width="30" height="30"/></svg><div class="t num" style="left:350.60px;top:109.80px;margin-top:-0.5em;"><span class="n">1</span><span class="z">0</span><span class="sl">/</span><span class="n">1</span><span class="z">0</span></div><svg class="abs" style="left:170.10px;top:137.00px;overflow:visible" width="31" height="31"><use href="#i-clockheart" width="31" height="31"/></svg><div class="t num" style="left:223.20px;top:154.80px;margin-top:-0.5em;"><span class="n">1</span>4</div><svg class="abs" style="left:170.10px;top:181.30px;overflow:visible" width="31" height="28"><use href="#i-coins" width="31" height="28"/></svg><div class="t num" style="left:223.20px;top:195.60px;margin-top:-0.5em;"><span class="n">1</span>,<span class="z">0</span><span class="z">0</span><span class="z">0</span></div><div class="abs" style="left:293.7px;top:133.5px;width:85px;height:81.7px;border-radius:9px;background:#253446"></div><svg class="abs" style="left:298.70px;top:137.00px;overflow:visible" width="32.4" height="32.4"><use href="#t-sat" width="32.4" height="32.4"/></svg><svg class="abs" style="left:340.70px;top:137.00px;overflow:visible" width="32.4" height="32.4"><use href="#t-bolt" width="32.4" height="32.4"/></svg><svg class="abs" style="left:298.70px;top:178.70px;overflow:visible" width="32.4" height="32.4"><use href="#t-bolt2" width="32.4" height="32.4"/></svg><svg class="abs" style="left:340.70px;top:178.70px;overflow:visible" width="32.4" height="32.4"><use href="#t-gear" width="32.4" height="32.4"/></svg><svg class="abs" style="left:23.00px;top:254.80px;overflow:visible" width="28" height="31"><use href="#i-abcd" width="28" height="31"/></svg><div class="t num" style="left:72.60px;top:271.20px;margin-top:-0.5em;">2</div><svg class="abs" style="left:171.50px;top:254.50px;overflow:visible" width="31" height="30"><use href="#i-mortar" width="31" height="30"/></svg><div class="t num" style="left:224.20px;top:271.20px;margin-top:-0.5em;"><span class="n">1</span></div><svg class="abs" style="left:300.50px;top:255.80px;overflow:visible" width="27.6" height="30"><use href="#i-micro" width="27.6" height="30"/></svg><div class="t num" style="left:346.80px;top:271.20px;margin-top:-0.5em;">4</div><svg class="abs" style="left:22.00px;top:305.80px;overflow:visible" width="31" height="31"><use href="#i-wrenchastro" width="31" height="31"/></svg><div class="t num" style="left:72.60px;top:321.80px;margin-top:-0.5em;"><span class="n">1</span><span class="z">0</span></div><svg class="abs" style="left:174.20px;top:306.00px;overflow:visible" width="24" height="31"><use href="#i-passport" width="24" height="31"/></svg><div class="t num" style="left:224.20px;top:321.80px;margin-top:-0.5em;"><span class="n">1</span></div><svg class="abs" style="left:299.50px;top:305.80px;overflow:visible" width="30" height="31"><use href="#i-gearmicro" width="30" height="31"/></svg><div class="t num" style="left:346.80px;top:321.80px;margin-top:-0.5em;"><span class="n">1</span></div><svg class="abs" style="left:22.50px;top:383.50px;overflow:visible" width="31" height="31"><use href="#i-stationastro" width="31" height="31"/></svg><div class="st" style="transform:scaleX(0.9637);left:73px;top:374.13px;font-size:24px;line-height:1;color:#f1f1f1">At LEO <b style="font-family:'Liberation Serif',serif;color:#e3e8a0;font-size:1.08em;line-height:0;margin:0 .28em 0 .18em">L</b>station.</div><div class="st" style="transform:scaleX(0.9637);left:73px;top:401.03px;font-size:24px;line-height:1;color:#f1f1f1">Maintenance.</div><svg class="abs" style="left:406.10px;top:394.50px;overflow:visible" width="15" height="15"><use href="#i-redx" width="15" height="15"/></svg><svg class="abs" style="left:25.50px;top:475.50px;overflow:visible" width="23" height="29"><use href="#i-hga" width="23" height="29"/></svg><div class="t num" style="left:73.40px;top:492.00px;margin-top:-0.5em;">8</div><svg class="abs" style="left:174.50px;top:475.50px;overflow:visible" width="23" height="29"><use href="#i-hgb" width="23" height="29"/></svg><div class="t num" style="left:224.20px;top:492.00px;margin-top:-0.5em;">6</div><svg class="abs" style="left:298.70px;top:474.50px;overflow:visible" width="31" height="31"><use href="#i-moneyclock" width="31" height="31"/></svg><div class="t num" style="left:347.60px;top:489.50px;margin-top:-0.5em;"><span class="z">0</span></div></div></div><div class="abs" style="left:2274px;top:228px;width:19px;height:1186px;border-radius:9.5px;background:#2a2d3e"></div><div class="abs" style="left:2274px;top:228px;width:19px;height:523px;border-radius:8px;background:#ee7a52"></div><svg class="abs" style="left:1236.9px;top:1438.5px" width="33" height="33" viewBox="-16.5 -16.5 33 33"><circle r="16" fill="#163246"/><circle r="14.6" fill="#ec7650"/><path d="M-10.3,-10.3 A14.6,14.6 0 0 0 10.3,10.3 Z" fill="#b8634a"/><g transform="scale(1.25,1.25) translate(-0.6,-0.4)"><path d="M3.5,-7.5 L-4.5,0.5 L-1.8,3.2 L6.2,-4.8 Z" fill="#f4f4f4"/><path d="M-4.5,0.5 L3.5,8.5 L6.2,5.8 L-1.8,-2.2 Z" fill="#cfcfcf"/></g></svg><svg class="abs" style="left:1367.9px;top:1438.5px" width="33" height="33" viewBox="-16.5 -16.5 33 33"><circle r="16" fill="#163246"/><circle r="14.6" fill="#ec7650"/><path d="M-10.3,-10.3 A14.6,14.6 0 0 0 10.3,10.3 Z" fill="#b8634a"/><g transform="scale(-1.25,1.25) translate(-0.6,-0.4)"><path d="M3.5,-7.5 L-4.5,0.5 L-1.8,3.2 L6.2,-4.8 Z" fill="#f4f4f4"/><path d="M-4.5,0.5 L3.5,8.5 L6.2,5.8 L-1.8,-2.2 Z" fill="#cfcfcf"/></g></svg><div class="t" style="left:1303px;top:1455.6px;margin-top:-0.5em;font-size:21.5px;color:#f1f1f1;transform:scaleX(.98)">1/2</div></body></html>
